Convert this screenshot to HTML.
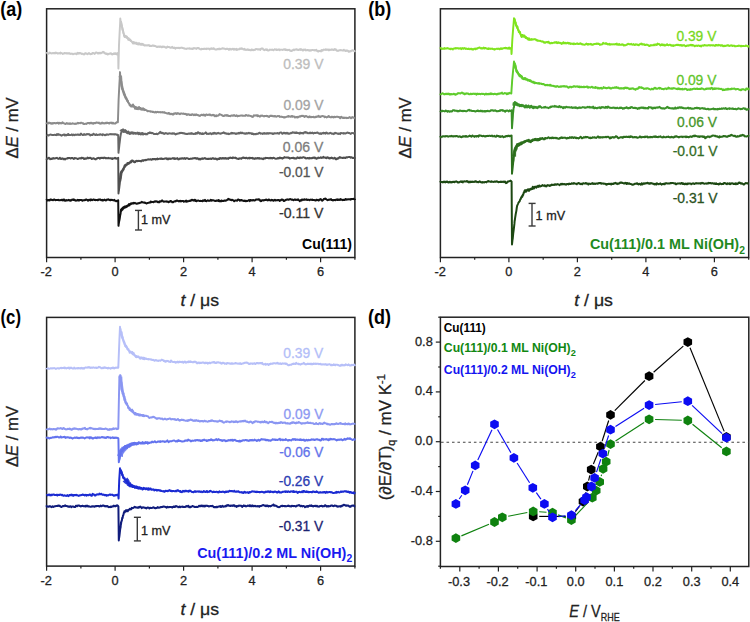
<!DOCTYPE html>
<html><head><meta charset="utf-8"><style>
html,body{margin:0;padding:0;background:#fff;}
svg{display:block;}
text{font-family:"Liberation Sans",sans-serif;}
</style></head><body>
<svg width="750" height="622" viewBox="0 0 750 622">
<rect width="750" height="622" fill="#fff"/>
<text x="0.2" y="15.6" font-size="19.5" fill="#000" font-weight="bold" font-style="normal" text-anchor="start" textLength="22" lengthAdjust="spacingAndGlyphs" >(a)</text>
<rect x="46.6" y="8.8" width="308.29999999999995" height="248.7" fill="none" stroke="#222" stroke-width="1.5"/>
<line x1="46.6" y1="257.5" x2="46.6" y2="262.2" stroke="#222" stroke-width="1.2"/>
<line x1="115.1" y1="257.5" x2="115.1" y2="262.2" stroke="#222" stroke-width="1.2"/>
<line x1="183.6" y1="257.5" x2="183.6" y2="262.2" stroke="#222" stroke-width="1.2"/>
<line x1="252.1" y1="257.5" x2="252.1" y2="262.2" stroke="#222" stroke-width="1.2"/>
<line x1="320.6" y1="257.5" x2="320.6" y2="262.2" stroke="#222" stroke-width="1.2"/>
<line x1="80.9" y1="257.5" x2="80.9" y2="259.8" stroke="#222" stroke-width="1.2"/>
<line x1="149.4" y1="257.5" x2="149.4" y2="259.8" stroke="#222" stroke-width="1.2"/>
<line x1="217.9" y1="257.5" x2="217.9" y2="259.8" stroke="#222" stroke-width="1.2"/>
<line x1="286.4" y1="257.5" x2="286.4" y2="259.8" stroke="#222" stroke-width="1.2"/>
<line x1="354.9" y1="257.5" x2="354.9" y2="259.8" stroke="#222" stroke-width="1.2"/>
<text x="46.3" y="276.4" font-size="12.8" fill="#222" stroke="#222" stroke-width="0.28" font-weight="normal" font-style="normal" text-anchor="middle" >-2</text>
<text x="115.1" y="276.4" font-size="12.8" fill="#222" stroke="#222" stroke-width="0.28" font-weight="normal" font-style="normal" text-anchor="middle" >0</text>
<text x="183.6" y="276.4" font-size="12.8" fill="#222" stroke="#222" stroke-width="0.28" font-weight="normal" font-style="normal" text-anchor="middle" >2</text>
<text x="252.1" y="276.4" font-size="12.8" fill="#222" stroke="#222" stroke-width="0.28" font-weight="normal" font-style="normal" text-anchor="middle" >4</text>
<text x="320.6" y="276.4" font-size="12.8" fill="#222" stroke="#222" stroke-width="0.28" font-weight="normal" font-style="normal" text-anchor="middle" >6</text>
<text x="180.4" y="306.2" font-size="17" fill="#222" stroke="#222" stroke-width="0.28" textLength="38.8" lengthAdjust="spacingAndGlyphs"><tspan font-style="italic">t</tspan> / μs</text>
<text transform="translate(17.6,158.4) rotate(-90)" font-size="17" fill="#222" stroke="#222" stroke-width="0.28" textLength="61" lengthAdjust="spacingAndGlyphs">Δ<tspan font-style="italic">E</tspan> / mV</text>
<polyline fill="none" stroke="#c8c8c8" stroke-width="1.95" stroke-linejoin="round" points="46.6,53.3 46.6,53.1 47.0,52.9 47.4,53.4 47.8,53.6 48.2,53.7 48.6,53.3 49.0,53.4 49.4,52.6 49.8,52.7 50.2,52.9 50.6,53.1 51.0,53.3 51.4,53.4 51.8,53.5 52.2,53.0 52.6,53.1 53.0,53.3 53.4,53.0 53.8,53.3 54.2,53.0 54.6,52.9 55.0,53.4 55.4,52.6 55.8,52.7 56.2,53.0 56.6,52.8 57.0,53.2 57.4,53.5 57.8,53.3 58.2,53.5 58.6,53.2 59.0,53.1 59.4,53.2 59.8,53.1 60.2,53.6 60.6,52.6 61.0,53.0 61.4,53.0 61.8,53.3 62.2,53.4 62.6,53.9 63.0,53.9 63.4,53.5 63.8,53.6 64.2,52.9 64.6,53.0 65.0,53.4 65.4,53.2 65.8,53.1 66.2,53.4 66.6,53.5 67.0,53.1 67.4,53.5 67.8,53.3 68.2,53.6 68.6,53.2 69.0,53.1 69.4,53.4 69.8,53.7 70.2,53.6 70.6,53.9 71.0,53.8 71.4,53.8 71.8,53.6 72.2,53.7 72.6,53.9 73.0,54.3 73.4,53.9 73.8,53.9 74.2,53.7 74.6,53.7 75.0,53.6 75.4,53.7 75.8,53.6 76.2,53.4 76.6,54.2 77.0,53.8 77.4,53.6 77.8,52.8 78.2,53.1 78.6,53.4 79.0,53.7 79.4,53.0 79.8,53.1 80.2,53.0 80.6,53.4 81.0,53.5 81.4,53.9 81.8,53.6 82.2,53.8 82.6,53.9 83.0,53.8 83.4,54.3 83.8,54.4 84.2,54.4 84.6,54.2 85.0,53.3 85.4,53.5 85.8,53.1 86.2,53.8 86.6,53.8 87.0,53.7 87.4,54.2 87.8,53.8 88.2,53.8 88.6,53.4 89.0,53.1 89.4,53.4 89.8,53.6 90.2,54.2 90.6,54.2 91.0,54.0 91.4,53.8 91.8,54.0 92.2,53.2 92.6,52.9 93.0,52.9 93.4,53.2 93.8,53.4 94.2,53.4 94.6,53.9 95.0,53.5 95.4,52.7 95.8,52.6 96.2,52.4 96.6,52.5 97.0,52.6 97.4,53.2 97.8,53.5 98.2,53.1 98.6,53.4 99.0,52.7 99.4,53.3 99.8,53.4 100.2,53.1 100.6,52.8 101.0,53.2 101.4,52.9 101.8,52.7 102.2,52.6 102.6,52.2 103.0,51.9 103.4,52.6 103.8,52.1 104.2,52.5 104.6,53.1 105.0,53.3 105.4,53.7 105.8,53.4 106.2,54.0 106.6,53.6 107.0,53.9 107.4,54.4 107.8,53.8 108.2,54.1 108.6,54.2 109.0,53.7 109.4,53.8 109.8,53.6 110.2,53.3 110.6,53.6 111.0,53.2 111.4,54.2 111.8,53.7 112.2,54.1 112.6,54.4 113.0,54.2 113.4,53.6 113.8,53.4 114.2,54.1 114.6,53.3 115.0,53.5 115.4,53.2 115.8,54.1 116.2,53.3 116.6,54.1 117.0,54.4 117.4,53.9 117.8,53.1 118.2,53.3 118.2,53.1 118.4,68.6 118.6,60.9 119.0,45.1 119.0,44.9 119.4,37.0 119.8,29.2 120.2,22.2 120.3,18.5 120.6,21.6 121.0,21.4 121.4,24.7 121.8,25.1 122.0,27.2 122.2,27.1 122.6,30.2 123.0,30.3 123.4,33.2 123.8,33.8 124.0,35.8 124.2,35.2 124.6,37.0 125.0,35.8 125.4,36.7 125.8,36.1 126.2,37.6 126.6,37.3 126.7,37.9 127.0,36.6 127.4,38.3 127.8,37.9 128.2,39.7 128.6,38.2 129.0,40.0 129.4,39.2 129.8,40.0 130.2,39.6 130.6,40.9 131.0,40.5 131.4,41.2 131.8,41.5 132.2,42.4 132.6,42.1 133.0,43.6 133.3,42.7 133.4,43.4 133.8,41.9 134.2,43.2 134.6,42.7 135.0,43.4 135.4,42.7 135.8,43.5 136.2,42.7 136.6,43.9 137.0,43.1 137.4,44.0 137.8,43.5 138.2,44.6 138.6,43.2 139.0,44.2 139.4,43.4 139.8,44.4 140.0,43.6 140.2,44.6 140.6,43.9 141.0,44.8 141.4,43.8 141.8,44.8 142.2,43.8 142.6,44.6 143.0,44.1 143.4,45.1 143.8,44.6 144.2,45.4 144.6,45.3 145.0,45.6 145.4,45.3 145.8,45.2 146.2,45.4 146.6,45.5 147.0,45.3 147.4,45.4 147.8,45.4 148.2,45.2 148.6,45.1 149.0,45.4 149.4,45.9 149.8,45.4 150.2,46.0 150.6,46.0 151.0,46.1 151.4,46.0 151.8,46.1 152.2,45.4 152.6,45.5 153.0,45.6 153.3,45.5 153.4,45.8 153.8,46.0 154.2,45.7 154.6,45.8 155.0,46.1 155.4,45.9 155.8,46.4 156.2,46.5 156.6,46.9 157.0,46.9 157.4,46.9 157.8,46.6 158.2,46.4 158.6,46.8 159.0,47.0 159.4,46.5 159.8,46.9 160.2,46.4 160.6,46.4 161.0,47.0 161.4,47.3 161.8,46.8 162.2,47.1 162.6,46.6 163.0,46.9 163.4,46.6 163.8,46.7 164.2,46.7 164.6,46.9 165.0,47.2 165.4,47.3 165.8,47.6 166.2,47.8 166.6,47.8 166.7,47.2 167.0,47.1 167.4,46.6 167.8,47.0 168.2,47.1 168.6,46.9 169.0,47.0 169.4,47.1 169.8,47.4 170.2,47.4 170.6,47.8 171.0,47.7 171.4,47.3 171.8,47.5 172.2,46.8 172.6,47.5 173.0,48.0 173.4,47.7 173.8,48.0 174.2,48.1 174.6,47.6 175.0,48.1 175.4,48.7 175.8,48.2 176.2,47.9 176.6,47.9 177.0,47.8 177.4,47.9 177.8,47.9 178.2,48.0 178.6,47.9 179.0,47.7 179.4,48.2 179.8,47.9 180.2,48.0 180.6,47.9 181.0,47.7 181.4,47.6 181.8,47.8 182.2,48.0 182.6,47.7 183.0,48.0 183.4,48.2 183.8,48.4 184.2,48.2 184.6,48.6 185.0,48.7 185.4,48.7 185.8,48.8 186.2,49.0 186.6,48.9 187.0,48.5 187.4,48.5 187.8,48.4 188.2,48.5 188.6,48.4 189.0,48.4 189.4,48.3 189.8,48.7 190.2,48.5 190.6,48.8 191.0,48.7 191.4,48.6 191.8,48.9 192.2,49.1 192.6,48.6 193.0,48.9 193.4,48.2 193.8,48.1 194.2,48.3 194.6,48.4 195.0,48.2 195.4,48.2 195.8,48.5 196.2,49.0 196.6,48.5 197.0,48.2 197.4,47.9 197.8,48.0 198.2,48.4 198.6,48.0 199.0,48.2 199.4,48.8 199.8,48.9 200.0,49.1 200.2,49.2 200.6,49.3 201.0,49.5 201.4,49.2 201.8,48.7 202.2,49.0 202.6,49.0 203.0,49.1 203.4,48.7 203.8,49.0 204.2,48.8 204.6,48.9 205.0,48.7 205.4,49.0 205.8,48.8 206.2,48.6 206.6,49.1 207.0,48.7 207.4,48.8 207.8,48.6 208.2,48.5 208.6,48.7 209.0,48.9 209.4,48.7 209.8,49.4 210.2,49.0 210.6,48.6 211.0,48.4 211.4,48.8 211.8,48.2 212.2,49.0 212.6,48.8 213.0,48.9 213.4,48.2 213.8,48.7 214.2,48.6 214.6,49.0 215.0,49.5 215.4,49.4 215.8,49.4 216.2,49.6 216.6,49.5 217.0,49.4 217.4,49.1 217.8,48.9 218.2,49.2 218.6,48.8 219.0,49.0 219.4,48.6 219.8,49.3 220.2,49.1 220.6,49.1 221.0,48.8 221.4,48.7 221.8,48.6 222.2,48.4 222.6,48.2 223.0,48.7 223.4,48.6 223.8,48.5 224.2,48.7 224.6,48.6 225.0,49.0 225.4,49.2 225.8,49.1 226.2,48.9 226.6,48.7 227.0,48.9 227.4,48.7 227.8,48.9 228.2,49.1 228.6,49.1 229.0,49.9 229.4,48.8 229.8,49.0 230.2,48.8 230.6,49.4 231.0,49.2 231.4,49.4 231.8,49.4 232.2,48.8 232.6,49.0 233.0,48.7 233.4,49.0 233.8,49.6 234.2,48.8 234.6,49.5 235.0,49.6 235.4,49.2 235.8,49.4 236.2,48.8 236.6,49.9 237.0,49.3 237.4,49.3 237.8,49.7 238.2,49.5 238.6,49.2 239.0,49.1 239.4,49.2 239.8,48.4 240.2,48.4 240.6,48.7 241.0,49.0 241.4,48.7 241.8,48.3 242.2,48.8 242.6,48.8 243.0,49.1 243.4,49.4 243.8,49.6 244.2,49.2 244.6,48.9 245.0,49.8 245.4,49.5 245.8,49.9 246.2,49.8 246.6,49.7 247.0,50.0 247.4,49.5 247.8,49.2 248.2,49.7 248.6,50.0 249.0,50.0 249.4,49.7 249.8,50.1 250.2,50.2 250.6,50.1 251.0,50.3 251.4,49.5 251.8,49.5 252.2,49.6 252.6,50.1 253.0,49.7 253.4,50.3 253.8,50.0 254.2,49.8 254.6,49.9 255.0,49.8 255.4,49.7 255.8,49.0 256.2,49.2 256.6,49.0 257.0,49.0 257.4,49.4 257.8,49.4 258.2,49.5 258.6,49.6 259.0,49.1 259.4,49.3 259.8,49.5 260.2,50.0 260.6,49.2 261.0,48.7 261.4,48.7 261.8,48.4 262.2,48.5 262.6,48.4 263.0,49.0 263.4,49.6 263.8,49.6 264.2,50.2 264.6,49.9 265.0,49.8 265.4,49.5 265.8,49.3 266.2,49.9 266.6,49.7 267.0,49.4 267.4,50.3 267.8,50.4 268.2,50.6 268.6,50.4 269.0,50.3 269.4,49.8 269.8,49.6 270.2,49.8 270.6,49.7 271.0,49.8 271.4,49.8 271.8,49.9 272.2,49.6 272.6,49.8 273.0,49.9 273.4,50.3 273.8,49.8 274.2,49.6 274.6,49.3 275.0,49.4 275.4,49.5 275.8,49.8 276.2,49.4 276.6,50.1 277.0,49.6 277.4,49.9 277.8,49.7 278.2,49.8 278.6,49.6 279.0,49.3 279.4,49.9 279.8,50.3 280.2,49.7 280.6,49.6 281.0,49.6 281.4,49.6 281.8,49.7 282.2,49.9 282.6,49.9 283.0,49.8 283.4,49.8 283.8,49.2 284.2,49.2 284.6,49.5 285.0,50.0 285.4,49.3 285.8,49.9 286.2,49.6 286.6,50.1 287.0,50.1 287.4,50.3 287.8,49.7 288.2,50.1 288.6,50.1 289.0,49.8 289.4,49.8 289.8,50.1 290.2,50.9 290.6,50.8 291.0,51.0 291.4,50.6 291.8,50.9 292.2,50.7 292.6,50.4 293.0,50.1 293.4,49.7 293.8,49.5 294.2,50.1 294.6,49.7 295.0,49.8 295.4,49.4 295.8,49.5 296.2,49.2 296.6,49.4 297.0,49.8 297.4,49.6 297.8,49.9 298.2,50.1 298.6,49.8 299.0,49.8 299.4,49.7 299.8,49.4 300.2,49.1 300.6,49.9 301.0,49.7 301.4,49.2 301.8,49.7 302.2,50.2 302.6,50.2 303.0,50.6 303.4,49.9 303.8,49.6 304.2,49.7 304.6,49.6 305.0,49.9 305.4,49.5 305.8,50.4 306.2,50.1 306.6,50.2 307.0,50.3 307.4,50.0 307.8,49.9 308.2,50.2 308.6,50.2 309.0,50.6 309.4,50.2 309.8,50.7 310.2,50.3 310.6,50.2 311.0,50.6 311.4,50.2 311.8,50.0 312.2,50.0 312.6,49.9 313.0,50.0 313.4,50.1 313.8,50.2 314.2,50.0 314.6,50.4 315.0,50.4 315.4,50.4 315.8,50.0 316.2,49.7 316.6,50.2 317.0,50.9 317.4,50.9 317.8,51.4 318.2,50.9 318.6,51.5 319.0,51.0 319.4,51.1 319.8,51.1 320.2,50.7 320.6,50.8 321.0,51.4 321.4,50.4 321.8,50.0 322.2,50.1 322.6,50.7 323.0,50.0 323.4,49.7 323.8,49.5 324.2,49.8 324.6,49.8 325.0,49.8 325.4,49.6 325.8,49.2 326.2,50.0 326.6,49.8 327.0,49.4 327.4,49.7 327.8,49.8 328.2,49.6 328.6,50.3 329.0,49.7 329.4,50.1 329.8,49.6 330.2,49.8 330.6,49.7 331.0,50.0 331.4,49.8 331.8,49.3 332.2,49.8 332.6,49.6 333.0,49.7 333.4,50.0 333.8,50.0 334.2,49.3 334.6,49.1 335.0,49.6 335.4,49.8 335.8,49.3 336.2,50.2 336.6,50.3 337.0,50.7 337.4,50.8 337.8,50.9 338.2,50.5 338.6,50.8 339.0,50.4 339.4,50.3 339.8,50.3 340.2,50.1 340.6,50.3 341.0,50.4 341.4,50.2 341.8,50.3 342.2,50.4 342.6,50.4 343.0,50.5 343.4,50.4 343.8,49.7 344.2,50.5 344.6,50.6 345.0,50.5 345.4,50.9 345.8,51.1 346.2,50.3 346.6,50.8 347.0,50.7 347.4,50.5 347.8,50.6 348.2,51.0 348.6,51.7 349.0,51.9 349.4,51.5 349.8,51.2 350.2,51.0 350.6,51.5 351.0,50.9 351.4,51.0 351.8,50.5 352.2,50.2 352.6,50.6 353.0,50.3 353.4,50.8 353.8,50.7 354.2,50.8 354.6,51.2 354.9,50.8 354.9,50.7"/><polygon fill="#c8c8c8" opacity="0.9" points="119.9,22.8 120.4,25.0 121.1,27.2 121.4,29.2 122.1,31.1 122.6,33.0 123.2,35.1 123.9,35.8 124.5,36.2 124.9,36.7 125.4,37.2 126.0,37.7 126.6,38.1 127.1,38.4 127.7,38.7 128.1,39.2 128.7,39.6 129.2,40.0 129.8,40.3 130.3,40.7 130.8,41.1 131.2,40.5 130.7,40.1 130.2,39.7 129.8,39.2 129.3,38.8 128.9,38.3 128.3,38.0 127.9,37.5 127.4,37.0 127.0,36.6 126.6,36.0 126.1,35.5 125.5,35.1 125.1,34.6 124.8,34.3 124.4,32.5 123.9,30.6 123.6,28.7 122.9,26.8 122.6,24.5 122.1,22.3"/>
<polyline fill="none" stroke="#8c8c8c" stroke-width="1.95" stroke-linejoin="round" points="46.6,123.0 46.6,123.2 47.0,123.1 47.4,122.8 47.8,123.2 48.2,123.3 48.6,123.4 49.0,122.6 49.4,122.8 49.8,122.9 50.2,123.2 50.6,123.5 51.0,123.1 51.4,123.4 51.8,123.7 52.2,123.4 52.6,123.1 53.0,123.6 53.4,123.0 53.8,123.3 54.2,122.9 54.6,123.0 55.0,122.9 55.4,123.3 55.8,123.4 56.2,123.1 56.6,122.9 57.0,123.1 57.4,122.8 57.8,122.6 58.2,122.6 58.6,123.7 59.0,123.4 59.4,122.8 59.8,123.3 60.2,123.1 60.6,123.0 61.0,123.5 61.4,123.1 61.8,123.3 62.2,122.6 62.6,122.3 63.0,122.9 63.4,123.1 63.8,123.2 64.2,123.5 64.6,123.4 65.0,123.8 65.4,124.1 65.8,123.7 66.2,123.7 66.6,123.1 67.0,123.5 67.4,123.3 67.8,123.8 68.2,123.6 68.6,123.7 69.0,123.4 69.4,123.4 69.8,123.9 70.2,123.3 70.6,123.5 71.0,123.9 71.4,123.8 71.8,123.8 72.2,123.4 72.6,123.3 73.0,123.5 73.4,123.5 73.8,123.7 74.2,123.9 74.6,123.7 75.0,123.6 75.4,123.9 75.8,123.8 76.2,123.6 76.6,123.8 77.0,123.4 77.4,123.3 77.8,122.7 78.2,123.0 78.6,123.4 79.0,123.0 79.4,123.1 79.8,123.1 80.2,123.2 80.6,122.9 81.0,122.7 81.4,122.8 81.8,122.9 82.2,123.1 82.6,123.4 83.0,123.3 83.4,123.3 83.8,124.0 84.2,123.9 84.6,123.9 85.0,123.9 85.4,123.8 85.8,123.8 86.2,123.6 86.6,123.9 87.0,123.5 87.4,123.0 87.8,123.1 88.2,123.1 88.6,122.9 89.0,123.1 89.4,123.5 89.8,123.1 90.2,123.3 90.6,122.7 91.0,122.8 91.4,123.3 91.8,122.9 92.2,123.4 92.6,123.2 93.0,123.0 93.4,123.7 93.8,123.0 94.2,123.0 94.6,123.0 95.0,123.3 95.4,123.1 95.8,122.8 96.2,122.7 96.6,122.4 97.0,122.7 97.4,122.7 97.8,122.8 98.2,123.0 98.6,122.9 99.0,122.6 99.4,123.4 99.8,123.4 100.2,123.4 100.6,123.3 101.0,123.7 101.4,123.5 101.8,122.9 102.2,122.6 102.6,123.3 103.0,123.0 103.4,123.4 103.8,123.0 104.2,123.2 104.6,123.5 105.0,123.3 105.4,122.7 105.8,123.3 106.2,123.3 106.6,122.9 107.0,122.5 107.4,123.0 107.8,123.0 108.2,122.9 108.6,123.2 109.0,123.5 109.4,123.5 109.8,122.7 110.2,122.9 110.6,122.7 111.0,122.6 111.4,122.9 111.8,122.8 112.2,123.6 112.6,122.9 113.0,122.7 113.4,123.1 113.8,123.6 114.2,123.6 114.6,123.4 115.0,123.4 115.4,123.5 115.8,122.8 116.2,122.8 116.6,122.6 117.0,121.9 117.4,122.1 117.8,122.0 117.9,122.3 118.2,112.8 118.6,99.6 118.6,99.7 119.0,91.7 119.4,84.1 119.8,77.8 120.0,72.1 120.2,75.0 120.6,76.5 121.0,80.7 121.4,81.8 121.8,86.4 122.1,86.8 122.2,89.0 122.6,88.8 123.0,91.2 123.4,91.6 123.8,94.1 124.2,92.8 124.6,95.5 125.0,95.0 125.3,97.0 125.4,96.3 125.8,98.4 126.2,97.4 126.6,99.7 127.0,99.1 127.4,101.3 127.8,100.5 128.2,102.5 128.6,102.7 129.0,103.7 129.4,103.7 129.6,105.2 129.8,104.4 130.2,105.7 130.6,105.1 131.0,106.6 131.4,105.5 131.8,106.4 132.2,105.5 132.6,106.4 133.0,104.5 133.4,106.5 133.8,105.6 134.2,107.2 134.6,106.6 135.0,108.8 135.4,107.0 135.8,108.7 136.2,107.3 136.6,109.0 137.0,107.5 137.4,109.0 137.8,108.2 138.1,109.2 138.2,107.7 138.6,108.8 139.0,106.9 139.4,108.2 139.8,107.7 140.2,109.3 140.6,107.9 141.0,109.5 141.4,108.6 141.8,109.8 142.2,108.7 142.6,109.7 143.0,108.2 143.4,109.1 143.8,109.2 144.2,110.2 144.6,109.1 145.0,109.9 145.4,109.9 145.8,110.0 146.2,110.1 146.6,110.3 147.0,110.7 147.4,111.3 147.8,111.0 148.2,111.2 148.6,111.0 149.0,111.1 149.4,111.1 149.8,111.3 150.2,111.3 150.6,111.7 150.9,111.6 151.0,111.3 151.4,111.6 151.8,111.7 152.2,111.6 152.6,112.0 153.0,111.7 153.4,111.9 153.8,112.1 154.2,112.3 154.6,112.5 155.0,112.5 155.4,111.9 155.8,112.2 156.2,112.4 156.6,112.4 157.0,112.0 157.4,112.0 157.8,111.8 158.2,112.1 158.6,112.2 159.0,112.2 159.4,112.2 159.8,112.0 160.2,112.0 160.6,112.4 161.0,112.5 161.4,112.3 161.8,112.2 162.2,112.0 162.6,112.4 163.0,112.6 163.4,112.3 163.8,112.5 164.2,112.1 164.6,112.8 165.0,112.6 165.4,112.7 165.8,113.0 166.2,113.1 166.6,113.3 167.0,113.5 167.4,113.4 167.8,113.4 168.0,113.7 168.2,113.0 168.6,113.3 169.0,113.0 169.4,113.7 169.8,113.5 170.2,114.2 170.6,113.9 171.0,113.9 171.4,113.7 171.8,114.0 172.2,114.5 172.6,114.0 173.0,113.8 173.4,114.6 173.8,113.9 174.2,113.3 174.6,113.6 175.0,113.7 175.4,113.5 175.8,113.0 176.2,113.7 176.6,114.0 177.0,113.9 177.4,113.2 177.8,113.1 178.2,113.4 178.6,113.5 179.0,113.7 179.4,114.1 179.8,113.7 180.2,114.1 180.6,113.5 181.0,113.5 181.4,113.6 181.8,113.5 182.2,113.6 182.6,113.8 183.0,113.6 183.4,113.5 183.8,113.6 184.2,113.9 184.6,113.9 185.0,114.0 185.4,113.8 185.8,114.3 186.2,114.0 186.6,114.2 187.0,115.0 187.4,114.8 187.8,114.2 188.2,114.4 188.6,114.2 189.0,114.5 189.4,115.0 189.8,114.5 190.2,114.9 190.6,115.0 191.0,114.9 191.4,114.6 191.8,114.9 192.2,114.2 192.6,114.6 193.0,114.5 193.4,114.6 193.8,115.2 194.2,114.9 194.6,114.5 195.0,114.6 195.4,115.1 195.8,114.5 196.2,114.3 196.6,114.9 197.0,114.8 197.4,114.9 197.8,115.2 198.2,115.4 198.6,115.3 199.0,115.5 199.4,115.8 199.8,116.0 200.0,115.8 200.2,115.7 200.6,115.2 201.0,115.1 201.4,114.8 201.8,114.7 202.2,115.3 202.6,114.9 203.0,114.8 203.4,115.1 203.8,114.5 204.2,114.8 204.6,115.6 205.0,115.0 205.4,115.6 205.8,115.2 206.2,114.5 206.6,114.4 207.0,114.6 207.4,114.6 207.8,115.1 208.2,114.9 208.6,114.7 209.0,114.6 209.4,114.4 209.8,114.5 210.2,115.2 210.6,114.8 211.0,115.0 211.4,115.4 211.8,115.5 212.2,115.1 212.6,115.0 213.0,114.7 213.4,115.1 213.8,115.4 214.2,115.4 214.6,115.2 215.0,116.3 215.4,115.7 215.8,115.7 216.2,116.3 216.6,115.3 217.0,115.9 217.4,115.8 217.8,115.7 218.2,115.4 218.6,115.5 219.0,114.9 219.4,114.3 219.8,114.0 220.2,114.5 220.6,114.6 221.0,114.7 221.4,115.0 221.8,115.0 222.2,115.3 222.6,115.8 223.0,116.0 223.4,115.8 223.8,116.0 224.2,116.0 224.6,115.4 225.0,115.2 225.4,115.4 225.8,115.4 226.2,115.2 226.6,115.1 227.0,115.8 227.4,115.1 227.8,115.1 228.2,115.7 228.6,116.0 229.0,115.9 229.4,116.1 229.8,116.0 230.2,115.9 230.6,116.2 231.0,115.7 231.4,115.4 231.8,115.4 232.2,115.5 232.6,115.8 233.0,115.7 233.4,115.3 233.8,115.4 234.2,115.1 234.6,115.6 235.0,115.7 235.4,116.1 235.8,115.9 236.2,115.5 236.6,115.2 237.0,116.0 237.4,116.4 237.8,116.0 238.2,116.0 238.6,115.8 239.0,116.0 239.4,115.9 239.8,115.8 240.2,115.7 240.6,115.5 241.0,115.5 241.4,115.4 241.8,115.4 242.2,115.7 242.6,115.6 243.0,115.8 243.4,115.7 243.8,115.8 244.2,115.6 244.6,115.6 245.0,115.8 245.4,115.8 245.8,115.0 246.2,115.2 246.6,115.0 247.0,115.5 247.4,115.7 247.8,115.6 248.2,115.8 248.6,115.3 249.0,115.5 249.4,115.6 249.8,115.8 250.2,115.9 250.6,116.0 251.0,115.9 251.4,116.4 251.8,116.4 252.2,116.9 252.6,116.6 253.0,116.7 253.4,115.9 253.8,115.3 254.2,115.8 254.6,115.5 255.0,115.6 255.4,115.5 255.8,115.6 256.2,115.4 256.6,115.2 257.0,115.5 257.4,116.1 257.8,115.2 258.2,115.9 258.6,115.7 259.0,116.0 259.4,116.5 259.8,116.7 260.2,116.3 260.6,115.8 261.0,115.5 261.4,115.8 261.8,115.9 262.2,115.5 262.6,115.9 263.0,116.0 263.4,116.2 263.8,116.1 264.2,116.4 264.6,115.9 265.0,115.9 265.4,116.0 265.8,115.9 266.2,116.0 266.6,115.7 267.0,116.3 267.4,116.0 267.8,116.4 268.2,116.3 268.6,116.8 269.0,117.0 269.4,116.1 269.8,116.1 270.2,115.7 270.6,115.9 271.0,115.9 271.4,115.7 271.8,115.9 272.2,115.7 272.6,116.3 273.0,116.2 273.4,116.3 273.8,116.1 274.2,116.5 274.6,116.0 275.0,116.3 275.4,116.1 275.8,116.3 276.2,116.7 276.6,116.4 277.0,116.4 277.4,116.3 277.8,116.0 278.2,116.0 278.6,116.1 279.0,116.3 279.4,116.1 279.8,116.9 280.2,116.8 280.6,116.8 281.0,116.7 281.4,116.7 281.8,116.6 282.2,117.0 282.6,117.0 283.0,117.0 283.4,117.2 283.8,117.5 284.2,117.1 284.6,117.5 285.0,117.4 285.4,117.1 285.8,117.2 286.2,117.0 286.6,116.8 287.0,116.6 287.4,116.4 287.8,116.3 288.2,116.7 288.6,116.0 289.0,116.1 289.4,116.6 289.8,116.5 290.2,116.7 290.6,116.7 291.0,116.4 291.4,116.1 291.8,116.7 292.2,116.3 292.6,116.0 293.0,116.7 293.4,116.5 293.8,116.6 294.2,116.7 294.6,116.6 295.0,117.5 295.4,117.3 295.8,117.3 296.2,116.9 296.6,117.0 297.0,117.4 297.4,116.9 297.8,117.5 298.2,117.3 298.6,116.7 299.0,116.7 299.4,116.4 299.8,116.3 300.2,116.6 300.6,116.1 301.0,116.2 301.4,116.1 301.8,115.7 302.2,116.0 302.6,115.8 303.0,115.8 303.4,116.2 303.8,116.2 304.2,116.2 304.6,117.0 305.0,116.4 305.4,116.0 305.8,116.3 306.2,116.3 306.6,116.0 307.0,116.5 307.4,117.0 307.8,116.9 308.2,117.2 308.6,117.2 309.0,116.9 309.4,116.4 309.8,116.8 310.2,117.2 310.6,116.9 311.0,116.7 311.4,117.3 311.8,117.0 312.2,117.0 312.6,116.9 313.0,116.9 313.4,116.8 313.8,117.2 314.2,117.1 314.6,117.2 315.0,117.4 315.4,117.2 315.8,116.9 316.2,116.5 316.6,117.0 317.0,116.8 317.4,116.8 317.8,116.2 318.2,116.5 318.6,115.8 319.0,116.8 319.4,116.4 319.8,116.4 320.2,117.1 320.6,116.9 321.0,116.2 321.4,116.4 321.8,116.2 322.2,116.0 322.6,116.0 323.0,116.3 323.4,116.2 323.8,116.4 324.2,116.5 324.6,117.2 325.0,116.6 325.4,116.7 325.8,116.9 326.2,116.9 326.6,117.5 327.0,117.2 327.4,116.8 327.8,116.9 328.2,116.7 328.6,115.9 329.0,116.3 329.4,116.9 329.8,116.9 330.2,117.1 330.6,117.2 331.0,117.4 331.4,116.8 331.8,116.8 332.2,117.0 332.6,116.7 333.0,117.1 333.4,117.4 333.8,117.2 334.2,116.8 334.6,116.8 335.0,117.2 335.4,116.9 335.8,117.0 336.2,116.7 336.6,116.8 337.0,116.7 337.4,116.6 337.8,116.6 338.2,117.0 338.6,117.1 339.0,116.9 339.4,117.5 339.8,117.8 340.2,118.2 340.6,117.2 341.0,116.9 341.4,116.8 341.8,117.4 342.2,117.8 342.6,117.6 343.0,118.0 343.4,117.9 343.8,117.6 344.2,117.9 344.6,117.9 345.0,117.7 345.4,117.7 345.8,117.9 346.2,117.7 346.6,118.1 347.0,117.7 347.4,118.0 347.8,117.9 348.2,118.1 348.6,117.7 349.0,117.6 349.4,117.2 349.8,117.0 350.2,117.5 350.6,118.0 351.0,118.3 351.4,117.9 351.8,117.8 352.2,117.0 352.6,117.4 353.0,117.4 353.4,117.4 353.8,117.7 354.2,117.8 354.6,118.3 354.9,118.3 354.9,118.3"/><polygon fill="#8c8c8c" opacity="0.9" points="118.6,76.1 119.3,79.4 120.1,82.6 120.5,85.9 121.0,88.7 121.7,90.2 122.0,91.7 122.8,93.1 123.1,94.7 123.8,96.1 124.5,97.7 124.9,98.7 125.6,99.5 126.0,100.4 126.5,101.3 127.0,102.1 127.6,102.9 128.3,103.7 128.7,104.6 129.5,105.4 130.0,105.7 130.6,105.8 131.1,106.1 131.6,106.2 132.0,105.4 131.5,105.1 131.0,104.9 130.6,104.5 130.1,104.4 129.9,103.9 129.3,103.1 129.0,102.1 128.6,101.2 128.1,100.3 127.6,99.4 127.0,98.6 126.7,97.7 126.1,96.9 125.8,95.5 125.5,93.9 124.8,92.5 124.6,90.9 123.9,89.4 123.6,87.9 123.1,85.5 122.5,82.3 122.3,78.9 122.0,75.6"/>
<polyline fill="none" stroke="#666666" stroke-width="1.95" stroke-linejoin="round" points="46.6,134.7 46.6,134.7 47.0,134.9 47.4,134.9 47.8,135.0 48.2,135.5 48.6,135.6 49.0,135.2 49.4,135.0 49.8,134.6 50.2,134.6 50.6,134.5 51.0,134.7 51.4,134.8 51.8,134.9 52.2,135.1 52.6,135.0 53.0,134.9 53.4,134.9 53.8,135.0 54.2,134.8 54.6,134.8 55.0,135.0 55.4,135.1 55.8,134.7 56.2,135.1 56.6,134.2 57.0,134.9 57.4,134.4 57.8,134.7 58.2,134.0 58.6,134.8 59.0,134.6 59.4,134.8 59.8,134.5 60.2,135.0 60.6,135.0 61.0,135.1 61.4,135.7 61.8,135.5 62.2,135.0 62.6,135.2 63.0,135.0 63.4,134.5 63.8,134.7 64.2,134.5 64.6,135.4 65.0,134.6 65.4,135.3 65.8,135.4 66.2,135.1 66.6,135.2 67.0,134.9 67.4,134.6 67.8,135.0 68.2,134.0 68.6,135.0 69.0,134.7 69.4,134.8 69.8,135.1 70.2,135.1 70.6,135.1 71.0,134.9 71.4,134.8 71.8,134.4 72.2,134.8 72.6,135.3 73.0,135.1 73.4,134.5 73.8,134.7 74.2,134.7 74.6,135.2 75.0,134.8 75.4,134.5 75.8,134.7 76.2,134.7 76.6,134.8 77.0,135.0 77.4,134.4 77.8,134.4 78.2,134.5 78.6,134.6 79.0,135.0 79.4,134.6 79.8,134.7 80.2,134.9 80.6,134.3 81.0,133.6 81.4,134.3 81.8,134.5 82.2,134.6 82.6,134.9 83.0,134.9 83.4,134.9 83.8,134.2 84.2,134.1 84.6,134.7 85.0,134.7 85.4,134.4 85.8,134.8 86.2,134.4 86.6,134.5 87.0,133.9 87.4,134.1 87.8,134.3 88.2,134.4 88.6,134.3 89.0,134.1 89.4,134.2 89.8,134.8 90.2,135.4 90.6,135.1 91.0,134.7 91.4,135.1 91.8,134.8 92.2,135.1 92.6,134.9 93.0,134.3 93.4,133.7 93.8,133.9 94.2,134.5 94.6,134.4 95.0,134.9 95.4,134.7 95.8,134.9 96.2,134.2 96.6,134.8 97.0,134.8 97.4,135.0 97.8,134.6 98.2,134.6 98.6,134.7 99.0,134.7 99.4,134.5 99.8,134.7 100.2,134.3 100.6,134.3 101.0,134.5 101.4,134.6 101.8,134.7 102.2,135.2 102.6,134.7 103.0,134.2 103.4,134.6 103.8,134.7 104.2,134.9 104.6,134.9 105.0,135.2 105.4,134.8 105.8,135.0 106.2,135.0 106.6,134.4 107.0,134.3 107.4,134.5 107.8,134.6 108.2,134.8 108.6,134.4 109.0,134.4 109.4,134.2 109.8,134.2 110.2,134.1 110.6,134.3 111.0,134.1 111.4,134.3 111.8,134.4 112.2,134.3 112.6,134.4 113.0,134.3 113.4,134.2 113.8,134.4 114.2,134.6 114.6,134.3 115.0,134.0 115.4,134.3 115.8,134.5 116.2,134.7 116.6,134.4 117.0,134.4 117.4,135.0 117.8,134.8 118.2,135.0 118.2,135.3 118.5,152.8 118.6,151.7 119.0,148.5 119.3,145.6 119.4,144.6 119.8,141.6 120.2,138.2 120.5,135.9 120.6,135.5 121.0,133.2 121.4,132.7 121.5,130.3 121.8,131.8 122.2,130.3 122.6,131.6 123.0,129.5 123.0,130.7 123.4,129.6 123.8,132.0 124.2,131.0 124.6,131.8 125.0,130.4 125.0,131.2 125.4,130.2 125.8,132.0 126.2,131.1 126.6,132.7 127.0,132.0 127.0,133.0 127.4,132.3 127.8,133.3 128.2,131.5 128.6,133.2 129.0,132.4 129.4,133.7 129.8,132.4 130.0,134.1 130.2,133.1 130.6,133.6 131.0,132.5 131.4,133.4 131.8,132.2 132.2,133.1 132.6,132.6 133.0,133.8 133.4,132.7 133.8,133.7 134.2,132.8 134.6,133.3 135.0,132.9 135.4,133.8 135.8,133.1 136.2,133.4 136.6,133.3 137.0,133.8 137.4,132.6 137.8,133.3 138.2,133.1 138.6,134.3 139.0,132.8 139.4,133.0 139.8,133.4 140.0,134.0 140.2,133.3 140.6,134.4 141.0,133.7 141.4,134.2 141.8,133.1 142.2,134.2 142.6,133.0 143.0,134.6 143.4,133.6 143.8,133.7 144.2,133.7 144.6,134.1 145.0,133.8 145.4,134.2 145.8,133.8 146.2,134.3 146.6,134.0 147.0,134.4 147.4,133.9 147.8,133.2 148.2,133.1 148.6,133.3 149.0,132.8 149.4,132.8 149.8,132.4 150.2,133.1 150.6,132.7 151.0,132.7 151.4,133.3 151.8,132.8 152.2,133.0 152.6,132.9 153.0,133.3 153.4,133.6 153.8,133.9 154.2,133.9 154.6,134.0 155.0,134.1 155.4,134.0 155.8,134.1 156.2,134.1 156.6,133.6 157.0,133.7 157.4,134.3 157.8,134.0 158.2,133.6 158.6,133.6 159.0,133.2 159.4,132.6 159.8,132.5 160.2,131.9 160.6,132.7 161.0,133.0 161.4,133.1 161.8,132.5 162.2,133.3 162.6,132.9 163.0,132.9 163.4,133.3 163.8,133.7 164.2,133.7 164.6,133.9 165.0,133.4 165.4,133.0 165.8,133.2 166.2,133.3 166.6,133.2 167.0,133.6 167.4,133.8 167.8,133.9 168.2,133.7 168.6,133.6 169.0,133.2 169.4,133.3 169.8,133.5 170.2,133.5 170.6,133.5 171.0,133.6 171.4,133.5 171.8,133.8 172.2,133.7 172.6,133.3 173.0,133.3 173.4,133.5 173.8,133.7 174.2,133.3 174.6,133.5 175.0,134.0 175.4,134.5 175.8,134.0 176.2,134.2 176.6,134.0 177.0,133.6 177.4,133.8 177.8,133.6 178.2,133.4 178.6,133.6 179.0,133.4 179.4,133.0 179.8,133.2 180.2,132.8 180.6,133.1 181.0,133.1 181.4,132.8 181.8,133.0 182.2,132.9 182.6,133.2 183.0,133.2 183.4,133.1 183.8,133.3 184.2,133.6 184.6,133.3 185.0,133.7 185.4,133.8 185.8,134.0 186.2,134.0 186.6,133.8 187.0,134.0 187.4,134.0 187.8,133.9 188.2,133.6 188.6,133.8 189.0,133.5 189.4,133.7 189.8,133.7 190.2,133.3 190.6,133.7 191.0,133.4 191.4,133.8 191.8,133.1 192.2,133.8 192.6,133.8 193.0,133.8 193.4,133.9 193.8,134.1 194.2,133.8 194.6,133.8 195.0,133.6 195.4,133.9 195.8,132.9 196.2,132.9 196.6,133.6 197.0,133.7 197.4,132.8 197.8,132.2 198.2,132.2 198.6,132.5 199.0,133.1 199.4,133.6 199.8,133.3 200.2,133.1 200.6,133.3 201.0,133.8 201.4,133.9 201.8,133.9 202.2,133.2 202.6,133.5 203.0,134.1 203.4,133.9 203.8,133.4 204.2,133.4 204.6,133.5 205.0,133.1 205.4,132.9 205.8,132.4 206.2,132.9 206.6,133.2 207.0,134.0 207.4,133.8 207.8,133.7 208.2,134.0 208.6,133.7 209.0,133.6 209.4,133.4 209.8,133.7 210.2,133.2 210.6,133.3 211.0,133.7 211.4,134.2 211.8,133.7 212.2,133.5 212.6,133.7 213.0,133.1 213.4,133.7 213.8,133.2 214.2,132.8 214.6,133.4 215.0,133.0 215.4,133.1 215.8,133.6 216.2,133.8 216.6,133.7 217.0,133.3 217.4,133.2 217.8,133.1 218.2,132.8 218.6,133.3 219.0,133.4 219.4,133.5 219.8,133.3 220.2,133.6 220.6,133.7 221.0,133.6 221.4,133.3 221.8,133.2 222.2,133.1 222.6,133.0 223.0,132.7 223.4,132.6 223.8,132.3 224.2,133.2 224.6,133.1 225.0,133.0 225.4,133.3 225.8,133.3 226.2,133.7 226.6,133.4 227.0,133.5 227.4,133.9 227.8,133.8 228.2,133.9 228.6,133.6 229.0,134.2 229.4,134.0 229.8,133.8 230.2,133.6 230.6,133.3 231.0,133.4 231.4,133.5 231.8,132.9 232.2,133.4 232.6,133.0 233.0,133.0 233.4,133.3 233.8,133.5 234.2,133.2 234.6,133.2 235.0,133.2 235.4,133.8 235.8,134.0 236.2,133.6 236.6,133.8 237.0,133.3 237.4,133.6 237.8,133.3 238.2,133.1 238.6,133.4 239.0,132.8 239.4,133.4 239.8,133.5 240.2,132.9 240.6,132.5 241.0,133.0 241.4,132.8 241.8,133.2 242.2,132.9 242.6,132.7 243.0,133.1 243.4,133.3 243.8,133.5 244.2,133.5 244.6,133.3 245.0,133.7 245.4,133.5 245.8,133.8 246.2,133.3 246.6,133.1 247.0,133.2 247.4,133.6 247.8,133.3 248.2,133.1 248.6,133.2 249.0,132.8 249.4,133.0 249.8,133.4 250.2,133.3 250.6,133.1 251.0,133.1 251.4,133.6 251.8,133.9 252.2,133.4 252.6,134.0 253.0,133.6 253.4,134.0 253.8,134.5 254.2,134.3 254.6,134.0 255.0,134.0 255.4,134.2 255.8,133.9 256.2,134.2 256.6,133.7 257.0,133.8 257.4,133.7 257.8,133.9 258.2,133.8 258.6,133.2 259.0,133.0 259.4,132.7 259.8,132.7 260.2,133.5 260.6,133.7 261.0,133.5 261.4,133.5 261.8,133.5 262.2,133.5 262.6,133.9 263.0,133.6 263.4,133.2 263.8,133.2 264.2,133.8 264.6,133.0 265.0,133.4 265.4,133.5 265.8,133.7 266.2,133.4 266.6,133.3 267.0,133.6 267.4,133.1 267.8,133.2 268.2,133.7 268.6,133.2 269.0,133.3 269.4,133.4 269.8,133.2 270.2,133.3 270.6,133.1 271.0,133.1 271.4,133.3 271.8,133.5 272.2,133.8 272.6,133.4 273.0,134.1 273.4,133.6 273.8,133.5 274.2,133.1 274.6,133.5 275.0,133.5 275.4,133.4 275.8,133.3 276.2,133.5 276.6,133.3 277.0,133.1 277.4,133.0 277.8,133.4 278.2,133.3 278.6,133.6 279.0,133.7 279.4,133.3 279.8,132.7 280.2,132.6 280.6,132.5 281.0,132.4 281.4,132.6 281.8,133.0 282.2,133.7 282.6,133.8 283.0,133.4 283.4,133.2 283.8,132.7 284.2,132.8 284.6,133.3 285.0,133.1 285.4,133.5 285.8,133.5 286.2,132.9 286.6,133.4 287.0,133.3 287.4,133.4 287.8,132.9 288.2,133.7 288.6,133.7 289.0,133.5 289.4,133.7 289.8,133.4 290.2,133.5 290.6,133.3 291.0,132.7 291.4,133.1 291.8,132.7 292.2,132.7 292.6,132.3 293.0,132.4 293.4,132.7 293.8,132.5 294.2,132.5 294.6,132.9 295.0,132.6 295.4,133.1 295.8,132.9 296.2,132.3 296.6,133.0 297.0,132.6 297.4,132.6 297.8,133.1 298.2,133.0 298.6,133.3 299.0,133.4 299.4,133.3 299.8,133.7 300.2,132.6 300.6,133.0 301.0,133.0 301.4,133.2 301.8,132.9 302.2,133.2 302.6,133.4 303.0,133.3 303.4,133.5 303.8,132.8 304.2,132.2 304.6,132.2 305.0,132.3 305.4,132.6 305.8,132.1 306.2,132.5 306.6,132.5 307.0,132.4 307.4,133.2 307.8,133.0 308.2,133.1 308.6,133.2 309.0,133.3 309.4,133.2 309.8,132.7 310.2,132.5 310.6,133.2 311.0,133.2 311.4,132.9 311.8,133.0 312.2,132.5 312.6,132.8 313.0,133.1 313.4,133.5 313.8,133.1 314.2,133.0 314.6,132.8 315.0,133.1 315.4,133.0 315.8,132.9 316.2,132.8 316.6,132.9 317.0,132.8 317.4,132.4 317.8,132.6 318.2,133.0 318.6,133.1 319.0,133.6 319.4,133.7 319.8,133.7 320.2,133.3 320.6,133.8 321.0,133.2 321.4,134.0 321.8,133.5 322.2,133.1 322.6,133.3 323.0,133.4 323.4,132.7 323.8,133.1 324.2,133.2 324.6,132.9 325.0,133.3 325.4,133.6 325.8,132.7 326.2,132.9 326.6,132.6 327.0,132.8 327.4,133.5 327.8,133.4 328.2,133.6 328.6,133.4 329.0,133.6 329.4,133.4 329.8,133.0 330.2,132.7 330.6,133.0 331.0,133.1 331.4,133.4 331.8,133.7 332.2,133.8 332.6,133.5 333.0,133.8 333.4,133.6 333.8,134.1 334.2,133.7 334.6,133.0 335.0,132.8 335.4,133.2 335.8,133.0 336.2,133.1 336.6,133.3 337.0,133.2 337.4,133.8 337.8,133.7 338.2,133.6 338.6,133.9 339.0,133.4 339.4,133.4 339.8,133.7 340.2,134.1 340.6,133.1 341.0,132.9 341.4,133.1 341.8,133.1 342.2,133.2 342.6,133.3 343.0,133.2 343.4,133.0 343.8,133.6 344.2,133.3 344.6,133.1 345.0,133.1 345.4,133.6 345.8,133.4 346.2,133.2 346.6,133.0 347.0,132.7 347.4,132.5 347.8,132.6 348.2,132.7 348.6,133.1 349.0,133.1 349.4,132.9 349.8,133.3 350.2,133.4 350.6,133.9 351.0,133.7 351.4,133.3 351.8,133.0 352.2,133.1 352.6,133.1 353.0,133.0 353.4,133.4 353.8,133.2 354.2,133.4 354.6,133.3 354.9,133.5 354.9,133.6"/><polygon fill="#666666" opacity="0.9" points="123.7,132.4 123.2,132.9 123.6,132.4 123.4,132.2 123.1,132.4 123.6,132.2 124.2,132.0 124.5,132.4 124.9,132.4 125.5,132.5 126.0,132.7 126.7,132.7 127.3,132.8 127.8,133.0 128.2,131.7 127.7,131.5 127.3,131.3 127.0,130.8 126.5,130.5 126.1,130.1 125.5,129.6 124.8,129.7 124.4,129.3 123.9,128.9 122.6,128.8 121.4,129.2 120.8,129.4 119.3,130.6"/>
<polyline fill="none" stroke="#4f4f4f" stroke-width="1.95" stroke-linejoin="round" points="46.6,158.9 46.6,159.3 47.0,158.6 47.4,158.7 47.8,158.3 48.2,158.4 48.6,157.8 49.0,157.8 49.4,158.1 49.8,158.8 50.2,159.2 50.6,159.1 51.0,158.7 51.4,158.9 51.8,159.0 52.2,158.4 52.6,158.8 53.0,158.7 53.4,158.0 53.8,158.3 54.2,158.4 54.6,158.4 55.0,158.5 55.4,158.2 55.8,158.1 56.2,158.0 56.6,158.1 57.0,157.8 57.4,158.5 57.8,158.5 58.2,158.8 58.6,158.9 59.0,158.8 59.4,158.4 59.8,157.7 60.2,158.1 60.6,158.7 61.0,159.1 61.4,159.0 61.8,158.4 62.2,158.6 62.6,158.5 63.0,158.5 63.4,159.3 63.8,159.0 64.2,158.7 64.6,159.2 65.0,159.5 65.4,159.1 65.8,158.8 66.2,158.7 66.6,158.5 67.0,158.6 67.4,158.0 67.8,158.5 68.2,158.0 68.6,157.9 69.0,158.1 69.4,158.0 69.8,158.0 70.2,158.1 70.6,158.6 71.0,158.4 71.4,158.2 71.8,157.9 72.2,157.9 72.6,158.2 73.0,158.4 73.4,158.7 73.8,159.0 74.2,158.6 74.6,157.9 75.0,158.1 75.4,158.2 75.8,158.3 76.2,158.3 76.6,158.5 77.0,158.5 77.4,159.0 77.8,159.1 78.2,158.9 78.6,158.5 79.0,158.5 79.4,158.2 79.8,158.2 80.2,158.3 80.6,158.5 81.0,158.5 81.4,157.7 81.8,158.2 82.2,158.0 82.6,157.9 83.0,157.8 83.4,158.3 83.8,158.8 84.2,159.1 84.6,158.7 85.0,158.3 85.4,158.4 85.8,158.8 86.2,158.7 86.6,158.5 87.0,158.1 87.4,157.5 87.8,158.3 88.2,158.3 88.6,158.3 89.0,157.8 89.4,158.0 89.8,157.8 90.2,158.1 90.6,157.8 91.0,158.4 91.4,158.4 91.8,159.1 92.2,158.6 92.6,158.5 93.0,158.4 93.4,158.3 93.8,158.4 94.2,158.7 94.6,158.8 95.0,159.1 95.4,159.3 95.8,159.4 96.2,158.8 96.6,158.6 97.0,158.3 97.4,158.5 97.8,158.0 98.2,157.9 98.6,157.9 99.0,157.8 99.4,158.0 99.8,158.6 100.2,158.0 100.6,158.2 101.0,157.7 101.4,157.7 101.8,158.0 102.2,158.0 102.6,157.9 103.0,157.7 103.4,158.3 103.8,157.7 104.2,157.6 104.6,157.9 105.0,158.0 105.4,158.3 105.8,157.7 106.2,158.1 106.6,158.2 107.0,158.1 107.4,158.1 107.8,158.3 108.2,157.8 108.6,158.2 109.0,158.2 109.4,158.3 109.8,158.2 110.2,158.4 110.6,158.2 111.0,158.4 111.4,158.5 111.8,158.3 112.2,159.1 112.6,158.6 113.0,158.3 113.4,158.6 113.8,158.5 114.2,158.4 114.6,158.2 115.0,157.9 115.4,158.5 115.8,158.2 116.2,158.7 116.6,158.6 117.0,158.2 117.4,158.3 117.8,158.3 118.2,157.8 118.2,158.2 118.5,193.5 118.6,192.4 119.0,189.9 119.4,186.7 119.8,183.3 120.2,179.0 120.6,177.4 121.0,172.2 121.0,173.5 121.4,171.2 121.8,171.9 122.2,170.2 122.6,170.9 123.0,169.1 123.4,169.9 123.8,167.5 124.2,167.3 124.6,165.5 125.0,166.4 125.3,164.7 125.4,165.5 125.8,164.8 126.2,165.2 126.6,164.2 127.0,164.4 127.4,163.0 127.8,163.7 128.2,163.1 128.6,163.8 129.0,162.7 129.4,163.2 129.8,162.2 130.2,162.3 130.6,161.3 131.0,162.4 131.4,161.1 131.7,161.5 131.8,160.6 132.2,161.4 132.6,160.5 133.0,161.1 133.4,160.9 133.8,161.9 134.2,161.5 134.6,162.3 135.0,161.5 135.4,162.0 135.8,161.4 136.2,160.8 136.6,160.9 137.0,161.0 137.4,161.2 137.8,161.1 138.0,160.8 138.2,160.9 138.6,160.9 139.0,160.8 139.4,161.1 139.8,160.9 140.2,161.1 140.6,160.9 141.0,161.5 141.4,160.6 141.8,160.6 142.2,160.3 142.6,160.3 143.0,160.9 143.4,160.6 143.8,160.2 144.2,160.0 144.6,160.2 145.0,160.3 145.4,159.9 145.8,160.3 146.2,159.9 146.6,160.0 147.0,159.8 147.4,159.4 147.8,159.4 148.2,159.6 148.6,159.2 149.0,159.6 149.4,159.4 149.8,159.5 150.2,159.1 150.6,159.1 151.0,159.3 151.4,159.7 151.8,159.8 152.2,159.1 152.6,159.0 153.0,159.0 153.4,159.3 153.8,158.9 154.2,158.9 154.6,159.0 155.0,159.4 155.4,159.1 155.8,159.4 156.2,159.0 156.6,159.3 157.0,159.3 157.3,158.8 157.4,158.4 157.8,159.2 158.2,159.1 158.6,158.9 159.0,158.9 159.4,158.8 159.8,158.8 160.2,158.5 160.6,158.6 161.0,159.0 161.4,158.8 161.8,158.4 162.2,159.1 162.6,159.0 163.0,159.0 163.4,159.0 163.8,158.8 164.2,158.8 164.6,158.6 165.0,158.4 165.4,158.6 165.8,158.6 166.2,158.2 166.6,158.7 167.0,159.3 167.4,158.8 167.8,158.6 168.2,159.3 168.6,158.8 169.0,158.5 169.4,158.5 169.8,158.9 170.2,158.9 170.6,158.6 171.0,158.5 171.4,158.7 171.8,158.6 172.2,158.5 172.6,158.4 173.0,158.1 173.4,158.4 173.8,158.8 174.2,158.4 174.6,159.0 175.0,158.4 175.4,158.9 175.8,158.8 176.2,158.7 176.6,158.4 177.0,158.5 177.4,158.1 177.8,158.8 178.2,159.3 178.6,159.5 179.0,159.3 179.4,158.9 179.8,158.7 180.2,158.4 180.6,158.7 181.0,158.6 181.4,158.8 181.8,158.2 182.2,158.3 182.6,158.3 183.0,158.6 183.4,158.7 183.8,158.4 184.2,158.4 184.6,158.1 185.0,158.6 185.4,158.9 185.8,158.7 186.2,158.2 186.6,158.3 187.0,158.1 187.4,158.3 187.8,158.5 188.2,158.6 188.6,158.9 189.0,158.9 189.4,158.9 189.8,159.0 190.2,158.7 190.6,158.6 191.0,158.8 191.4,158.7 191.8,158.6 192.2,158.8 192.6,158.2 193.0,158.5 193.4,158.2 193.8,158.2 194.2,158.2 194.6,158.1 195.0,157.9 195.4,158.2 195.8,158.6 196.2,158.3 196.6,158.7 197.0,158.1 197.4,158.1 197.8,158.2 198.2,158.8 198.6,159.3 199.0,159.4 199.4,158.8 199.8,159.1 200.0,158.9 200.2,159.5 200.6,159.4 201.0,158.9 201.4,158.5 201.8,158.8 202.2,159.0 202.6,158.4 203.0,158.7 203.4,158.8 203.8,158.6 204.2,158.1 204.6,158.1 205.0,157.9 205.4,158.6 205.8,158.7 206.2,159.0 206.6,158.8 207.0,158.6 207.4,159.0 207.8,159.0 208.2,158.9 208.6,158.9 209.0,158.6 209.4,158.8 209.8,159.0 210.2,158.6 210.6,158.5 211.0,158.9 211.4,159.0 211.8,158.6 212.2,158.4 212.6,158.3 213.0,158.1 213.4,158.7 213.8,158.6 214.2,158.7 214.6,158.6 215.0,159.0 215.4,158.4 215.8,158.6 216.2,158.7 216.6,159.1 217.0,159.5 217.4,159.5 217.8,159.2 218.2,158.6 218.6,159.0 219.0,158.8 219.4,159.0 219.8,158.1 220.2,157.9 220.6,158.4 221.0,158.2 221.4,158.4 221.8,158.7 222.2,158.1 222.6,158.0 223.0,158.5 223.4,158.3 223.8,158.1 224.2,158.7 224.6,158.5 225.0,158.0 225.4,158.4 225.8,158.1 226.2,158.8 226.6,158.5 227.0,158.2 227.4,158.4 227.8,158.7 228.2,158.9 228.6,158.4 229.0,157.9 229.4,157.7 229.8,158.1 230.2,157.8 230.6,157.6 231.0,157.9 231.4,158.0 231.8,158.0 232.2,158.2 232.6,157.9 233.0,157.3 233.4,157.8 233.8,158.0 234.2,158.0 234.6,157.8 235.0,157.7 235.4,157.6 235.8,158.2 236.2,158.0 236.6,158.6 237.0,158.6 237.4,158.7 237.8,158.8 238.2,159.0 238.6,158.6 239.0,158.9 239.4,158.5 239.8,158.2 240.2,158.4 240.6,158.4 241.0,158.6 241.4,158.7 241.8,158.3 242.2,157.8 242.6,157.8 243.0,157.6 243.4,157.4 243.8,158.0 244.2,158.1 244.6,158.1 245.0,157.7 245.4,158.1 245.8,158.3 246.2,157.7 246.6,157.9 247.0,158.2 247.4,158.4 247.8,158.1 248.2,158.1 248.6,158.2 249.0,157.8 249.4,158.4 249.8,157.7 250.2,158.3 250.6,157.9 251.0,158.0 251.4,158.0 251.8,158.2 252.2,157.9 252.6,158.6 253.0,158.2 253.4,158.2 253.8,158.8 254.2,158.4 254.6,158.9 255.0,158.8 255.4,158.5 255.8,158.0 256.2,158.5 256.6,158.4 257.0,158.6 257.4,157.9 257.8,157.9 258.2,158.2 258.6,158.6 259.0,158.4 259.4,158.1 259.8,158.7 260.2,158.4 260.6,158.6 261.0,158.4 261.4,158.4 261.8,158.7 262.2,158.5 262.6,159.0 263.0,159.2 263.4,159.1 263.8,158.3 264.2,158.3 264.6,158.4 265.0,158.6 265.4,158.0 265.8,157.7 266.2,158.1 266.6,158.1 267.0,157.9 267.4,158.0 267.8,158.0 268.2,157.9 268.6,158.3 269.0,158.1 269.4,158.1 269.8,158.2 270.2,157.7 270.6,158.1 271.0,158.3 271.4,158.0 271.8,158.0 272.2,158.5 272.6,157.9 273.0,158.0 273.4,157.9 273.8,157.7 274.2,158.0 274.6,158.4 275.0,158.5 275.4,158.6 275.8,158.7 276.2,158.7 276.6,158.6 277.0,158.5 277.4,158.6 277.8,158.0 278.2,158.4 278.6,158.1 279.0,158.3 279.4,158.2 279.8,157.4 280.2,157.9 280.6,158.0 281.0,158.3 281.4,157.9 281.8,158.2 282.2,158.1 282.6,158.6 283.0,157.9 283.4,157.9 283.8,157.9 284.2,157.2 284.6,157.1 285.0,157.5 285.4,157.5 285.8,157.6 286.2,157.6 286.6,157.5 287.0,157.7 287.4,157.4 287.8,157.5 288.2,157.4 288.6,158.0 289.0,157.7 289.4,158.2 289.8,158.6 290.2,158.2 290.6,158.1 291.0,158.2 291.4,158.0 291.8,157.9 292.2,158.0 292.6,157.9 293.0,157.8 293.4,158.2 293.8,157.8 294.2,158.1 294.6,158.4 295.0,158.4 295.4,158.4 295.8,158.3 296.2,158.6 296.6,158.4 297.0,158.0 297.4,157.3 297.8,157.8 298.2,157.9 298.6,157.9 299.0,157.6 299.4,157.6 299.8,158.2 300.2,157.4 300.6,157.5 301.0,157.5 301.4,157.7 301.8,157.9 302.2,157.6 302.6,157.5 303.0,157.4 303.4,157.2 303.8,157.2 304.2,157.5 304.6,157.8 305.0,157.5 305.4,158.2 305.8,158.4 306.2,158.3 306.6,158.4 307.0,158.4 307.4,158.2 307.8,157.9 308.2,157.9 308.6,158.4 309.0,158.6 309.4,158.5 309.8,157.9 310.2,158.3 310.6,158.2 311.0,158.2 311.4,158.3 311.8,158.1 312.2,158.2 312.6,157.7 313.0,157.9 313.4,157.6 313.8,157.8 314.2,157.5 314.6,157.5 315.0,158.2 315.4,157.8 315.8,158.2 316.2,158.7 316.6,158.7 317.0,158.4 317.4,158.0 317.8,158.3 318.2,157.5 318.6,157.8 319.0,157.9 319.4,158.0 319.8,157.8 320.2,157.8 320.6,157.3 321.0,157.8 321.4,157.6 321.8,157.9 322.2,157.6 322.6,157.5 323.0,157.4 323.4,156.8 323.8,157.7 324.2,157.4 324.6,157.5 325.0,157.7 325.4,157.6 325.8,157.9 326.2,157.5 326.6,158.1 327.0,157.8 327.4,157.3 327.8,157.4 328.2,157.7 328.6,158.3 329.0,157.8 329.4,158.5 329.8,158.5 330.2,158.0 330.6,158.1 331.0,158.2 331.4,157.6 331.8,157.8 332.2,157.9 332.6,158.1 333.0,158.4 333.4,158.4 333.8,158.4 334.2,158.2 334.6,157.8 335.0,157.9 335.4,158.9 335.8,159.3 336.2,158.8 336.6,159.2 337.0,158.5 337.4,158.7 337.8,158.3 338.2,158.4 338.6,158.4 339.0,157.9 339.4,157.2 339.8,157.1 340.2,157.4 340.6,157.7 341.0,157.8 341.4,157.7 341.8,157.8 342.2,158.0 342.6,157.8 343.0,158.1 343.4,158.1 343.8,157.4 344.2,157.8 344.6,157.7 345.0,158.0 345.4,158.0 345.8,157.6 346.2,157.3 346.6,157.2 347.0,157.6 347.4,157.3 347.8,157.1 348.2,157.1 348.6,157.1 349.0,156.9 349.4,157.0 349.8,156.9 350.2,157.1 350.6,157.7 351.0,157.6 351.4,157.2 351.8,157.4 352.2,157.7 352.6,158.0 353.0,157.8 353.4,157.9 353.8,158.1 354.2,157.6 354.6,157.6 354.9,157.9 354.9,157.8"/><polygon fill="#4f4f4f" opacity="0.9" points="121.2,181.6 121.9,177.5 122.5,173.6 122.7,173.1 123.0,172.2 123.4,171.2 123.8,170.3 124.5,169.6 124.8,168.6 125.5,167.8 125.9,166.9 126.1,166.5 126.6,166.3 127.0,165.9 127.5,165.5 127.9,165.0 128.4,164.7 128.9,164.3 129.3,163.9 129.9,163.7 130.3,163.3 130.8,162.8 131.2,162.4 131.7,162.1 132.1,162.0 131.9,161.1 131.3,161.4 130.8,161.7 130.2,162.0 129.7,162.2 129.1,162.5 128.7,162.9 128.1,163.2 127.6,163.5 127.1,163.9 126.5,164.1 126.0,164.3 125.4,164.6 124.9,165.1 124.1,165.9 123.5,166.7 123.2,167.7 122.5,168.4 122.2,169.4 121.6,170.2 121.0,171.0 120.3,171.8 119.5,173.0 119.1,177.2 118.8,181.3"/>
<polyline fill="none" stroke="#111111" stroke-width="2.0" stroke-linejoin="round" points="46.6,200.0 46.6,199.9 47.0,199.8 47.4,200.4 47.8,200.4 48.2,200.5 48.6,199.9 49.0,200.0 49.4,200.4 49.8,200.4 50.2,199.6 50.6,199.6 51.0,199.5 51.4,199.6 51.8,199.9 52.2,199.9 52.6,200.1 53.0,200.2 53.4,199.8 53.8,199.6 54.2,199.4 54.6,199.6 55.0,199.8 55.4,200.2 55.8,199.9 56.2,200.1 56.6,200.1 57.0,199.9 57.4,199.9 57.8,200.1 58.2,199.7 58.6,200.3 59.0,200.2 59.4,200.2 59.8,200.1 60.2,200.2 60.6,200.1 61.0,200.0 61.4,199.7 61.8,200.1 62.2,200.3 62.6,200.4 63.0,199.7 63.4,199.5 63.8,200.1 64.2,199.6 64.6,200.6 65.0,200.7 65.4,200.7 65.8,200.4 66.2,200.1 66.6,200.4 67.0,200.5 67.4,200.2 67.8,200.3 68.2,200.3 68.6,199.9 69.0,200.3 69.4,200.2 69.8,200.6 70.2,200.0 70.6,200.6 71.0,200.4 71.4,200.5 71.8,199.9 72.2,199.5 72.6,199.8 73.0,199.9 73.4,199.9 73.8,199.4 74.2,199.9 74.6,199.9 75.0,200.5 75.4,200.2 75.8,200.7 76.2,200.4 76.6,200.5 77.0,200.6 77.4,200.0 77.8,199.8 78.2,200.0 78.6,200.3 79.0,200.6 79.4,200.1 79.8,199.9 80.2,200.0 80.6,200.1 81.0,199.9 81.4,200.3 81.8,200.0 82.2,200.3 82.6,200.8 83.0,200.2 83.4,200.3 83.8,200.2 84.2,200.2 84.6,200.3 85.0,199.8 85.4,200.0 85.8,199.6 86.2,199.4 86.6,199.6 87.0,199.8 87.4,200.0 87.8,200.6 88.2,200.7 88.6,200.1 89.0,199.8 89.4,199.8 89.8,199.9 90.2,200.4 90.6,199.7 91.0,199.4 91.4,199.8 91.8,200.1 92.2,200.2 92.6,200.0 93.0,199.5 93.4,199.5 93.8,199.5 94.2,200.0 94.6,199.8 95.0,199.8 95.4,199.9 95.8,200.2 96.2,200.0 96.6,199.9 97.0,200.1 97.4,200.2 97.8,199.8 98.2,200.1 98.6,199.6 99.0,199.6 99.4,199.4 99.8,199.7 100.2,199.4 100.6,199.7 101.0,200.3 101.4,200.2 101.8,200.1 102.2,199.8 102.6,200.5 103.0,200.1 103.4,200.4 103.8,200.3 104.2,199.7 104.6,199.6 105.0,200.1 105.4,200.2 105.8,200.5 106.2,200.4 106.6,199.8 107.0,200.0 107.4,199.4 107.8,199.5 108.2,199.6 108.6,199.3 109.0,199.9 109.4,199.9 109.8,200.0 110.2,200.4 110.6,199.7 111.0,200.1 111.4,200.1 111.8,199.8 112.2,199.9 112.6,200.1 113.0,200.2 113.4,200.4 113.8,200.3 114.2,199.8 114.6,200.5 115.0,200.7 115.4,200.8 115.8,200.8 116.2,201.3 116.6,201.1 117.0,200.7 117.4,200.8 117.8,200.8 118.2,200.7 118.2,200.2 118.5,225.8 118.6,224.8 119.0,222.0 119.4,220.3 119.8,218.0 120.2,215.2 120.6,213.5 121.0,209.5 121.0,211.6 121.4,209.5 121.8,210.4 122.2,208.2 122.6,209.5 123.0,207.5 123.4,208.5 123.8,206.9 124.2,207.9 124.6,206.5 125.0,207.3 125.3,206.6 125.4,207.5 125.8,206.2 126.2,207.1 126.6,206.0 127.0,206.7 127.4,205.5 127.8,206.0 128.2,205.1 128.6,205.1 129.0,204.1 129.4,205.4 129.8,204.1 130.2,204.0 130.6,204.3 131.0,203.4 131.4,203.9 131.8,203.8 132.2,203.1 132.6,203.5 133.0,203.5 133.4,203.5 133.8,202.8 133.8,203.3 134.2,203.2 134.6,203.3 135.0,202.9 135.4,203.3 135.8,203.4 136.2,203.6 136.6,203.8 137.0,203.4 137.4,203.4 137.8,203.6 138.2,203.1 138.6,203.3 139.0,203.2 139.4,203.1 139.8,202.8 140.2,202.8 140.6,202.6 141.0,202.6 141.4,202.4 141.8,201.9 142.2,202.3 142.6,202.2 143.0,202.5 143.4,202.5 143.8,202.4 144.2,202.7 144.6,202.4 145.0,202.4 145.4,203.1 145.8,203.0 146.2,203.3 146.6,203.5 147.0,203.1 147.4,203.0 147.8,203.0 148.2,202.9 148.6,202.7 149.0,202.6 149.4,202.5 149.8,202.7 150.2,202.4 150.6,201.6 151.0,201.6 151.4,202.1 151.8,201.9 152.2,202.0 152.6,202.0 153.0,201.9 153.4,202.2 153.8,201.8 154.2,201.8 154.6,201.7 155.0,201.2 155.4,201.6 155.8,201.2 156.2,201.3 156.6,201.4 157.0,201.4 157.3,201.9 157.4,201.6 157.8,202.1 158.2,201.8 158.6,202.1 159.0,201.8 159.4,202.2 159.8,201.2 160.2,201.7 160.6,201.5 161.0,201.6 161.4,200.9 161.8,200.6 162.2,200.4 162.6,200.7 163.0,201.3 163.4,201.5 163.8,201.8 164.2,201.6 164.6,201.5 165.0,201.6 165.4,201.5 165.8,201.6 166.2,201.5 166.6,201.3 167.0,201.8 167.4,201.5 167.8,201.8 168.2,201.8 168.6,202.2 169.0,201.9 169.4,201.5 169.8,201.7 170.2,201.1 170.6,200.9 171.0,201.0 171.4,201.6 171.8,201.6 172.2,202.3 172.6,202.2 173.0,202.3 173.4,201.8 173.8,201.7 174.2,201.6 174.6,201.2 175.0,201.2 175.4,201.1 175.8,201.4 176.2,200.9 176.6,200.5 177.0,200.6 177.4,200.6 177.8,200.8 178.2,201.1 178.6,201.2 179.0,201.5 179.4,201.0 179.8,201.2 180.2,200.8 180.6,201.4 181.0,201.5 181.4,201.0 181.8,201.2 182.2,201.0 182.6,201.0 183.0,201.1 183.4,201.0 183.8,201.7 184.2,201.5 184.6,201.2 185.0,201.5 185.4,201.5 185.8,200.9 186.2,200.6 186.6,201.7 187.0,201.5 187.4,201.2 187.8,201.4 188.2,201.3 188.6,200.9 189.0,200.9 189.4,200.7 189.8,201.0 190.2,200.8 190.6,200.4 191.0,200.6 191.4,199.8 191.8,200.2 192.2,200.3 192.6,199.8 193.0,200.1 193.4,200.4 193.8,200.3 194.2,200.6 194.6,199.8 195.0,199.8 195.4,200.1 195.8,201.0 196.2,200.5 196.6,201.1 197.0,200.8 197.4,200.8 197.8,200.5 198.2,200.5 198.6,200.7 199.0,200.7 199.4,201.0 199.8,201.0 200.0,200.7 200.2,200.9 200.6,201.0 201.0,200.9 201.4,201.1 201.8,201.1 202.2,200.9 202.6,201.3 203.0,200.4 203.4,200.8 203.8,200.5 204.2,200.8 204.6,200.3 205.0,199.9 205.4,200.5 205.8,201.1 206.2,201.1 206.6,201.3 207.0,200.7 207.4,200.6 207.8,200.3 208.2,200.6 208.6,200.8 209.0,200.9 209.4,200.7 209.8,200.8 210.2,200.6 210.6,199.9 211.0,200.2 211.4,200.7 211.8,200.1 212.2,200.4 212.6,200.4 213.0,200.3 213.4,200.2 213.8,200.5 214.2,200.6 214.6,200.7 215.0,201.0 215.4,201.0 215.8,200.9 216.2,200.5 216.6,200.9 217.0,200.5 217.4,200.5 217.8,200.8 218.2,200.9 218.6,200.0 219.0,200.8 219.4,201.3 219.8,200.8 220.2,201.2 220.6,201.2 221.0,201.4 221.4,200.5 221.8,200.7 222.2,200.8 222.6,201.0 223.0,201.1 223.4,201.0 223.8,200.9 224.2,200.4 224.6,200.4 225.0,200.7 225.4,200.5 225.8,200.7 226.2,200.5 226.6,200.5 227.0,200.0 227.4,199.6 227.8,199.7 228.2,198.9 228.6,199.2 229.0,199.3 229.4,199.2 229.8,199.7 230.2,199.9 230.6,199.8 231.0,199.8 231.4,200.2 231.8,199.9 232.2,199.8 232.6,200.1 233.0,200.1 233.4,200.5 233.8,200.9 234.2,201.3 234.6,200.8 235.0,200.5 235.4,200.6 235.8,200.4 236.2,200.4 236.6,200.5 237.0,200.8 237.4,200.0 237.8,199.5 238.2,199.5 238.6,199.7 239.0,199.9 239.4,200.3 239.8,200.6 240.2,200.1 240.6,200.4 241.0,200.6 241.4,200.2 241.8,200.0 242.2,200.5 242.6,200.4 243.0,200.7 243.4,200.7 243.8,201.1 244.2,201.1 244.6,200.5 245.0,201.0 245.4,200.7 245.8,201.3 246.2,200.8 246.6,201.1 247.0,201.1 247.4,201.0 247.8,200.7 248.2,200.6 248.6,200.4 249.0,200.0 249.4,200.4 249.8,201.1 250.2,200.1 250.6,200.1 251.0,200.0 251.4,200.4 251.8,200.5 252.2,200.5 252.6,200.1 253.0,200.3 253.4,200.0 253.8,200.4 254.2,200.2 254.6,200.5 255.0,200.3 255.4,200.1 255.8,199.6 256.2,199.7 256.6,199.5 257.0,199.4 257.4,199.4 257.8,199.4 258.2,199.7 258.6,199.3 259.0,199.3 259.4,199.5 259.8,199.8 260.2,200.8 260.6,200.8 261.0,201.2 261.4,201.0 261.8,200.2 262.2,200.2 262.6,200.3 263.0,200.1 263.4,200.5 263.8,200.2 264.2,200.3 264.6,200.1 265.0,200.1 265.4,200.0 265.8,199.6 266.2,199.8 266.6,199.6 267.0,200.2 267.4,200.4 267.8,200.2 268.2,200.2 268.6,199.5 269.0,199.5 269.4,199.9 269.8,200.3 270.2,200.2 270.6,200.5 271.0,200.3 271.4,199.8 271.8,200.1 272.2,200.3 272.6,200.1 273.0,200.1 273.4,200.8 273.8,200.4 274.2,200.4 274.6,200.2 275.0,199.7 275.4,200.3 275.8,200.5 276.2,200.2 276.6,200.2 277.0,200.3 277.4,200.0 277.8,200.3 278.2,200.2 278.6,199.9 279.0,200.1 279.4,200.3 279.8,200.9 280.2,200.5 280.6,200.4 281.0,200.1 281.4,199.6 281.8,199.7 282.2,199.5 282.6,199.9 283.0,199.8 283.4,200.6 283.8,201.0 284.2,201.0 284.6,200.9 285.0,200.4 285.4,200.0 285.8,199.8 286.2,199.9 286.6,199.8 287.0,199.5 287.4,199.6 287.8,199.4 288.2,199.8 288.6,199.7 289.0,199.5 289.4,199.3 289.8,199.4 290.2,199.3 290.6,199.1 291.0,199.4 291.4,199.6 291.8,199.8 292.2,199.5 292.6,199.8 293.0,199.9 293.4,200.3 293.8,199.8 294.2,199.8 294.6,199.7 295.0,199.4 295.4,199.9 295.8,200.0 296.2,199.9 296.6,199.7 297.0,199.9 297.4,199.6 297.8,199.8 298.2,199.4 298.6,200.2 299.0,200.4 299.4,200.5 299.8,201.1 300.2,200.7 300.6,200.3 301.0,200.2 301.4,199.8 301.8,200.5 302.2,199.5 302.6,199.8 303.0,199.8 303.4,199.9 303.8,199.5 304.2,199.9 304.6,199.3 305.0,199.6 305.4,199.6 305.8,199.7 306.2,199.7 306.6,199.4 307.0,200.0 307.4,200.0 307.8,199.7 308.2,199.7 308.6,199.8 309.0,199.9 309.4,200.3 309.8,200.0 310.2,199.6 310.6,199.8 311.0,199.7 311.4,199.7 311.8,199.9 312.2,199.5 312.6,200.0 313.0,199.9 313.4,200.1 313.8,200.1 314.2,200.0 314.6,200.3 315.0,200.4 315.4,200.5 315.8,200.5 316.2,199.7 316.6,200.0 317.0,199.7 317.4,200.0 317.8,199.9 318.2,200.3 318.6,200.5 319.0,200.3 319.4,199.5 319.8,199.7 320.2,199.6 320.6,199.1 321.0,199.4 321.4,199.8 321.8,200.3 322.2,200.7 322.6,200.4 323.0,200.0 323.4,199.9 323.8,199.0 324.2,198.9 324.6,198.8 325.0,198.9 325.4,198.6 325.8,198.9 326.2,199.2 326.6,199.6 327.0,199.7 327.4,200.2 327.8,199.9 328.2,200.0 328.6,199.9 329.0,199.5 329.4,199.8 329.8,199.4 330.2,199.6 330.6,199.3 331.0,199.1 331.4,200.0 331.8,200.0 332.2,199.9 332.6,200.1 333.0,200.5 333.4,200.0 333.8,200.0 334.2,200.0 334.6,200.0 335.0,200.2 335.4,200.2 335.8,199.9 336.2,199.6 336.6,199.4 337.0,199.8 337.4,200.0 337.8,199.4 338.2,199.9 338.6,199.9 339.0,199.8 339.4,199.6 339.8,199.9 340.2,199.6 340.6,199.0 341.0,199.7 341.4,199.7 341.8,199.6 342.2,199.7 342.6,200.2 343.0,200.0 343.4,199.8 343.8,199.8 344.2,200.0 344.6,200.1 345.0,199.9 345.4,199.0 345.8,199.1 346.2,199.6 346.6,199.3 347.0,199.6 347.4,199.6 347.8,199.2 348.2,199.2 348.6,199.4 349.0,199.5 349.4,199.4 349.8,199.2 350.2,199.1 350.6,199.6 351.0,199.4 351.4,199.1 351.8,199.1 352.2,199.0 352.6,199.0 353.0,198.9 353.4,198.8 353.8,199.1 354.2,199.2 354.6,199.5 354.9,199.7 354.9,200.1"/>
<line x1="138.4" y1="210.4" x2="138.4" y2="230.0" stroke="#3a3a3a" stroke-width="1.4"/>
<line x1="135.0" y1="210.4" x2="142.0" y2="210.4" stroke="#3a3a3a" stroke-width="1.4"/>
<line x1="135.0" y1="230.0" x2="142.0" y2="230.0" stroke="#3a3a3a" stroke-width="1.4"/>
<text x="141.0" y="223.6" font-size="12.2" fill="#222" stroke="#222" stroke-width="0.28" font-weight="normal" font-style="normal" text-anchor="start" textLength="29.5" lengthAdjust="spacingAndGlyphs" >1 mV</text>
<text x="283.2" y="68.9" font-size="14.0" fill="#bdbdbd" stroke="#bdbdbd" stroke-width="0.28" font-weight="normal" font-style="normal" text-anchor="start" textLength="40.3" lengthAdjust="spacingAndGlyphs" >0.39 V</text>
<text x="283.4" y="110.1" font-size="14.0" fill="#a3a3a3" stroke="#a3a3a3" stroke-width="0.28" font-weight="normal" font-style="normal" text-anchor="start" textLength="40.1" lengthAdjust="spacingAndGlyphs" >0.09 V</text>
<text x="282.8" y="151.8" font-size="14.0" fill="#7d7d7d" stroke="#7d7d7d" stroke-width="0.28" font-weight="normal" font-style="normal" text-anchor="start" textLength="40.6" lengthAdjust="spacingAndGlyphs" >0.06 V</text>
<text x="278.9" y="177.4" font-size="14.0" fill="#555555" stroke="#555555" stroke-width="0.28" font-weight="normal" font-style="normal" text-anchor="start" textLength="44.6" lengthAdjust="spacingAndGlyphs" >-0.01 V</text>
<text x="279.0" y="217.9" font-size="14.0" fill="#333333" stroke="#333333" stroke-width="0.28" font-weight="normal" font-style="normal" text-anchor="start" textLength="44.4" lengthAdjust="spacingAndGlyphs" >-0.11 V</text>
<text x="302.0" y="249.4" font-size="14.0" fill="#000" font-weight="bold" font-style="normal" text-anchor="start" textLength="50" lengthAdjust="spacingAndGlyphs" >Cu(111)</text>
<text x="368.2" y="15.8" font-size="19.5" fill="#000" font-weight="bold" font-style="normal" text-anchor="start" textLength="23" lengthAdjust="spacingAndGlyphs" >(b)</text>
<rect x="440.40000000000003" y="8.8" width="308.3" height="248.7" fill="none" stroke="#222" stroke-width="1.5"/>
<line x1="440.4" y1="257.5" x2="440.4" y2="262.2" stroke="#222" stroke-width="1.2"/>
<line x1="508.9" y1="257.5" x2="508.9" y2="262.2" stroke="#222" stroke-width="1.2"/>
<line x1="577.4" y1="257.5" x2="577.4" y2="262.2" stroke="#222" stroke-width="1.2"/>
<line x1="645.9" y1="257.5" x2="645.9" y2="262.2" stroke="#222" stroke-width="1.2"/>
<line x1="714.4" y1="257.5" x2="714.4" y2="262.2" stroke="#222" stroke-width="1.2"/>
<line x1="474.7" y1="257.5" x2="474.7" y2="259.8" stroke="#222" stroke-width="1.2"/>
<line x1="543.2" y1="257.5" x2="543.2" y2="259.8" stroke="#222" stroke-width="1.2"/>
<line x1="611.7" y1="257.5" x2="611.7" y2="259.8" stroke="#222" stroke-width="1.2"/>
<line x1="680.2" y1="257.5" x2="680.2" y2="259.8" stroke="#222" stroke-width="1.2"/>
<line x1="748.7" y1="257.5" x2="748.7" y2="259.8" stroke="#222" stroke-width="1.2"/>
<text x="440.1" y="276.4" font-size="12.8" fill="#222" stroke="#222" stroke-width="0.28" font-weight="normal" font-style="normal" text-anchor="middle" >-2</text>
<text x="508.9" y="276.4" font-size="12.8" fill="#222" stroke="#222" stroke-width="0.28" font-weight="normal" font-style="normal" text-anchor="middle" >0</text>
<text x="577.4" y="276.4" font-size="12.8" fill="#222" stroke="#222" stroke-width="0.28" font-weight="normal" font-style="normal" text-anchor="middle" >2</text>
<text x="645.9" y="276.4" font-size="12.8" fill="#222" stroke="#222" stroke-width="0.28" font-weight="normal" font-style="normal" text-anchor="middle" >4</text>
<text x="714.4" y="276.4" font-size="12.8" fill="#222" stroke="#222" stroke-width="0.28" font-weight="normal" font-style="normal" text-anchor="middle" >6</text>
<text x="574.2" y="306.2" font-size="17" fill="#222" stroke="#222" stroke-width="0.28" textLength="38.8" lengthAdjust="spacingAndGlyphs"><tspan font-style="italic">t</tspan> / μs</text>
<text transform="translate(411.40000000000003,158.4) rotate(-90)" font-size="17" fill="#222" stroke="#222" stroke-width="0.28" textLength="61" lengthAdjust="spacingAndGlyphs">Δ<tspan font-style="italic">E</tspan> / mV</text>
<polyline fill="none" stroke="#80e41e" stroke-width="1.95" stroke-linejoin="round" points="440.4,48.4 440.4,48.1 440.8,48.0 441.2,48.4 441.6,49.1 442.0,48.9 442.4,48.5 442.8,48.7 443.2,48.7 443.6,48.7 444.0,48.3 444.4,48.1 444.8,48.8 445.2,48.5 445.6,48.6 446.0,48.3 446.4,48.6 446.8,48.4 447.2,48.3 447.6,48.0 448.0,48.5 448.4,48.6 448.8,48.5 449.2,48.8 449.6,49.0 450.0,48.7 450.4,49.2 450.8,48.7 451.2,48.8 451.6,48.7 452.0,48.9 452.4,49.3 452.8,49.4 453.2,48.7 453.6,48.6 454.0,48.5 454.4,48.5 454.8,48.2 455.2,48.4 455.6,48.4 456.0,48.1 456.4,48.4 456.8,48.3 457.2,48.3 457.6,48.3 458.0,48.1 458.4,48.5 458.8,48.7 459.2,48.4 459.6,48.5 460.0,48.3 460.4,48.2 460.8,48.3 461.2,49.2 461.6,48.5 462.0,48.6 462.4,48.1 462.8,48.2 463.2,48.7 463.6,48.8 464.0,48.4 464.4,48.0 464.8,48.2 465.2,48.4 465.6,48.9 466.0,48.7 466.4,48.6 466.8,48.5 467.2,49.0 467.6,49.1 468.0,48.9 468.4,48.9 468.8,48.6 469.2,48.9 469.6,48.9 470.0,49.3 470.4,49.0 470.8,48.8 471.2,48.7 471.6,48.7 472.0,49.4 472.4,49.6 472.8,49.0 473.2,49.4 473.6,49.5 474.0,48.9 474.4,48.7 474.8,48.8 475.2,48.5 475.6,49.3 476.0,48.9 476.4,48.6 476.8,48.4 477.2,48.7 477.6,48.5 478.0,47.9 478.4,47.9 478.8,47.8 479.2,47.6 479.6,47.4 480.0,47.8 480.4,47.9 480.8,48.4 481.2,48.4 481.6,48.1 482.0,48.6 482.4,48.4 482.8,48.4 483.2,47.7 483.6,47.9 484.0,47.8 484.4,48.6 484.8,48.2 485.2,47.9 485.6,48.2 486.0,48.3 486.4,48.4 486.8,48.6 487.2,48.8 487.6,49.0 488.0,48.6 488.4,48.3 488.8,49.0 489.2,48.5 489.6,48.8 490.0,48.5 490.4,48.9 490.8,48.7 491.2,48.8 491.6,48.7 492.0,48.5 492.4,48.9 492.8,48.8 493.2,49.1 493.6,49.2 494.0,49.2 494.4,49.6 494.8,49.0 495.2,49.1 495.6,49.2 496.0,49.0 496.4,48.8 496.8,48.8 497.2,48.9 497.6,48.6 498.0,48.6 498.4,48.7 498.8,48.6 499.2,49.2 499.6,49.2 500.0,49.2 500.4,48.5 500.8,48.7 501.2,48.2 501.6,48.9 502.0,48.9 502.4,48.5 502.8,48.7 503.2,48.2 503.6,48.2 504.0,48.0 504.4,48.1 504.8,48.2 505.2,47.9 505.6,47.8 506.0,48.2 506.4,47.9 506.8,48.1 507.2,48.5 507.6,48.2 508.0,48.7 508.4,48.3 508.8,47.7 509.2,47.5 509.6,48.8 510.0,48.0 510.4,48.3 510.8,47.9 511.2,48.0 511.3,47.7 511.5,54.0 511.6,53.1 512.0,45.8 512.3,40.0 512.4,38.5 512.8,33.4 513.2,28.0 513.6,23.7 514.0,18.6 514.0,18.1 514.4,20.6 514.8,19.3 515.2,22.2 515.6,22.2 516.0,25.3 516.4,25.1 516.8,27.1 516.8,25.7 517.2,28.1 517.6,27.0 518.0,29.8 518.4,29.7 518.8,32.0 519.2,31.4 519.6,32.7 520.0,31.8 520.4,34.0 520.8,34.4 521.0,35.8 521.2,34.7 521.6,37.0 522.0,35.0 522.4,36.0 522.8,35.1 523.2,36.7 523.6,35.5 524.0,35.9 524.4,35.5 524.8,36.9 525.2,36.4 525.6,37.9 526.0,37.0 526.4,38.3 526.8,38.0 527.2,38.6 527.6,37.9 528.0,39.4 528.4,39.3 528.8,39.8 529.2,38.5 529.6,38.9 529.6,38.8 530.0,39.9 530.4,39.6 530.8,39.8 531.2,39.8 531.6,39.0 532.0,39.7 532.4,39.3 532.8,39.5 533.2,39.5 533.6,39.4 534.0,39.2 534.4,39.1 534.8,39.2 535.2,39.4 535.6,39.6 536.0,39.5 536.4,40.2 536.8,40.1 537.2,40.6 537.6,40.3 538.0,40.4 538.4,40.8 538.8,40.8 539.2,41.0 539.6,40.8 540.0,40.8 540.4,40.9 540.8,41.2 541.2,41.4 541.6,41.6 542.0,41.4 542.4,41.6 542.8,41.3 543.2,41.8 543.6,42.4 544.0,42.0 544.4,42.7 544.8,42.7 545.2,42.8 545.6,42.1 546.0,42.1 546.4,42.3 546.7,42.2 546.8,42.0 547.2,41.9 547.6,42.1 548.0,42.6 548.4,41.7 548.8,42.0 549.2,42.8 549.6,43.2 550.0,43.2 550.4,43.4 550.8,43.0 551.2,43.1 551.6,42.8 552.0,43.2 552.4,43.1 552.8,43.0 553.2,42.7 553.6,42.7 554.0,42.5 554.4,42.3 554.8,42.7 555.2,42.6 555.6,42.2 556.0,42.6 556.4,42.1 556.8,42.2 557.2,43.2 557.6,42.8 558.0,42.7 558.4,42.4 558.8,43.0 559.2,42.7 559.6,42.7 560.0,42.8 560.4,43.3 560.8,43.0 561.2,43.1 561.6,43.9 562.0,43.7 562.4,43.4 562.8,42.9 563.2,42.4 563.6,42.3 564.0,43.4 564.4,43.3 564.8,42.9 565.2,43.2 565.6,42.9 566.0,43.5 566.4,43.0 566.8,43.2 567.2,43.0 567.6,42.8 568.0,43.1 568.0,42.7 568.4,43.0 568.8,42.9 569.2,43.7 569.6,43.0 570.0,43.2 570.4,43.2 570.8,44.0 571.2,43.5 571.6,43.8 572.0,43.8 572.4,43.9 572.8,43.9 573.2,43.5 573.6,43.5 574.0,44.2 574.4,43.6 574.8,43.8 575.2,43.9 575.6,43.9 576.0,43.9 576.4,43.8 576.8,43.7 577.2,43.4 577.6,43.9 578.0,44.0 578.4,44.1 578.8,43.7 579.2,43.7 579.6,43.9 580.0,43.7 580.4,43.2 580.8,43.6 581.2,43.9 581.6,44.2 582.0,44.0 582.4,44.5 582.8,44.2 583.2,44.5 583.6,44.5 584.0,44.7 584.4,44.7 584.8,44.6 585.2,44.5 585.6,44.1 586.0,44.3 586.4,43.6 586.8,43.8 587.2,44.0 587.6,44.0 588.0,44.7 588.4,44.0 588.8,44.0 589.2,44.2 589.6,44.2 590.0,44.0 590.4,44.3 590.8,43.9 591.2,44.6 591.6,44.3 592.0,44.7 592.4,44.5 592.8,44.7 593.2,44.6 593.6,44.4 594.0,43.9 594.4,44.0 594.8,44.0 595.2,43.9 595.6,43.9 596.0,43.8 596.4,43.6 596.8,44.0 597.2,43.7 597.6,43.5 598.0,43.9 598.4,43.9 598.8,43.7 599.2,44.1 599.6,44.2 600.0,44.4 600.0,44.9 600.4,44.4 600.8,44.5 601.2,44.5 601.6,44.5 602.0,44.3 602.4,44.2 602.8,43.5 603.2,42.8 603.6,43.5 604.0,43.6 604.4,43.5 604.8,43.6 605.2,43.7 605.6,43.8 606.0,43.1 606.4,43.7 606.8,44.0 607.2,43.7 607.6,44.1 608.0,44.5 608.4,44.1 608.8,44.3 609.2,44.2 609.6,43.9 610.0,44.8 610.4,44.5 610.8,44.4 611.2,44.2 611.6,44.4 612.0,44.5 612.4,44.4 612.8,44.3 613.2,44.3 613.6,44.3 614.0,44.5 614.4,44.4 614.8,44.2 615.2,44.1 615.6,44.3 616.0,44.4 616.4,44.1 616.8,43.6 617.2,44.6 617.6,44.3 618.0,44.7 618.4,44.7 618.8,44.4 619.2,44.0 619.6,44.7 620.0,44.6 620.4,44.6 620.8,44.7 621.2,44.7 621.6,44.7 622.0,44.3 622.4,44.3 622.8,44.8 623.2,44.6 623.6,45.1 624.0,45.6 624.4,45.2 624.8,45.1 625.2,45.2 625.6,45.2 626.0,45.1 626.4,44.8 626.8,44.5 627.2,44.4 627.6,44.4 628.0,43.7 628.4,44.1 628.8,44.1 629.2,44.1 629.6,44.3 630.0,44.4 630.4,44.2 630.8,44.2 631.2,43.9 631.6,44.4 632.0,44.4 632.4,44.6 632.8,44.7 633.2,44.7 633.6,44.1 634.0,44.5 634.4,44.9 634.8,44.7 635.2,45.0 635.6,44.4 636.0,44.2 636.4,44.6 636.8,44.4 637.2,44.8 637.6,44.6 638.0,45.0 638.4,44.9 638.8,45.3 639.2,44.7 639.6,44.3 640.0,44.3 640.4,44.1 640.8,43.9 641.2,43.6 641.6,44.3 642.0,43.8 642.4,44.6 642.8,44.5 643.2,44.6 643.6,44.5 644.0,44.1 644.4,44.7 644.8,45.1 645.2,44.9 645.6,45.1 646.0,44.6 646.4,44.7 646.8,44.5 647.2,44.7 647.6,45.0 648.0,45.2 648.4,45.4 648.8,45.2 649.2,46.0 649.6,46.0 650.0,45.6 650.4,45.6 650.8,45.1 651.2,45.5 651.6,45.3 652.0,45.2 652.4,45.3 652.8,45.3 653.2,45.3 653.6,45.1 654.0,44.6 654.4,45.1 654.8,45.2 655.2,44.4 655.6,44.4 656.0,44.5 656.4,44.6 656.8,45.0 657.2,44.3 657.6,43.6 658.0,44.1 658.4,44.0 658.8,44.3 659.2,44.1 659.6,44.6 660.0,45.0 660.4,45.5 660.8,44.8 661.2,44.5 661.6,45.0 662.0,44.3 662.4,44.7 662.8,45.2 663.2,44.8 663.6,44.9 664.0,44.6 664.4,45.6 664.8,45.1 665.2,45.5 665.6,45.4 666.0,45.2 666.4,44.4 666.8,44.7 667.2,44.3 667.6,45.0 668.0,44.9 668.4,45.3 668.8,45.1 669.2,44.9 669.6,44.8 670.0,44.8 670.4,44.8 670.8,45.4 671.2,45.2 671.6,45.3 672.0,45.7 672.4,45.8 672.8,45.4 673.2,45.9 673.6,45.2 674.0,45.4 674.4,45.4 674.8,45.5 675.2,45.4 675.6,45.2 676.0,45.0 676.4,44.9 676.8,44.8 677.2,45.1 677.6,44.7 678.0,45.3 678.4,44.7 678.8,45.1 679.2,45.0 679.6,45.4 680.0,45.3 680.4,45.0 680.8,45.0 681.2,45.6 681.6,45.2 682.0,45.1 682.4,45.7 682.8,45.4 683.2,45.5 683.6,45.4 684.0,45.1 684.4,45.4 684.8,45.6 685.2,46.0 685.6,46.3 686.0,46.0 686.4,46.1 686.8,45.5 687.2,45.8 687.6,45.5 688.0,45.2 688.4,45.7 688.8,45.6 689.2,45.5 689.6,45.4 690.0,45.1 690.4,44.8 690.8,45.3 691.2,45.3 691.6,44.9 692.0,45.6 692.4,45.1 692.8,44.9 693.2,45.5 693.6,45.3 694.0,45.5 694.4,45.8 694.8,46.3 695.2,46.0 695.6,45.7 696.0,45.6 696.4,45.7 696.8,45.5 697.2,45.7 697.6,46.0 698.0,45.5 698.4,45.5 698.8,45.5 699.2,45.6 699.6,46.0 700.0,46.1 700.4,45.7 700.8,45.7 701.2,46.4 701.6,45.9 702.0,45.5 702.4,45.6 702.8,45.5 703.2,45.7 703.6,45.4 704.0,45.4 704.4,45.1 704.8,44.9 705.2,45.3 705.6,45.5 706.0,45.5 706.4,45.6 706.8,45.4 707.2,45.4 707.6,45.6 708.0,45.2 708.4,45.3 708.8,45.1 709.2,45.2 709.6,45.4 710.0,45.1 710.4,45.6 710.8,45.4 711.2,45.3 711.6,45.2 712.0,45.3 712.4,45.5 712.8,45.1 713.2,45.1 713.6,45.2 714.0,45.6 714.4,45.7 714.8,45.6 715.2,45.8 715.6,44.9 716.0,45.4 716.4,44.9 716.8,44.9 717.2,45.4 717.6,45.4 718.0,45.3 718.4,45.5 718.8,44.9 719.2,45.3 719.6,45.3 720.0,45.2 720.4,45.4 720.8,45.8 721.2,45.1 721.6,45.1 722.0,45.4 722.4,45.3 722.8,45.9 723.2,46.2 723.6,46.1 724.0,45.7 724.4,46.1 724.8,45.7 725.2,45.9 725.6,46.0 726.0,45.8 726.4,45.7 726.8,45.4 727.2,45.6 727.6,45.2 728.0,45.1 728.4,45.7 728.8,45.6 729.2,45.6 729.6,46.0 730.0,45.8 730.4,45.5 730.8,45.6 731.2,45.5 731.6,45.3 732.0,45.6 732.4,46.0 732.8,45.7 733.2,45.8 733.6,45.7 734.0,45.6 734.4,45.8 734.8,46.2 735.2,46.1 735.6,46.2 736.0,46.2 736.4,46.1 736.8,46.1 737.2,46.0 737.6,45.9 738.0,46.1 738.4,45.6 738.8,45.8 739.2,45.7 739.6,45.8 740.0,45.7 740.4,46.3 740.8,46.2 741.2,45.8 741.6,46.1 742.0,46.2 742.4,46.0 742.8,46.0 743.2,46.1 743.6,46.0 744.0,46.1 744.4,46.1 744.8,46.1 745.2,46.1 745.6,45.7 746.0,45.4 746.4,45.8 746.8,45.9 747.2,45.9 747.6,46.4 748.0,46.4 748.4,46.1 748.7,46.6 748.7,46.5"/><polygon fill="#80e41e" opacity="0.9" points="513.5,20.3 514.1,21.8 514.5,23.4 515.1,24.9 515.7,26.4 516.2,27.8 516.8,28.8 517.4,29.8 517.8,30.8 518.3,31.9 518.8,32.9 519.5,33.8 519.9,34.9 520.5,36.0 521.3,36.3 521.8,36.5 522.3,36.7 522.8,36.8 523.3,36.9 523.9,37.1 524.4,37.3 524.9,37.4 525.4,37.6 525.9,37.7 526.1,37.2 525.6,36.9 525.1,36.8 524.6,36.5 524.1,36.4 523.7,36.1 523.2,35.9 522.7,35.6 522.2,35.5 521.7,35.3 521.5,35.2 521.1,34.3 520.5,33.3 520.2,32.2 519.7,31.1 519.2,30.1 518.6,29.1 518.2,28.1 517.8,27.1 517.3,25.8 516.9,24.3 516.5,22.7 515.9,21.2 515.5,19.7"/>
<polyline fill="none" stroke="#5fcc2c" stroke-width="1.95" stroke-linejoin="round" points="440.4,93.8 440.4,94.3 440.8,94.3 441.2,94.1 441.6,93.8 442.0,93.6 442.4,93.3 442.8,93.3 443.2,93.6 443.6,93.8 444.0,94.2 444.4,94.2 444.8,94.4 445.2,93.8 445.6,94.1 446.0,93.9 446.4,93.7 446.8,94.2 447.2,93.7 447.6,93.7 448.0,94.2 448.4,93.7 448.8,93.6 449.2,93.8 449.6,94.6 450.0,93.9 450.4,94.4 450.8,94.6 451.2,94.1 451.6,94.0 452.0,94.2 452.4,94.3 452.8,94.3 453.2,94.1 453.6,93.8 454.0,93.8 454.4,94.1 454.8,94.4 455.2,94.1 455.6,94.8 456.0,94.5 456.4,94.4 456.8,94.1 457.2,93.9 457.6,93.2 458.0,93.3 458.4,93.3 458.8,93.4 459.2,93.2 459.6,93.3 460.0,93.5 460.4,93.2 460.8,93.4 461.2,93.0 461.6,92.6 462.0,92.5 462.4,92.8 462.8,93.0 463.2,93.6 463.6,93.3 464.0,93.4 464.4,94.0 464.8,94.4 465.2,93.5 465.6,93.7 466.0,93.8 466.4,93.6 466.8,93.2 467.2,93.5 467.6,93.5 468.0,93.4 468.4,94.1 468.8,93.8 469.2,94.3 469.6,94.2 470.0,94.1 470.4,94.0 470.8,93.5 471.2,94.2 471.6,93.9 472.0,94.0 472.4,93.7 472.8,94.0 473.2,93.7 473.6,93.6 474.0,93.7 474.4,94.0 474.8,93.7 475.2,93.6 475.6,94.0 476.0,94.3 476.4,94.6 476.8,93.9 477.2,93.6 477.6,93.7 478.0,94.3 478.4,93.8 478.8,94.0 479.2,94.1 479.6,93.8 480.0,94.1 480.4,94.2 480.8,93.9 481.2,93.9 481.6,93.8 482.0,93.9 482.4,94.1 482.8,93.7 483.2,93.9 483.6,94.0 484.0,94.0 484.4,94.3 484.8,94.6 485.2,94.0 485.6,93.8 486.0,93.6 486.4,94.2 486.8,94.4 487.2,94.0 487.6,93.9 488.0,94.3 488.4,94.0 488.8,93.8 489.2,94.2 489.6,93.8 490.0,93.8 490.4,94.0 490.8,93.4 491.2,94.2 491.6,93.7 492.0,93.7 492.4,93.9 492.8,93.9 493.2,94.2 493.6,94.3 494.0,93.9 494.4,93.8 494.8,94.1 495.2,93.8 495.6,94.0 496.0,94.3 496.4,94.1 496.8,94.5 497.2,94.3 497.6,93.8 498.0,94.1 498.4,93.5 498.8,93.8 499.2,93.9 499.6,93.5 500.0,93.2 500.4,93.6 500.8,93.5 501.2,93.2 501.6,92.8 502.0,92.6 502.4,93.6 502.8,93.7 503.2,93.8 503.6,93.8 504.0,93.4 504.4,93.3 504.8,93.0 505.2,93.2 505.6,93.1 506.0,93.1 506.4,93.8 506.8,94.2 507.2,93.8 507.6,93.3 508.0,93.9 508.4,93.8 508.8,93.3 509.2,92.8 509.6,93.3 510.0,93.1 510.4,93.1 510.8,93.3 511.2,93.2 511.3,93.6 511.6,88.9 512.0,83.1 512.2,79.7 512.4,78.1 512.8,73.8 513.2,69.5 513.6,65.9 514.0,61.5 514.0,62.6 514.4,62.6 514.8,65.1 515.2,65.3 515.6,68.5 516.0,68.1 516.4,71.3 516.8,70.6 516.8,72.0 517.2,71.1 517.6,73.0 518.0,72.3 518.4,74.6 518.8,74.0 519.2,75.9 519.6,75.0 520.0,76.4 520.4,75.2 520.8,76.6 521.2,75.8 521.6,77.8 522.0,76.5 522.4,78.8 522.8,78.0 523.2,79.0 523.2,78.1 523.6,79.2 524.0,78.3 524.4,79.0 524.8,77.9 525.2,79.5 525.6,78.2 526.0,79.5 526.4,79.0 526.8,79.7 527.2,79.2 527.6,80.5 528.0,79.6 528.4,80.3 528.8,80.1 529.2,80.9 529.6,80.1 530.0,81.0 530.4,80.4 530.8,81.4 531.2,80.9 531.6,81.8 532.0,81.5 532.4,82.2 532.8,81.9 533.2,82.6 533.6,81.7 534.0,83.0 534.4,82.3 534.8,83.3 535.2,82.6 535.6,83.1 536.0,83.1 536.0,82.9 536.4,83.1 536.8,82.9 537.2,83.5 537.6,83.2 538.0,83.2 538.4,83.0 538.8,83.6 539.2,83.1 539.6,83.3 540.0,83.7 540.4,83.6 540.8,83.6 541.2,83.4 541.6,84.1 542.0,84.0 542.4,84.2 542.8,83.9 543.2,83.9 543.6,83.9 544.0,84.5 544.4,84.8 544.8,84.8 545.2,85.2 545.6,84.9 546.0,85.3 546.4,84.9 546.8,84.9 547.2,84.8 547.6,85.3 548.0,85.0 548.4,85.2 548.8,85.1 549.2,85.4 549.6,85.5 550.0,84.8 550.4,84.7 550.8,85.3 551.2,85.8 551.6,85.5 552.0,85.7 552.4,85.8 552.8,86.0 553.2,86.0 553.6,85.8 554.0,86.2 554.4,86.5 554.8,86.3 555.2,86.2 555.6,86.7 556.0,86.9 556.4,86.3 556.8,86.2 557.2,86.1 557.3,86.2 557.6,86.3 558.0,86.4 558.4,86.8 558.8,87.0 559.2,86.7 559.6,86.6 560.0,86.8 560.4,86.7 560.8,86.3 561.2,86.8 561.6,86.3 562.0,86.6 562.4,86.2 562.8,86.2 563.2,86.1 563.6,86.4 564.0,86.2 564.4,86.2 564.8,86.0 565.2,86.7 565.6,86.5 566.0,86.5 566.4,86.3 566.8,86.7 567.2,86.9 567.6,86.8 568.0,87.4 568.4,87.7 568.8,87.4 569.2,87.4 569.6,86.8 570.0,86.8 570.4,86.8 570.8,86.8 571.2,87.4 571.6,87.0 572.0,86.7 572.4,86.9 572.8,86.7 573.2,86.7 573.6,86.7 574.0,86.0 574.4,86.3 574.8,86.6 575.2,86.6 575.6,86.8 576.0,86.3 576.4,86.6 576.8,86.4 577.2,86.5 577.6,86.3 578.0,86.9 578.4,86.9 578.8,86.5 579.2,86.6 579.6,87.3 580.0,86.6 580.4,87.0 580.8,87.2 581.2,86.7 581.6,86.8 582.0,87.2 582.4,87.1 582.8,87.0 583.2,87.2 583.6,86.9 584.0,86.6 584.4,86.8 584.8,87.2 585.2,87.0 585.6,87.0 586.0,86.8 586.4,86.6 586.8,86.8 587.2,87.1 587.6,86.6 588.0,87.7 588.4,87.6 588.8,87.2 589.2,87.3 589.6,87.1 590.0,87.1 590.4,87.5 590.8,87.5 591.2,87.0 591.6,86.8 592.0,86.8 592.4,87.2 592.8,87.7 593.2,87.5 593.6,87.5 594.0,87.8 594.4,87.6 594.8,87.4 595.2,88.0 595.6,86.9 596.0,87.5 596.4,87.8 596.8,87.7 597.2,87.6 597.6,87.7 598.0,88.4 598.4,87.8 598.8,88.3 599.2,88.5 599.6,88.1 600.0,88.0 600.0,88.0 600.4,88.3 600.8,87.9 601.2,87.8 601.6,88.6 602.0,88.6 602.4,88.5 602.8,88.1 603.2,88.0 603.6,87.1 604.0,87.3 604.4,87.8 604.8,87.9 605.2,87.9 605.6,87.7 606.0,88.2 606.4,88.0 606.8,88.3 607.2,88.0 607.6,88.1 608.0,87.9 608.4,87.4 608.8,87.4 609.2,87.6 609.6,88.0 610.0,87.8 610.4,88.5 610.8,88.4 611.2,88.4 611.6,88.4 612.0,87.9 612.4,87.8 612.8,87.7 613.2,87.8 613.6,88.0 614.0,87.8 614.4,87.8 614.8,87.3 615.2,87.7 615.6,87.8 616.0,87.8 616.4,87.0 616.8,87.8 617.2,87.8 617.6,87.9 618.0,87.5 618.4,87.6 618.8,88.4 619.2,88.5 619.6,88.3 620.0,88.4 620.4,88.6 620.8,88.1 621.2,88.5 621.6,88.1 622.0,88.1 622.4,88.5 622.8,88.3 623.2,88.2 623.6,88.0 624.0,88.7 624.4,87.9 624.8,87.7 625.2,87.9 625.6,87.9 626.0,87.6 626.4,87.9 626.8,88.3 627.2,87.8 627.6,87.9 628.0,88.2 628.4,88.4 628.8,88.8 629.2,88.6 629.6,89.1 630.0,88.7 630.4,88.6 630.8,88.9 631.2,88.5 631.6,88.4 632.0,88.7 632.4,88.2 632.8,88.5 633.2,88.4 633.6,88.5 634.0,89.1 634.4,89.3 634.8,89.3 635.2,89.3 635.6,89.7 636.0,89.2 636.4,88.7 636.8,88.8 637.2,88.8 637.6,88.9 638.0,88.6 638.4,88.1 638.8,87.3 639.2,87.0 639.6,87.8 640.0,87.2 640.4,87.5 640.8,87.6 641.2,87.7 641.6,87.3 642.0,88.1 642.4,88.0 642.8,88.0 643.2,88.1 643.6,88.6 644.0,88.9 644.4,88.7 644.8,88.6 645.2,88.7 645.6,88.4 646.0,88.5 646.4,88.7 646.8,88.3 647.2,88.2 647.6,88.2 648.0,88.5 648.4,88.4 648.8,88.9 649.2,88.9 649.6,89.1 650.0,89.1 650.4,89.5 650.8,89.5 651.2,89.1 651.6,88.8 652.0,88.7 652.4,89.3 652.8,89.3 653.2,89.3 653.6,88.5 654.0,88.7 654.4,88.1 654.8,87.7 655.2,87.7 655.6,88.6 656.0,88.3 656.4,88.8 656.8,88.4 657.2,88.6 657.6,88.7 658.0,88.5 658.4,88.3 658.8,88.2 659.2,87.7 659.6,88.7 660.0,88.1 660.4,88.0 660.8,88.4 661.2,88.4 661.6,88.9 662.0,88.8 662.4,89.1 662.8,88.9 663.2,89.1 663.6,89.3 664.0,89.2 664.4,88.7 664.8,88.6 665.2,88.6 665.6,88.4 666.0,88.6 666.4,89.1 666.8,88.6 667.2,88.8 667.6,88.6 668.0,88.3 668.4,87.6 668.8,88.5 669.2,88.1 669.6,88.4 670.0,88.4 670.4,88.5 670.8,88.6 671.2,88.8 671.6,88.3 672.0,88.7 672.4,88.8 672.8,88.7 673.2,88.0 673.6,88.2 674.0,88.3 674.4,88.3 674.8,88.4 675.2,88.5 675.6,88.6 676.0,88.7 676.4,88.9 676.8,89.1 677.2,88.7 677.6,89.2 678.0,88.4 678.4,88.6 678.8,88.5 679.2,89.1 679.6,88.5 680.0,89.1 680.4,89.2 680.8,89.2 681.2,88.9 681.6,89.2 682.0,89.0 682.4,88.7 682.8,89.4 683.2,89.3 683.6,89.3 684.0,89.5 684.4,89.0 684.8,88.8 685.2,88.7 685.6,88.9 686.0,89.0 686.4,89.0 686.8,89.3 687.2,90.1 687.6,89.6 688.0,89.6 688.4,89.4 688.8,89.7 689.2,89.4 689.6,89.7 690.0,89.9 690.4,89.1 690.8,89.4 691.2,89.6 691.6,89.3 692.0,89.4 692.4,89.1 692.8,89.0 693.2,88.7 693.6,88.7 694.0,88.9 694.4,88.7 694.8,88.5 695.2,89.0 695.6,89.1 696.0,88.8 696.4,88.8 696.8,88.6 697.2,88.9 697.6,88.6 698.0,89.1 698.4,88.9 698.8,89.1 699.2,89.0 699.6,88.8 700.0,89.1 700.4,89.1 700.8,88.9 701.2,88.3 701.6,88.8 702.0,88.5 702.4,88.5 702.8,88.8 703.2,88.8 703.6,89.3 704.0,89.3 704.4,89.5 704.8,89.4 705.2,89.3 705.6,88.8 706.0,89.0 706.4,88.5 706.8,89.0 707.2,88.8 707.6,88.5 708.0,88.7 708.4,88.4 708.8,88.7 709.2,88.6 709.6,88.8 710.0,88.3 710.4,88.9 710.8,88.4 711.2,88.1 711.6,87.8 712.0,88.0 712.4,88.4 712.8,89.3 713.2,88.5 713.6,88.4 714.0,88.9 714.4,88.5 714.8,88.2 715.2,88.9 715.6,88.6 716.0,88.5 716.4,88.4 716.8,88.7 717.2,88.6 717.6,88.6 718.0,88.4 718.4,88.5 718.8,89.0 719.2,88.9 719.6,88.7 720.0,88.9 720.4,88.9 720.8,89.1 721.2,88.7 721.6,89.1 722.0,89.3 722.4,89.5 722.8,90.1 723.2,89.3 723.6,90.0 724.0,90.0 724.4,89.7 724.8,89.9 725.2,89.7 725.6,89.3 726.0,89.7 726.4,89.3 726.8,89.1 727.2,89.6 727.6,88.9 728.0,88.7 728.4,89.4 728.8,88.8 729.2,89.0 729.6,89.2 730.0,89.2 730.4,89.0 730.8,89.2 731.2,88.9 731.6,88.6 732.0,89.1 732.4,88.6 732.8,88.6 733.2,88.8 733.6,88.8 734.0,88.5 734.4,88.5 734.8,88.9 735.2,89.1 735.6,89.4 736.0,89.0 736.4,89.1 736.8,89.2 737.2,89.0 737.6,88.9 738.0,89.0 738.4,89.2 738.8,89.4 739.2,89.8 739.6,89.7 740.0,90.0 740.4,89.8 740.8,90.2 741.2,89.6 741.6,89.9 742.0,89.2 742.4,89.3 742.8,89.3 743.2,89.3 743.6,89.2 744.0,89.6 744.4,89.6 744.8,89.8 745.2,89.6 745.6,90.2 746.0,89.0 746.4,88.4 746.8,88.4 747.2,88.9 747.6,88.9 748.0,89.2 748.4,88.5 748.7,89.4 748.7,88.8"/><polygon fill="#5fcc2c" opacity="0.9" points="513.4,63.4 513.7,65.4 514.2,67.3 515.0,69.1 515.5,71.0 516.2,72.6 516.8,73.3 517.3,73.8 517.8,74.3 518.4,74.7 518.8,75.3 519.4,75.7 519.9,76.2 520.4,76.7 521.0,77.1 521.5,77.6 522.0,78.1 522.6,78.5 523.2,79.1 523.8,79.1 524.3,79.4 524.7,79.7 525.3,79.8 525.8,79.9 526.3,80.1 526.8,80.3 527.4,80.4 527.9,80.6 528.1,80.0 527.6,79.7 527.2,79.5 526.7,79.2 526.2,79.0 525.7,78.7 525.3,78.4 524.7,78.3 524.2,78.1 523.8,77.8 523.4,77.7 523.0,77.1 522.5,76.6 522.0,76.1 521.6,75.5 521.1,75.0 520.6,74.5 520.2,73.9 519.6,73.5 519.2,72.9 518.7,72.4 518.2,71.9 517.8,71.6 517.5,70.5 517.0,68.6 516.8,66.6 516.3,64.7 515.6,62.8"/>
<polyline fill="none" stroke="#3a9228" stroke-width="1.95" stroke-linejoin="round" points="440.4,110.9 440.4,111.1 440.8,111.3 441.2,111.4 441.6,110.8 442.0,110.7 442.4,110.8 442.8,111.2 443.2,111.0 443.6,111.1 444.0,111.1 444.4,111.2 444.8,111.4 445.2,111.2 445.6,110.5 446.0,110.5 446.4,111.0 446.8,111.2 447.2,111.3 447.6,111.8 448.0,110.9 448.4,111.1 448.8,111.2 449.2,111.4 449.6,111.8 450.0,111.5 450.4,111.2 450.8,111.4 451.2,111.6 451.6,111.5 452.0,111.5 452.4,110.8 452.8,110.2 453.2,110.4 453.6,110.2 454.0,110.3 454.4,110.3 454.8,110.8 455.2,110.5 455.6,110.7 456.0,110.6 456.4,110.6 456.8,110.9 457.2,111.3 457.6,110.9 458.0,111.4 458.4,110.9 458.8,111.0 459.2,111.2 459.6,110.7 460.0,110.4 460.4,110.7 460.8,110.7 461.2,111.1 461.6,111.1 462.0,110.8 462.4,110.9 462.8,111.2 463.2,111.3 463.6,110.7 464.0,111.0 464.4,111.0 464.8,110.8 465.2,111.0 465.6,111.1 466.0,111.3 466.4,111.3 466.8,111.1 467.2,110.9 467.6,110.6 468.0,110.2 468.4,110.3 468.8,109.9 469.2,109.8 469.6,110.0 470.0,110.7 470.4,110.6 470.8,110.5 471.2,110.4 471.6,110.9 472.0,110.9 472.4,110.9 472.8,111.0 473.2,111.0 473.6,110.9 474.0,111.0 474.4,111.0 474.8,111.2 475.2,111.6 475.6,111.6 476.0,111.1 476.4,111.0 476.8,111.0 477.2,110.6 477.6,110.9 478.0,110.5 478.4,110.9 478.8,111.2 479.2,111.3 479.6,111.0 480.0,110.9 480.4,111.2 480.8,110.5 481.2,110.8 481.6,111.2 482.0,111.3 482.4,111.4 482.8,110.9 483.2,111.4 483.6,111.2 484.0,111.1 484.4,111.4 484.8,111.1 485.2,111.4 485.6,111.4 486.0,111.1 486.4,110.9 486.8,111.2 487.2,111.2 487.6,110.7 488.0,110.9 488.4,111.1 488.8,111.2 489.2,111.2 489.6,111.1 490.0,111.2 490.4,111.0 490.8,110.2 491.2,110.3 491.6,110.2 492.0,110.3 492.4,110.6 492.8,110.3 493.2,110.4 493.6,110.6 494.0,110.9 494.4,110.7 494.8,110.4 495.2,110.3 495.6,110.6 496.0,110.9 496.4,111.2 496.8,111.1 497.2,111.2 497.6,111.1 498.0,111.3 498.4,110.9 498.8,111.1 499.2,111.0 499.6,110.6 500.0,110.3 500.4,110.7 500.8,110.1 501.2,110.0 501.6,110.2 502.0,110.3 502.4,110.0 502.8,110.8 503.2,110.6 503.6,110.5 504.0,110.6 504.4,111.3 504.8,111.3 505.2,111.7 505.6,110.8 506.0,110.9 506.4,110.9 506.8,110.5 507.2,110.4 507.6,110.6 508.0,111.0 508.4,111.2 508.8,111.5 509.2,110.8 509.6,110.3 510.0,110.7 510.4,111.0 510.8,110.7 511.2,110.9 511.6,110.9 511.6,110.3 512.0,128.2 512.0,128.0 512.4,122.4 512.8,117.5 513.2,110.3 513.2,112.4 513.6,108.0 514.0,107.1 514.4,102.9 514.6,103.8 514.8,102.1 515.2,104.1 515.6,102.7 516.0,104.1 516.4,103.7 516.8,105.1 517.0,103.4 517.2,105.2 517.6,104.1 518.0,105.6 518.4,104.4 518.8,105.6 519.2,104.6 519.6,106.2 520.0,105.0 520.4,106.0 520.8,105.0 521.2,106.3 521.6,105.1 522.0,105.8 522.0,104.8 522.4,105.5 522.8,105.4 523.2,106.2 523.6,105.3 524.0,106.7 524.4,106.1 524.8,107.6 525.2,106.0 525.6,107.2 526.0,105.3 526.4,107.3 526.8,106.3 527.2,107.4 527.6,105.9 528.0,107.0 528.4,105.4 528.8,106.6 529.2,106.2 529.6,107.7 530.0,106.3 530.0,107.6 530.4,106.5 530.8,107.1 531.2,105.7 531.6,107.1 532.0,106.5 532.4,107.8 532.8,106.6 533.2,108.3 533.6,106.7 534.0,107.2 534.4,106.8 534.8,107.8 535.2,107.0 535.6,107.5 536.0,106.9 536.4,107.8 536.8,107.6 537.2,108.2 537.6,107.2 538.0,107.5 538.4,106.5 538.8,107.5 539.2,106.5 539.6,106.8 540.0,106.0 540.4,106.7 540.8,106.9 541.2,107.4 541.6,107.7 542.0,107.6 542.4,107.6 542.8,107.6 543.2,107.6 543.6,107.5 544.0,107.0 544.4,107.6 544.8,107.5 545.2,106.9 545.6,107.2 546.0,107.5 546.4,107.4 546.8,107.4 547.2,107.5 547.6,107.7 548.0,107.7 548.4,108.1 548.8,107.7 549.2,107.7 549.6,107.2 550.0,107.6 550.4,107.2 550.8,106.6 551.2,107.0 551.6,106.6 552.0,106.5 552.4,106.5 552.8,106.3 553.2,106.4 553.6,106.6 554.0,106.4 554.4,106.4 554.8,105.9 555.2,106.7 555.6,106.3 556.0,106.2 556.4,106.8 556.8,106.5 557.2,106.9 557.6,106.8 558.0,107.0 558.4,107.2 558.8,107.0 559.2,106.0 559.6,106.5 560.0,106.4 560.4,107.3 560.8,106.7 561.2,106.8 561.6,106.9 562.0,107.3 562.4,107.3 562.8,107.8 563.2,108.3 563.6,107.1 564.0,107.0 564.4,107.4 564.8,107.7 565.2,107.8 565.6,107.4 566.0,106.8 566.4,106.8 566.8,107.1 567.2,107.3 567.6,107.3 568.0,107.4 568.4,107.2 568.8,107.1 569.2,107.1 569.6,107.3 570.0,107.6 570.4,107.6 570.8,107.6 571.2,107.2 571.6,107.1 572.0,107.8 572.4,107.6 572.8,107.9 573.2,107.8 573.6,107.5 574.0,107.8 574.4,107.6 574.8,107.4 575.2,107.3 575.6,107.9 576.0,107.3 576.4,107.6 576.8,107.6 577.2,108.3 577.6,108.2 578.0,107.8 578.4,107.8 578.8,107.9 579.2,107.3 579.6,107.8 580.0,108.0 580.4,107.9 580.8,107.5 581.2,107.8 581.6,107.6 582.0,107.5 582.4,107.3 582.8,107.1 583.2,107.2 583.6,107.2 584.0,107.5 584.4,107.7 584.8,107.3 585.2,107.8 585.6,107.8 586.0,107.5 586.4,107.6 586.8,107.3 587.2,107.2 587.6,106.9 588.0,106.8 588.4,107.3 588.8,107.2 589.2,107.4 589.6,106.8 590.0,107.6 590.4,107.5 590.8,107.2 591.2,107.3 591.6,107.6 592.0,107.3 592.4,107.3 592.8,107.7 593.2,106.6 593.6,107.4 594.0,108.2 594.4,108.3 594.8,107.8 595.2,107.5 595.6,107.8 596.0,108.1 596.4,108.2 596.8,107.9 597.2,108.2 597.6,107.8 598.0,107.8 598.4,107.6 598.8,107.7 599.2,107.7 599.6,107.3 600.0,107.8 600.4,108.2 600.8,107.8 601.2,107.2 601.6,107.7 602.0,107.0 602.4,107.1 602.8,107.2 603.2,107.1 603.6,107.5 604.0,107.5 604.4,107.7 604.8,107.8 605.2,107.4 605.6,106.9 606.0,107.8 606.4,106.9 606.8,107.6 607.2,107.0 607.6,107.7 608.0,106.5 608.4,107.1 608.8,107.2 609.2,107.4 609.6,107.7 610.0,107.9 610.4,107.6 610.8,107.6 611.2,107.8 611.6,108.0 612.0,108.0 612.4,107.8 612.8,107.9 613.2,107.8 613.6,107.5 614.0,107.6 614.4,107.7 614.8,108.1 615.2,107.7 615.6,108.1 616.0,108.3 616.4,108.1 616.8,107.8 617.2,107.6 617.6,108.1 618.0,108.1 618.4,108.2 618.8,108.3 619.2,108.1 619.6,107.9 620.0,107.5 620.4,108.1 620.8,108.0 621.2,107.5 621.6,108.0 622.0,107.9 622.4,108.1 622.8,108.8 623.2,108.5 623.6,108.1 624.0,108.6 624.4,108.4 624.8,107.9 625.2,107.8 625.6,108.0 626.0,107.8 626.4,107.3 626.8,107.2 627.2,108.0 627.6,107.9 628.0,108.4 628.4,108.1 628.8,107.9 629.2,108.2 629.6,107.7 630.0,107.6 630.4,108.0 630.8,107.4 631.2,107.1 631.6,107.3 632.0,107.1 632.4,107.7 632.8,107.7 633.2,107.9 633.6,107.9 634.0,108.0 634.4,107.9 634.8,107.7 635.2,108.0 635.6,107.8 636.0,108.2 636.4,108.2 636.8,108.1 637.2,108.3 637.6,108.9 638.0,108.5 638.4,108.5 638.8,108.2 639.2,107.7 639.6,108.4 640.0,108.1 640.4,107.9 640.8,107.6 641.2,107.5 641.6,107.9 642.0,107.4 642.4,107.4 642.8,108.0 643.2,108.1 643.6,107.4 644.0,108.3 644.4,108.2 644.8,108.2 645.2,107.7 645.6,108.2 646.0,108.4 646.4,108.3 646.8,108.2 647.2,108.0 647.6,107.9 648.0,108.6 648.4,108.3 648.8,107.1 649.2,107.5 649.6,107.3 650.0,107.3 650.4,107.5 650.8,107.3 651.2,107.7 651.6,108.1 652.0,107.6 652.4,108.7 652.8,108.3 653.2,108.3 653.6,108.3 654.0,107.5 654.4,107.6 654.8,108.0 655.2,107.8 655.6,108.1 656.0,107.4 656.4,107.4 656.8,107.5 657.2,107.7 657.6,107.4 658.0,107.3 658.4,107.6 658.8,107.3 659.2,107.0 659.6,106.8 660.0,107.4 660.4,107.7 660.8,108.0 661.2,108.5 661.6,108.3 662.0,108.4 662.4,108.2 662.8,108.5 663.2,108.2 663.6,108.3 664.0,108.6 664.4,108.4 664.8,108.7 665.2,108.2 665.6,108.0 666.0,108.0 666.4,107.7 666.8,107.3 667.2,106.8 667.6,107.1 668.0,107.2 668.4,107.9 668.8,107.9 669.2,107.8 669.6,108.1 670.0,108.2 670.4,108.2 670.8,108.3 671.2,108.2 671.6,108.4 672.0,108.4 672.4,108.6 672.8,108.1 673.2,108.2 673.6,108.8 674.0,108.6 674.4,108.4 674.8,108.4 675.2,107.5 675.6,108.4 676.0,108.2 676.4,108.4 676.8,108.2 677.2,108.1 677.6,107.6 678.0,108.1 678.4,107.8 678.8,107.6 679.2,107.7 679.6,107.2 680.0,107.3 680.4,107.8 680.8,107.4 681.2,107.7 681.6,107.3 682.0,107.7 682.4,108.0 682.8,107.7 683.2,107.9 683.6,108.3 684.0,108.2 684.4,108.1 684.8,108.1 685.2,108.2 685.6,108.2 686.0,108.5 686.4,108.2 686.8,108.2 687.2,108.1 687.6,108.0 688.0,107.6 688.4,107.9 688.8,108.6 689.2,108.2 689.6,108.4 690.0,108.0 690.4,108.0 690.8,108.3 691.2,108.7 691.6,108.7 692.0,108.4 692.4,108.7 692.8,108.6 693.2,108.6 693.6,108.6 694.0,108.8 694.4,108.2 694.8,108.0 695.2,107.9 695.6,108.1 696.0,108.3 696.4,107.8 696.8,107.7 697.2,107.8 697.6,108.2 698.0,107.9 698.4,107.9 698.8,108.2 699.2,108.0 699.6,108.7 700.0,108.9 700.4,108.7 700.8,108.4 701.2,108.2 701.6,108.3 702.0,108.2 702.4,108.0 702.8,108.5 703.2,108.2 703.6,108.6 704.0,108.8 704.4,108.6 704.8,108.2 705.2,108.9 705.6,109.1 706.0,109.1 706.4,109.2 706.8,109.0 707.2,109.0 707.6,108.7 708.0,109.3 708.4,108.9 708.8,109.4 709.2,109.4 709.6,109.2 710.0,109.3 710.4,109.3 710.8,109.2 711.2,109.1 711.6,109.1 712.0,108.9 712.4,108.9 712.8,108.8 713.2,108.6 713.6,108.4 714.0,109.2 714.4,108.9 714.8,109.2 715.2,108.9 715.6,109.3 716.0,109.0 716.4,109.3 716.8,109.2 717.2,109.0 717.6,109.5 718.0,108.9 718.4,109.2 718.8,109.0 719.2,109.0 719.6,108.6 720.0,109.0 720.4,109.0 720.8,108.8 721.2,108.8 721.6,108.4 722.0,109.0 722.4,108.8 722.8,108.6 723.2,108.3 723.6,108.4 724.0,108.5 724.4,108.4 724.8,108.7 725.2,108.4 725.6,108.1 726.0,108.4 726.4,108.9 726.8,108.7 727.2,109.1 727.6,108.7 728.0,108.6 728.4,108.6 728.8,108.4 729.2,108.9 729.6,108.2 730.0,108.5 730.4,108.6 730.8,108.7 731.2,108.6 731.6,108.8 732.0,108.8 732.4,108.9 732.8,108.4 733.2,108.7 733.6,109.1 734.0,108.9 734.4,109.0 734.8,109.1 735.2,109.1 735.6,108.7 736.0,109.3 736.4,109.4 736.8,109.2 737.2,109.1 737.6,108.7 738.0,108.6 738.4,108.2 738.8,108.7 739.2,108.7 739.6,108.8 740.0,108.8 740.4,108.9 740.8,109.2 741.2,109.1 741.6,109.0 742.0,108.8 742.4,109.0 742.8,108.5 743.2,108.3 743.6,108.2 744.0,108.2 744.4,108.6 744.8,108.9 745.2,109.1 745.6,108.6 746.0,109.3 746.4,109.7 746.8,109.8 747.2,109.8 747.6,109.2 748.0,109.1 748.4,109.2 748.7,109.1 748.7,109.4"/><polygon fill="#3a9228" opacity="0.9" points="515.7,106.1 516.3,103.7 514.1,104.3 514.7,104.6 515.3,104.6 515.9,104.8 516.4,105.2 517.0,105.5 517.6,105.4 518.0,105.8 518.6,105.8 519.1,106.0 519.6,106.1 520.1,106.4 520.6,106.6 521.1,106.8 521.8,106.8 522.4,106.8 522.9,107.0 523.4,107.0 523.9,107.1 524.4,107.0 524.9,106.9 525.4,107.0 525.9,107.0 526.1,106.0 525.6,105.9 525.1,105.8 524.6,105.6 524.1,105.4 523.6,105.4 523.1,105.2 522.6,105.3 522.2,105.2 521.9,104.8 521.4,104.6 520.9,104.4 520.4,104.3 519.9,104.0 519.4,103.8 519.0,103.4 518.4,103.4 518.0,102.9 517.6,102.8 517.1,102.6 516.7,102.3 516.3,101.7 515.9,101.3 512.7,102.6 512.3,105.4"/>
<polyline fill="none" stroke="#2b6e1c" stroke-width="1.95" stroke-linejoin="round" points="440.4,136.0 440.4,136.2 440.8,137.3 441.2,136.9 441.6,136.9 442.0,136.8 442.4,136.3 442.8,136.4 443.2,136.4 443.6,136.3 444.0,136.1 444.4,136.1 444.8,136.6 445.2,136.5 445.6,136.1 446.0,136.3 446.4,136.2 446.8,136.0 447.2,136.1 447.6,136.2 448.0,136.8 448.4,136.4 448.8,136.4 449.2,136.2 449.6,136.3 450.0,136.3 450.4,136.4 450.8,136.3 451.2,135.8 451.6,136.2 452.0,135.9 452.4,136.3 452.8,136.3 453.2,136.6 453.6,136.3 454.0,136.0 454.4,136.3 454.8,136.2 455.2,136.4 455.6,136.3 456.0,136.2 456.4,135.9 456.8,136.0 457.2,136.1 457.6,136.4 458.0,136.4 458.4,136.7 458.8,136.7 459.2,136.5 459.6,136.2 460.0,136.7 460.4,136.6 460.8,137.0 461.2,137.1 461.6,137.2 462.0,136.8 462.4,136.3 462.8,136.7 463.2,136.4 463.6,136.3 464.0,136.2 464.4,136.6 464.8,136.3 465.2,136.4 465.6,136.0 466.0,136.8 466.4,136.1 466.8,136.5 467.2,136.5 467.6,136.7 468.0,136.6 468.4,136.4 468.8,136.2 469.2,136.1 469.6,135.6 470.0,136.1 470.4,135.9 470.8,136.1 471.2,136.6 471.6,136.7 472.0,136.2 472.4,135.4 472.8,135.8 473.2,136.0 473.6,136.1 474.0,136.5 474.4,136.9 474.8,136.4 475.2,136.0 475.6,136.2 476.0,136.1 476.4,136.6 476.8,136.0 477.2,136.1 477.6,136.0 478.0,136.0 478.4,136.6 478.8,135.6 479.2,135.3 479.6,135.8 480.0,135.4 480.4,135.5 480.8,135.7 481.2,135.9 481.6,135.7 482.0,136.1 482.4,136.2 482.8,136.1 483.2,136.0 483.6,135.8 484.0,136.2 484.4,136.4 484.8,136.2 485.2,136.1 485.6,136.4 486.0,136.4 486.4,135.9 486.8,136.1 487.2,135.8 487.6,136.1 488.0,135.9 488.4,136.0 488.8,135.9 489.2,135.7 489.6,135.6 490.0,135.6 490.4,136.0 490.8,136.0 491.2,135.9 491.6,135.7 492.0,135.5 492.4,136.3 492.8,136.1 493.2,136.1 493.6,136.3 494.0,136.0 494.4,135.8 494.8,136.4 495.2,136.4 495.6,136.6 496.0,136.8 496.4,136.5 496.8,135.5 497.2,135.9 497.6,135.9 498.0,135.9 498.4,136.2 498.8,136.1 499.2,136.6 499.6,136.3 500.0,136.7 500.4,137.0 500.8,136.4 501.2,136.8 501.6,136.5 502.0,136.3 502.4,136.1 502.8,136.6 503.2,136.8 503.6,137.3 504.0,136.8 504.4,136.8 504.8,136.6 505.2,136.8 505.6,136.3 506.0,136.0 506.4,135.9 506.8,136.2 507.2,135.9 507.6,136.2 508.0,135.8 508.4,135.7 508.8,135.9 509.2,135.8 509.6,136.3 510.0,136.2 510.4,135.7 510.8,135.8 511.2,136.1 511.6,135.5 511.6,135.5 512.0,173.7 512.0,173.7 512.4,170.2 512.8,166.4 513.2,162.4 513.6,160.4 514.0,154.9 514.4,153.7 514.6,150.6 514.8,151.0 515.2,148.3 515.6,149.6 516.0,146.8 516.4,147.0 516.8,145.3 517.2,145.9 517.2,144.3 517.6,145.6 518.0,144.3 518.4,145.9 518.8,143.8 519.2,145.4 519.6,143.9 520.0,144.5 520.4,143.6 520.8,144.6 521.2,142.8 521.6,144.0 522.0,142.6 522.4,143.5 522.8,142.4 523.2,142.7 523.6,141.7 524.0,142.7 524.4,141.4 524.8,142.1 524.9,141.4 525.2,142.0 525.6,141.1 526.0,141.3 526.4,140.5 526.8,140.9 527.2,140.2 527.6,140.9 528.0,140.2 528.4,141.5 528.8,139.7 529.2,141.5 529.6,141.0 530.0,142.0 530.4,140.6 530.8,142.2 531.2,140.5 531.6,141.2 532.0,139.9 532.4,141.1 532.8,139.5 533.2,140.4 533.6,139.7 534.0,139.9 534.4,139.1 534.8,140.3 535.2,138.9 535.6,139.8 536.0,138.8 536.4,140.2 536.8,139.3 537.2,140.2 537.6,139.0 538.0,140.6 538.4,138.9 538.8,140.1 539.2,138.9 539.6,140.0 540.0,138.3 540.4,139.3 540.8,138.6 541.2,139.0 541.6,138.2 542.0,138.3 542.4,138.1 542.8,138.5 542.9,138.3 543.2,139.3 543.6,138.8 544.0,139.2 544.4,138.5 544.8,139.2 545.2,138.0 545.6,137.9 546.0,138.4 546.4,138.3 546.8,138.2 547.2,138.2 547.6,137.8 548.0,137.5 548.4,137.3 548.8,137.4 549.2,138.0 549.6,138.3 550.0,138.2 550.4,138.1 550.8,137.8 551.2,138.0 551.6,138.3 552.0,137.5 552.4,138.0 552.8,137.6 553.2,138.0 553.6,137.8 554.0,138.2 554.4,138.0 554.8,137.8 555.2,137.8 555.6,137.9 556.0,138.3 556.4,137.9 556.8,138.3 557.2,138.1 557.6,138.6 558.0,138.5 558.4,138.7 558.8,138.8 559.2,138.7 559.6,138.0 560.0,138.1 560.4,138.2 560.8,137.9 561.2,137.3 561.6,137.6 562.0,137.9 562.4,137.6 562.8,138.0 563.2,137.7 563.6,137.6 564.0,137.6 564.4,137.7 564.8,137.6 565.2,137.7 565.6,137.8 566.0,138.1 566.4,138.5 566.8,138.6 567.2,138.1 567.6,137.8 568.0,138.0 568.4,138.0 568.8,138.2 569.2,137.8 569.6,137.3 570.0,137.2 570.4,137.5 570.8,137.6 571.2,138.0 571.6,137.8 572.0,137.0 572.4,137.4 572.8,137.7 573.2,137.9 573.6,137.9 574.0,137.6 574.4,137.2 574.8,137.5 575.2,137.6 575.6,137.9 576.0,137.5 576.4,138.2 576.8,137.9 577.2,138.0 577.6,137.9 578.0,138.1 578.4,138.4 578.8,138.1 579.2,138.1 579.6,137.5 580.0,137.3 580.4,136.8 580.8,136.8 581.2,137.4 581.6,138.0 582.0,138.4 582.4,138.0 582.8,137.7 583.2,137.7 583.6,137.3 584.0,137.0 584.4,137.6 584.8,137.4 585.2,137.4 585.6,136.8 586.0,137.0 586.4,137.4 586.8,137.0 587.2,136.9 587.6,137.1 588.0,137.2 588.4,137.7 588.8,137.7 589.2,137.7 589.6,138.0 590.0,137.5 590.4,138.2 590.8,137.8 591.2,138.0 591.6,137.9 592.0,137.9 592.4,137.2 592.8,137.4 593.2,137.4 593.6,137.6 594.0,137.3 594.4,137.3 594.8,137.3 595.2,137.7 595.6,137.7 596.0,137.7 596.4,137.9 596.8,137.5 597.2,137.0 597.6,136.7 598.0,136.4 598.4,136.7 598.8,137.4 599.2,137.2 599.6,137.1 600.0,137.4 600.0,137.7 600.4,137.3 600.8,137.3 601.2,137.2 601.6,137.2 602.0,137.6 602.4,137.3 602.8,137.4 603.2,137.2 603.6,137.1 604.0,137.3 604.4,137.1 604.8,137.1 605.2,137.0 605.6,137.2 606.0,136.8 606.4,137.3 606.8,137.1 607.2,137.0 607.6,136.7 608.0,136.8 608.4,136.8 608.8,137.3 609.2,137.6 609.6,137.7 610.0,138.4 610.4,138.1 610.8,137.3 611.2,138.0 611.6,137.6 612.0,137.2 612.4,137.1 612.8,137.0 613.2,137.2 613.6,137.6 614.0,137.2 614.4,137.5 614.8,137.5 615.2,136.8 615.6,136.5 616.0,136.1 616.4,136.7 616.8,136.7 617.2,136.8 617.6,137.7 618.0,138.0 618.4,138.3 618.8,137.9 619.2,137.7 619.6,137.8 620.0,137.4 620.4,137.3 620.8,137.1 621.2,137.1 621.6,137.2 622.0,137.0 622.4,137.8 622.8,137.3 623.2,137.4 623.6,136.7 624.0,136.8 624.4,137.0 624.8,136.8 625.2,136.8 625.6,137.1 626.0,136.9 626.4,136.7 626.8,136.6 627.2,137.0 627.6,137.0 628.0,137.1 628.4,136.6 628.8,136.7 629.2,137.2 629.6,137.2 630.0,136.7 630.4,136.2 630.8,136.9 631.2,136.4 631.6,136.8 632.0,136.9 632.4,136.8 632.8,137.4 633.2,137.4 633.6,137.2 634.0,137.2 634.4,137.1 634.8,136.9 635.2,137.3 635.6,137.1 636.0,137.0 636.4,137.1 636.8,137.4 637.2,137.8 637.6,137.7 638.0,137.6 638.4,137.4 638.8,137.4 639.2,137.3 639.6,137.0 640.0,136.4 640.4,137.1 640.8,137.1 641.2,137.5 641.6,137.0 642.0,136.8 642.4,137.0 642.8,137.2 643.2,137.1 643.6,136.9 644.0,137.0 644.4,136.8 644.8,137.2 645.2,136.6 645.6,137.0 646.0,136.7 646.4,136.8 646.8,136.6 647.2,137.0 647.6,136.6 648.0,137.5 648.4,137.3 648.8,137.2 649.2,137.3 649.6,137.3 650.0,136.8 650.4,136.9 650.8,137.3 651.2,137.0 651.6,137.0 652.0,137.3 652.4,137.3 652.8,137.0 653.2,136.6 653.6,136.8 654.0,137.0 654.4,136.5 654.8,136.9 655.2,136.3 655.6,136.6 656.0,137.1 656.4,136.6 656.8,136.8 657.2,137.1 657.6,137.0 658.0,137.3 658.4,137.0 658.8,136.6 659.2,136.8 659.6,136.7 660.0,136.8 660.4,136.3 660.8,136.7 661.2,137.0 661.6,137.3 662.0,137.2 662.4,137.2 662.8,137.5 663.2,137.1 663.6,136.6 664.0,137.1 664.4,137.0 664.8,137.2 665.2,137.2 665.6,137.3 666.0,137.2 666.4,137.1 666.8,136.8 667.2,137.0 667.6,136.8 668.0,136.9 668.4,136.5 668.8,137.0 669.2,136.9 669.6,137.3 670.0,137.4 670.4,137.1 670.8,137.2 671.2,137.2 671.6,136.8 672.0,136.9 672.4,137.1 672.8,137.2 673.2,137.6 673.6,137.6 674.0,137.2 674.4,136.6 674.8,136.9 675.2,136.5 675.6,136.7 676.0,136.3 676.4,136.2 676.8,136.4 677.2,136.8 677.6,136.8 678.0,136.9 678.4,137.2 678.8,137.4 679.2,137.3 679.6,136.9 680.0,136.8 680.4,136.7 680.8,136.8 681.2,136.7 681.6,136.5 682.0,137.0 682.4,136.7 682.8,137.2 683.2,136.7 683.6,136.6 684.0,136.6 684.4,136.6 684.8,136.8 685.2,136.5 685.6,136.8 686.0,137.2 686.4,136.6 686.8,137.0 687.2,136.7 687.6,136.9 688.0,137.1 688.4,137.0 688.8,137.4 689.2,136.9 689.6,136.9 690.0,136.5 690.4,136.6 690.8,136.4 691.2,137.0 691.6,136.7 692.0,136.7 692.4,136.3 692.8,136.4 693.2,136.1 693.6,135.7 694.0,135.8 694.4,135.5 694.8,136.3 695.2,136.0 695.6,135.6 696.0,136.0 696.4,136.1 696.8,136.1 697.2,136.4 697.6,136.5 698.0,136.8 698.4,136.6 698.8,136.3 699.2,136.2 699.6,136.9 700.0,136.7 700.4,136.6 700.8,136.2 701.2,136.4 701.6,136.5 702.0,136.4 702.4,136.3 702.8,136.9 703.2,136.9 703.6,136.9 704.0,136.4 704.4,137.0 704.8,137.4 705.2,138.3 705.6,137.7 706.0,137.1 706.4,137.6 706.8,137.2 707.2,136.8 707.6,136.5 708.0,136.6 708.4,136.4 708.8,136.9 709.2,136.8 709.6,137.1 710.0,136.5 710.4,136.8 710.8,136.6 711.2,136.3 711.6,136.3 712.0,135.9 712.4,135.6 712.8,135.8 713.2,135.5 713.6,135.6 714.0,135.6 714.4,135.6 714.8,135.8 715.2,136.2 715.6,135.8 716.0,136.1 716.4,136.3 716.8,136.4 717.2,136.7 717.6,136.4 718.0,137.1 718.4,137.1 718.8,137.1 719.2,137.5 719.6,136.3 720.0,136.4 720.4,137.0 720.8,136.6 721.2,136.6 721.6,136.8 722.0,137.0 722.4,136.5 722.8,136.3 723.2,136.4 723.6,136.2 724.0,135.9 724.4,136.1 724.8,136.3 725.2,136.2 725.6,136.1 726.0,136.6 726.4,136.8 726.8,136.6 727.2,136.7 727.6,136.8 728.0,136.1 728.4,135.9 728.8,135.9 729.2,135.7 729.6,135.9 730.0,135.9 730.4,135.7 730.8,135.0 731.2,134.7 731.6,135.3 732.0,135.1 732.4,135.3 732.8,135.6 733.2,135.7 733.6,136.0 734.0,136.2 734.4,135.9 734.8,135.7 735.2,135.9 735.6,136.4 736.0,136.7 736.4,136.8 736.8,136.5 737.2,136.7 737.6,136.1 738.0,136.3 738.4,136.5 738.8,136.2 739.2,136.2 739.6,136.2 740.0,135.5 740.4,135.9 740.8,135.4 741.2,135.7 741.6,135.6 742.0,135.4 742.4,134.8 742.8,135.2 743.2,135.1 743.6,135.3 744.0,135.7 744.4,135.6 744.8,136.4 745.2,136.3 745.6,136.4 746.0,136.5 746.4,136.5 746.8,136.5 747.2,136.1 747.6,136.0 748.0,136.0 748.4,135.6 748.7,135.8 748.7,135.6"/><polygon fill="#2b6e1c" opacity="0.9" points="516.1,156.7 516.1,152.5 516.6,151.1 517.2,149.9 517.7,148.7 517.9,147.3 518.3,146.1 518.2,146.4 518.6,145.8 519.2,145.9 519.5,145.2 520.2,145.3 520.7,145.0 521.1,144.6 521.7,144.4 522.1,144.1 522.6,143.8 523.0,143.3 523.4,143.0 523.9,142.7 524.4,142.5 525.0,142.4 525.3,142.2 525.7,142.2 526.1,141.9 526.6,141.8 527.1,141.8 527.6,141.7 528.1,141.6 528.6,141.2 529.1,141.3 529.6,141.1 530.1,141.1 529.9,139.8 529.4,140.0 528.9,139.9 528.4,140.1 527.9,139.9 527.4,140.0 526.9,140.0 526.4,140.2 525.9,140.2 525.3,140.0 524.7,140.2 524.0,140.4 523.6,140.8 523.1,141.0 522.6,141.3 522.0,141.4 521.4,141.5 520.9,141.6 520.3,141.8 519.9,142.2 519.3,142.2 518.8,142.4 518.5,143.0 517.8,142.9 517.4,143.4 516.8,143.3 515.7,144.9 515.1,146.1 514.3,147.3 513.8,148.5 513.4,149.7 512.9,152.0 511.9,156.2"/>
<polyline fill="none" stroke="#1c4812" stroke-width="2.0" stroke-linejoin="round" points="440.4,182.3 440.4,181.8 440.8,182.0 441.2,182.1 441.6,182.0 442.0,182.0 442.4,181.9 442.8,182.4 443.2,181.8 443.6,181.9 444.0,181.8 444.4,182.0 444.8,181.6 445.2,182.4 445.6,181.8 446.0,182.1 446.4,182.1 446.8,181.5 447.2,181.4 447.6,181.8 448.0,182.0 448.4,182.6 448.8,182.5 449.2,182.4 449.6,181.7 450.0,181.8 450.4,182.4 450.8,182.3 451.2,182.0 451.6,182.4 452.0,182.4 452.4,181.9 452.8,182.1 453.2,182.1 453.6,181.7 454.0,181.8 454.4,182.1 454.8,181.8 455.2,181.8 455.6,181.7 456.0,181.4 456.4,181.6 456.8,181.5 457.2,182.0 457.6,182.4 458.0,182.1 458.4,182.6 458.8,182.5 459.2,182.4 459.6,182.0 460.0,181.7 460.4,181.8 460.8,181.4 461.2,181.9 461.6,181.9 462.0,181.4 462.4,182.0 462.8,182.5 463.2,181.5 463.6,181.5 464.0,181.5 464.4,181.3 464.8,181.4 465.2,181.4 465.6,181.5 466.0,181.5 466.4,181.1 466.8,181.3 467.2,181.0 467.6,181.8 468.0,181.6 468.4,182.2 468.8,182.4 469.2,181.6 469.6,182.2 470.0,182.1 470.4,182.2 470.8,181.6 471.2,182.0 471.6,181.8 472.0,181.8 472.4,181.6 472.8,182.0 473.2,182.0 473.6,181.7 474.0,181.8 474.4,181.5 474.8,182.0 475.2,181.4 475.6,181.2 476.0,181.2 476.4,181.5 476.8,181.8 477.2,182.2 477.6,182.0 478.0,182.0 478.4,182.3 478.8,181.7 479.2,181.8 479.6,181.3 480.0,181.5 480.4,182.0 480.8,182.2 481.2,182.3 481.6,182.2 482.0,182.6 482.4,182.1 482.8,182.4 483.2,182.4 483.6,182.2 484.0,182.4 484.4,182.5 484.8,182.0 485.2,182.1 485.6,182.1 486.0,182.0 486.4,182.4 486.8,181.8 487.2,181.6 487.6,181.3 488.0,181.4 488.4,181.0 488.8,181.5 489.2,181.4 489.6,181.5 490.0,181.5 490.4,181.8 490.8,181.9 491.2,181.6 491.6,181.3 492.0,181.8 492.4,181.7 492.8,181.8 493.2,181.9 493.6,181.9 494.0,181.8 494.4,181.7 494.8,181.5 495.2,181.7 495.6,181.8 496.0,181.5 496.4,181.4 496.8,181.3 497.2,181.8 497.6,181.6 498.0,181.8 498.4,182.2 498.8,182.1 499.2,182.0 499.6,182.0 500.0,181.7 500.4,181.9 500.8,181.9 501.2,181.6 501.6,182.1 502.0,182.0 502.4,181.8 502.8,181.7 503.2,181.8 503.6,181.6 504.0,182.2 504.4,182.1 504.8,181.5 505.2,181.7 505.6,182.3 506.0,183.2 506.4,183.0 506.8,182.8 507.2,182.5 507.6,181.6 508.0,181.4 508.4,181.6 508.8,181.4 509.2,181.2 509.6,181.1 510.0,181.0 510.4,180.6 510.8,181.0 511.2,181.2 511.6,181.6 511.6,182.1 512.0,244.3 512.0,244.4 512.4,240.6 512.8,238.0 513.2,233.6 513.6,230.7 514.0,227.4 514.4,223.9 514.6,221.4 514.8,220.3 515.2,217.4 515.6,214.8 516.0,212.6 516.4,210.6 516.8,207.5 517.2,205.4 517.2,205.4 517.6,204.7 518.0,203.8 518.4,202.8 518.8,202.2 519.2,201.8 519.6,201.4 520.0,200.0 520.4,199.0 520.8,199.1 521.2,197.2 521.6,197.4 522.0,196.1 522.4,196.6 522.8,194.8 523.2,194.9 523.6,192.9 524.0,192.7 524.4,190.9 524.8,191.9 524.9,190.3 525.2,191.6 525.6,190.3 526.0,191.8 526.4,190.2 526.8,190.7 527.2,189.9 527.6,190.1 528.0,189.4 528.4,190.6 528.8,189.4 529.2,190.7 529.6,189.3 530.0,189.7 530.4,188.9 530.8,189.2 531.2,188.8 531.6,189.2 532.0,188.3 532.4,189.0 532.8,186.8 533.2,188.2 533.6,187.2 534.0,188.5 534.4,187.0 534.8,187.4 535.2,186.6 535.6,187.2 536.0,187.0 536.4,187.7 536.8,186.6 537.2,186.7 537.6,186.0 537.7,186.4 538.0,185.9 538.4,186.9 538.8,185.8 539.2,186.1 539.6,185.6 540.0,186.5 540.4,186.3 540.8,186.2 541.2,186.1 541.6,185.9 542.0,185.6 542.4,185.0 542.8,185.5 543.2,185.6 543.6,185.8 544.0,185.4 544.4,185.3 544.8,185.6 545.2,186.3 545.6,186.1 546.0,185.6 546.4,186.4 546.8,185.8 547.2,185.5 547.6,185.1 548.0,185.3 548.4,185.5 548.8,185.2 549.2,185.4 549.6,186.0 550.0,186.0 550.4,185.4 550.8,185.2 551.2,185.3 551.6,184.6 552.0,184.7 552.4,185.0 552.8,184.7 553.2,184.7 553.6,184.9 554.0,185.1 554.4,184.7 554.8,184.4 555.2,184.7 555.6,184.3 556.0,184.5 556.4,184.7 556.8,184.6 557.2,184.1 557.6,184.3 558.0,184.2 558.4,184.5 558.8,184.5 559.2,184.8 559.6,185.1 560.0,184.6 560.4,184.5 560.8,183.9 561.2,183.8 561.6,184.4 562.0,184.4 562.4,183.8 562.8,184.2 563.2,184.2 563.6,184.1 564.0,184.2 564.4,184.0 564.8,184.4 565.2,184.5 565.6,184.2 566.0,184.7 566.4,184.3 566.8,184.2 567.2,184.0 567.6,184.0 568.0,184.2 568.4,184.4 568.6,184.3 568.8,183.9 569.2,183.6 569.6,183.7 570.0,184.1 570.4,184.1 570.8,183.9 571.2,183.8 571.6,183.2 572.0,183.8 572.4,183.6 572.8,183.5 573.2,183.3 573.6,183.6 574.0,183.1 574.4,183.5 574.8,183.6 575.2,183.6 575.6,183.7 576.0,183.8 576.4,183.7 576.8,184.3 577.2,183.7 577.6,183.5 578.0,183.3 578.4,183.2 578.8,183.0 579.2,183.3 579.6,183.7 580.0,183.6 580.4,184.0 580.8,184.2 581.2,183.8 581.6,183.8 582.0,183.8 582.4,184.2 582.8,183.6 583.2,183.2 583.6,183.3 584.0,183.4 584.4,183.5 584.8,183.5 585.2,183.6 585.6,183.0 586.0,183.2 586.4,183.3 586.8,183.7 587.2,183.7 587.6,183.6 588.0,183.6 588.4,184.5 588.8,184.1 589.2,183.6 589.6,183.7 590.0,183.9 590.4,184.0 590.8,183.8 591.2,183.8 591.6,183.6 592.0,183.3 592.4,183.1 592.8,183.2 593.2,184.0 593.6,183.9 594.0,183.7 594.4,183.5 594.8,183.8 595.2,184.0 595.6,183.9 596.0,183.4 596.4,183.5 596.8,183.4 597.2,183.4 597.6,183.8 598.0,183.3 598.4,183.4 598.8,183.1 599.2,183.2 599.6,182.9 600.0,182.9 600.4,183.0 600.8,183.4 601.2,183.7 601.6,183.3 602.0,183.4 602.4,183.5 602.8,183.6 603.2,183.6 603.6,183.7 604.0,183.5 604.4,183.8 604.8,183.8 605.2,183.7 605.6,184.1 606.0,184.4 606.4,184.0 606.8,184.6 607.2,184.1 607.6,183.9 608.0,184.1 608.4,183.8 608.8,183.9 609.2,184.0 609.6,183.7 610.0,183.9 610.4,183.7 610.8,184.1 611.2,184.5 611.6,183.9 612.0,183.6 612.4,183.8 612.8,184.0 613.2,184.1 613.6,183.7 614.0,183.2 614.4,183.5 614.8,183.3 615.2,182.8 615.6,183.1 616.0,183.0 616.4,183.6 616.8,183.7 617.2,184.1 617.6,183.7 618.0,183.5 618.4,183.4 618.8,183.7 619.2,183.4 619.6,183.0 620.0,182.7 620.4,182.5 620.8,182.9 621.2,182.6 621.6,182.7 622.0,182.5 622.4,183.0 622.8,183.1 623.2,183.0 623.6,183.5 624.0,183.5 624.4,183.5 624.8,183.1 625.2,182.7 625.6,183.2 626.0,183.0 626.4,184.0 626.8,183.2 627.2,183.0 627.6,183.8 628.0,183.3 628.4,183.8 628.8,183.7 629.2,183.4 629.6,183.7 630.0,183.9 630.4,183.9 630.8,184.1 631.2,184.0 631.6,184.5 632.0,184.6 632.4,184.7 632.8,184.7 633.2,184.2 633.6,184.6 634.0,184.2 634.4,184.3 634.8,183.7 635.2,183.6 635.6,183.7 636.0,183.7 636.4,183.8 636.8,183.3 637.2,183.2 637.6,183.5 638.0,184.2 638.4,184.4 638.8,184.1 639.2,184.2 639.6,183.7 640.0,184.0 640.4,184.3 640.8,184.6 641.2,184.3 641.6,183.3 642.0,183.7 642.4,184.4 642.8,183.7 643.2,183.9 643.6,183.4 644.0,183.7 644.4,183.7 644.8,183.3 645.2,183.6 645.6,183.6 646.0,183.1 646.4,183.3 646.8,183.3 647.2,182.7 647.6,183.3 648.0,183.2 648.4,183.1 648.8,183.6 649.2,183.2 649.6,183.4 650.0,183.8 650.4,183.4 650.8,183.1 651.2,183.3 651.6,183.4 652.0,183.2 652.4,183.6 652.8,183.7 653.2,183.7 653.6,183.8 654.0,184.2 654.4,184.5 654.8,183.9 655.2,183.8 655.6,184.2 656.0,184.5 656.4,184.6 656.8,183.3 657.2,183.5 657.6,183.8 658.0,183.9 658.4,183.9 658.8,184.3 659.2,183.9 659.6,183.8 660.0,183.8 660.4,183.4 660.8,184.1 661.2,184.0 661.6,184.6 662.0,184.4 662.4,184.2 662.8,184.0 663.2,184.1 663.6,183.8 664.0,184.2 664.4,183.8 664.8,184.2 665.2,183.5 665.6,183.3 666.0,183.1 666.4,183.2 666.8,183.3 667.2,183.5 667.6,183.4 668.0,183.6 668.4,183.5 668.8,183.4 669.2,183.5 669.6,183.2 670.0,183.5 670.4,182.9 670.8,182.9 671.2,183.3 671.6,183.0 672.0,182.9 672.4,183.0 672.8,183.0 673.2,183.2 673.6,183.2 674.0,183.2 674.4,183.5 674.8,183.4 675.2,183.3 675.6,184.1 676.0,183.7 676.4,184.1 676.8,183.8 677.2,183.7 677.6,183.4 678.0,183.4 678.4,183.6 678.8,183.5 679.2,183.3 679.6,183.6 680.0,183.5 680.4,183.8 680.8,183.6 681.2,183.0 681.6,183.1 682.0,183.1 682.4,183.9 682.8,184.0 683.2,183.4 683.6,183.8 684.0,184.1 684.4,184.2 684.8,183.7 685.2,184.1 685.6,183.6 686.0,183.7 686.4,184.2 686.8,183.8 687.2,184.2 687.6,183.5 688.0,183.7 688.4,183.5 688.8,183.7 689.2,183.6 689.6,183.6 690.0,183.4 690.4,183.6 690.8,183.7 691.2,184.3 691.6,183.7 692.0,183.8 692.4,183.6 692.8,183.4 693.2,183.3 693.6,183.5 694.0,183.8 694.4,184.0 694.8,183.7 695.2,183.6 695.6,183.3 696.0,183.2 696.4,183.1 696.8,183.5 697.2,183.5 697.6,183.4 698.0,183.2 698.4,183.4 698.8,183.4 699.2,183.5 699.6,183.2 700.0,183.2 700.4,183.3 700.8,183.8 701.2,183.0 701.6,183.0 702.0,182.8 702.4,183.1 702.8,183.3 703.2,183.1 703.6,183.6 704.0,183.6 704.4,183.7 704.8,183.6 705.2,183.6 705.6,183.4 706.0,183.6 706.4,183.7 706.8,183.5 707.2,183.3 707.6,183.2 708.0,183.6 708.4,183.2 708.8,182.9 709.2,183.2 709.6,182.9 710.0,182.9 710.4,183.2 710.8,183.0 711.2,183.4 711.6,183.5 712.0,183.4 712.4,183.2 712.8,183.1 713.2,183.5 713.6,183.5 714.0,183.9 714.4,183.5 714.8,183.2 715.2,183.9 715.6,184.1 716.0,184.1 716.4,183.4 716.8,184.1 717.2,184.0 717.6,184.0 718.0,183.9 718.4,184.4 718.8,183.8 719.2,184.2 719.6,183.8 720.0,183.3 720.4,183.7 720.8,183.8 721.2,184.0 721.6,184.2 722.0,184.1 722.4,183.8 722.8,184.0 723.2,184.1 723.6,183.4 724.0,183.0 724.4,183.2 724.8,183.1 725.2,183.4 725.6,183.2 726.0,183.5 726.4,184.0 726.8,184.2 727.2,183.8 727.6,183.2 728.0,183.6 728.4,183.7 728.8,183.8 729.2,183.9 729.6,183.2 730.0,184.2 730.4,184.1 730.8,183.8 731.2,183.5 731.6,183.3 732.0,183.3 732.4,183.3 732.8,183.6 733.2,183.6 733.6,184.0 734.0,183.7 734.4,183.9 734.8,183.9 735.2,183.7 735.6,183.4 736.0,184.3 736.4,183.5 736.8,183.7 737.2,183.9 737.6,184.0 738.0,183.6 738.4,183.0 738.8,182.6 739.2,182.9 739.6,182.5 740.0,182.9 740.4,183.2 740.8,183.3 741.2,183.8 741.6,183.4 742.0,183.3 742.4,183.6 742.8,183.8 743.2,184.1 743.6,184.6 744.0,184.5 744.4,184.1 744.8,183.8 745.2,183.3 745.6,183.1 746.0,183.1 746.4,183.3 746.8,183.3 747.2,183.4 747.6,183.2 748.0,183.6 748.4,183.6 748.7,183.6 748.7,183.6"/>
<line x1="532.0" y1="203.4" x2="532.0" y2="226.0" stroke="#3a3a3a" stroke-width="1.4"/>
<line x1="528.6" y1="203.4" x2="535.6" y2="203.4" stroke="#3a3a3a" stroke-width="1.4"/>
<line x1="528.6" y1="226.0" x2="535.6" y2="226.0" stroke="#3a3a3a" stroke-width="1.4"/>
<text x="535.6" y="220.0" font-size="12.2" fill="#222" stroke="#222" stroke-width="0.28" font-weight="normal" font-style="normal" text-anchor="start" textLength="29.5" lengthAdjust="spacingAndGlyphs" >1 mV</text>
<text x="676.4" y="41.4" font-size="14.0" fill="#78d81c" stroke="#78d81c" stroke-width="0.28" font-weight="normal" font-style="normal" text-anchor="start" textLength="40.0" lengthAdjust="spacingAndGlyphs" >0.39 V</text>
<text x="676.4" y="84.9" font-size="14.0" fill="#62c52a" stroke="#62c52a" stroke-width="0.28" font-weight="normal" font-style="normal" text-anchor="start" textLength="40.0" lengthAdjust="spacingAndGlyphs" >0.09 V</text>
<text x="677.0" y="127.2" font-size="14.0" fill="#47962a" stroke="#47962a" stroke-width="0.28" font-weight="normal" font-style="normal" text-anchor="start" textLength="40.0" lengthAdjust="spacingAndGlyphs" >0.06 V</text>
<text x="672.7" y="155.8" font-size="14.0" fill="#346c26" stroke="#346c26" stroke-width="0.28" font-weight="normal" font-style="normal" text-anchor="start" textLength="44.9" lengthAdjust="spacingAndGlyphs" >-0.01 V</text>
<text x="672.7" y="202.7" font-size="14.0" fill="#2a521e" stroke="#2a521e" stroke-width="0.28" font-weight="normal" font-style="normal" text-anchor="start" textLength="44.9" lengthAdjust="spacingAndGlyphs" >-0.31 V</text>
<text x="589.9" y="249.1" font-size="15" font-weight="bold" fill="#1f8a1f" textLength="155" lengthAdjust="spacingAndGlyphs">Cu(111)/0.1 ML Ni(OH)<tspan dy="4.4" font-size="10.8">2</tspan></text>
<text x="0.5" y="323.9" font-size="19.5" fill="#000" font-weight="bold" font-style="normal" text-anchor="start" textLength="20.5" lengthAdjust="spacingAndGlyphs" >(c)</text>
<rect x="46.6" y="317.40000000000003" width="308.29999999999995" height="248.7" fill="none" stroke="#222" stroke-width="1.5"/>
<line x1="46.6" y1="566.1" x2="46.6" y2="570.8000000000001" stroke="#222" stroke-width="1.2"/>
<line x1="115.1" y1="566.1" x2="115.1" y2="570.8000000000001" stroke="#222" stroke-width="1.2"/>
<line x1="183.6" y1="566.1" x2="183.6" y2="570.8000000000001" stroke="#222" stroke-width="1.2"/>
<line x1="252.1" y1="566.1" x2="252.1" y2="570.8000000000001" stroke="#222" stroke-width="1.2"/>
<line x1="320.6" y1="566.1" x2="320.6" y2="570.8000000000001" stroke="#222" stroke-width="1.2"/>
<line x1="80.9" y1="566.1" x2="80.9" y2="568.4" stroke="#222" stroke-width="1.2"/>
<line x1="149.4" y1="566.1" x2="149.4" y2="568.4" stroke="#222" stroke-width="1.2"/>
<line x1="217.9" y1="566.1" x2="217.9" y2="568.4" stroke="#222" stroke-width="1.2"/>
<line x1="286.4" y1="566.1" x2="286.4" y2="568.4" stroke="#222" stroke-width="1.2"/>
<line x1="354.9" y1="566.1" x2="354.9" y2="568.4" stroke="#222" stroke-width="1.2"/>
<text x="46.3" y="585.0" font-size="12.8" fill="#222" stroke="#222" stroke-width="0.28" font-weight="normal" font-style="normal" text-anchor="middle" >-2</text>
<text x="115.1" y="585.0" font-size="12.8" fill="#222" stroke="#222" stroke-width="0.28" font-weight="normal" font-style="normal" text-anchor="middle" >0</text>
<text x="183.6" y="585.0" font-size="12.8" fill="#222" stroke="#222" stroke-width="0.28" font-weight="normal" font-style="normal" text-anchor="middle" >2</text>
<text x="252.1" y="585.0" font-size="12.8" fill="#222" stroke="#222" stroke-width="0.28" font-weight="normal" font-style="normal" text-anchor="middle" >4</text>
<text x="320.6" y="585.0" font-size="12.8" fill="#222" stroke="#222" stroke-width="0.28" font-weight="normal" font-style="normal" text-anchor="middle" >6</text>
<text x="180.4" y="614.8" font-size="17" fill="#222" stroke="#222" stroke-width="0.28" textLength="38.8" lengthAdjust="spacingAndGlyphs"><tspan font-style="italic">t</tspan> / μs</text>
<text transform="translate(17.6,467.0) rotate(-90)" font-size="17" fill="#222" stroke="#222" stroke-width="0.28" textLength="61" lengthAdjust="spacingAndGlyphs">Δ<tspan font-style="italic">E</tspan> / mV</text>
<polyline fill="none" stroke="#b6bff8" stroke-width="1.95" stroke-linejoin="round" points="46.6,368.0 46.6,368.1 47.0,368.5 47.4,368.4 47.8,368.5 48.2,368.3 48.6,368.7 49.0,368.8 49.4,368.8 49.8,368.7 50.2,368.5 50.6,368.4 51.0,368.1 51.4,368.1 51.8,368.5 52.2,368.5 52.6,368.2 53.0,368.1 53.4,368.2 53.8,368.2 54.2,368.0 54.6,368.2 55.0,368.2 55.4,368.5 55.8,369.0 56.2,368.8 56.6,368.5 57.0,368.4 57.4,368.3 57.8,368.3 58.2,368.2 58.6,368.6 59.0,368.3 59.4,368.4 59.8,368.5 60.2,368.0 60.6,368.1 61.0,367.8 61.4,367.8 61.8,368.3 62.2,367.9 62.6,368.0 63.0,368.1 63.4,367.9 63.8,367.8 64.2,367.5 64.6,368.2 65.0,367.6 65.4,368.1 65.8,368.1 66.2,368.4 66.6,368.1 67.0,368.2 67.4,368.0 67.8,367.8 68.2,368.0 68.6,367.6 69.0,367.5 69.4,368.7 69.8,368.4 70.2,367.9 70.6,367.9 71.0,367.6 71.4,367.7 71.8,368.2 72.2,368.4 72.6,368.5 73.0,368.5 73.4,368.4 73.8,368.5 74.2,367.6 74.6,368.3 75.0,368.2 75.4,368.6 75.8,368.5 76.2,368.3 76.6,368.3 77.0,368.2 77.4,368.1 77.8,368.4 78.2,367.9 78.6,368.0 79.0,368.5 79.4,368.3 79.8,368.2 80.2,368.0 80.6,368.6 81.0,368.5 81.4,367.8 81.8,368.2 82.2,368.1 82.6,368.3 83.0,368.6 83.4,368.1 83.8,368.4 84.2,368.6 84.6,368.0 85.0,367.6 85.4,367.5 85.8,367.5 86.2,367.5 86.6,367.6 87.0,367.7 87.4,367.6 87.8,367.2 88.2,367.4 88.6,367.6 89.0,367.0 89.4,367.2 89.8,367.8 90.2,367.9 90.6,367.6 91.0,367.4 91.4,367.7 91.8,367.7 92.2,367.7 92.6,367.7 93.0,367.4 93.4,367.6 93.8,367.5 94.2,367.7 94.6,367.8 95.0,367.8 95.4,367.6 95.8,367.8 96.2,368.0 96.6,367.6 97.0,367.9 97.4,367.6 97.8,367.6 98.2,367.6 98.6,367.1 99.0,366.8 99.4,367.3 99.8,367.1 100.2,367.1 100.6,367.6 101.0,367.8 101.4,368.2 101.8,368.3 102.2,368.2 102.6,368.1 103.0,367.6 103.4,367.7 103.8,368.1 104.2,367.3 104.6,367.8 105.0,367.5 105.4,367.4 105.8,367.9 106.2,367.7 106.6,368.0 107.0,368.0 107.4,368.1 107.8,368.4 108.2,367.7 108.6,368.2 109.0,367.9 109.4,368.1 109.8,368.1 110.2,368.5 110.6,368.7 111.0,368.0 111.4,367.9 111.8,368.1 112.2,367.7 112.6,368.1 113.0,367.6 113.4,368.0 113.8,367.7 114.2,368.4 114.6,368.2 115.0,368.1 115.4,367.7 115.8,367.6 116.2,367.7 116.6,367.7 117.0,367.7 117.4,367.3 117.8,367.4 118.2,367.7 118.3,367.6 118.6,360.3 119.0,349.9 119.4,340.0 119.4,339.8 119.8,331.1 120.0,326.8 120.2,329.2 120.6,329.1 121.0,332.3 121.4,332.3 121.8,335.9 122.1,336.2 122.2,337.2 122.6,337.2 123.0,339.8 123.4,339.9 123.8,342.3 124.2,341.7 124.6,344.3 125.0,344.0 125.3,346.1 125.4,344.9 125.8,346.8 126.2,345.7 126.6,347.0 127.0,347.2 127.4,349.2 127.8,348.6 128.2,350.0 128.6,349.4 129.0,350.9 129.4,351.1 129.6,352.7 129.8,351.7 130.2,352.6 130.6,351.5 131.0,352.7 131.4,352.0 131.8,353.1 132.2,352.0 132.6,354.3 133.0,352.8 133.4,354.3 133.8,353.2 134.2,355.2 134.6,354.7 135.0,356.0 135.4,355.6 135.8,356.9 136.2,355.9 136.6,357.3 137.0,356.7 137.4,357.0 137.8,356.4 138.2,357.1 138.6,356.5 139.0,357.5 139.4,357.2 139.8,358.5 140.2,358.0 140.3,358.7 140.6,357.5 141.0,358.4 141.4,357.5 141.8,358.2 142.2,357.8 142.6,358.8 143.0,357.7 143.4,359.1 143.8,357.8 144.2,359.2 144.6,357.9 145.0,358.3 145.4,358.5 145.8,359.0 146.2,358.6 146.6,358.9 147.0,358.9 147.4,359.1 147.8,359.2 148.2,359.0 148.6,359.4 149.0,359.1 149.4,359.2 149.8,359.3 150.2,359.4 150.6,359.4 151.0,359.3 151.4,359.7 151.8,359.7 152.2,360.0 152.6,359.9 153.0,359.7 153.4,360.2 153.8,360.1 154.2,360.3 154.6,360.7 155.0,360.3 155.4,360.4 155.8,360.0 156.2,360.1 156.6,360.1 157.0,360.7 157.3,360.8 157.4,360.7 157.8,360.7 158.2,360.9 158.6,360.6 159.0,360.4 159.4,360.4 159.8,360.6 160.2,360.7 160.6,360.8 161.0,360.2 161.4,360.0 161.8,359.6 162.2,360.0 162.6,360.0 163.0,360.4 163.4,360.2 163.8,361.1 164.2,361.1 164.6,360.8 165.0,361.6 165.4,361.8 165.8,361.1 166.2,361.5 166.6,361.0 167.0,360.7 167.4,361.0 167.8,360.9 168.2,361.0 168.6,361.6 169.0,361.6 169.4,361.8 169.8,361.9 170.2,361.2 170.6,361.9 171.0,360.5 171.4,361.4 171.8,361.2 172.2,361.7 172.6,361.7 173.0,362.1 173.4,362.0 173.8,362.1 174.2,361.8 174.6,361.9 175.0,362.2 175.4,362.7 175.8,362.1 176.2,362.5 176.6,362.1 177.0,361.9 177.4,362.2 177.8,361.6 178.2,362.3 178.6,362.5 179.0,362.2 179.4,361.8 179.8,361.6 180.2,361.8 180.6,362.1 181.0,361.9 181.4,361.9 181.8,362.2 182.2,361.7 182.6,361.9 183.0,362.6 183.4,362.7 183.8,362.4 184.2,361.7 184.6,361.6 185.0,361.5 185.4,362.2 185.8,362.7 186.2,362.2 186.6,362.5 187.0,362.0 187.4,362.2 187.8,361.7 188.2,361.8 188.6,362.1 189.0,361.3 189.4,361.8 189.8,362.1 190.2,361.9 190.6,361.4 191.0,362.1 191.4,361.8 191.8,362.0 192.2,362.1 192.6,362.3 193.0,362.0 193.4,361.8 193.8,362.3 194.2,361.7 194.6,361.9 195.0,361.8 195.4,361.7 195.8,361.7 196.2,362.5 196.6,362.4 197.0,363.2 197.4,362.8 197.8,363.2 198.2,362.9 198.6,362.5 199.0,362.5 199.4,362.9 199.8,363.2 200.0,362.9 200.2,362.5 200.6,363.1 201.0,363.1 201.4,362.8 201.8,362.6 202.2,362.5 202.6,362.4 203.0,362.7 203.4,362.6 203.8,362.5 204.2,362.9 204.6,363.2 205.0,362.9 205.4,363.2 205.8,362.6 206.2,363.0 206.6,362.9 207.0,362.8 207.4,362.7 207.8,363.7 208.2,362.9 208.6,363.1 209.0,362.8 209.4,362.6 209.8,363.1 210.2,363.3 210.6,362.8 211.0,362.8 211.4,362.6 211.8,362.5 212.2,362.4 212.6,362.5 213.0,362.0 213.4,362.3 213.8,362.0 214.2,362.7 214.6,362.0 215.0,362.5 215.4,363.0 215.8,363.1 216.2,363.1 216.6,362.7 217.0,362.2 217.4,362.5 217.8,362.2 218.2,362.4 218.6,362.6 219.0,362.5 219.4,362.6 219.8,362.8 220.2,362.6 220.6,363.3 221.0,363.3 221.4,363.6 221.8,363.1 222.2,363.4 222.6,362.7 223.0,362.8 223.4,363.0 223.8,362.8 224.2,363.0 224.6,363.7 225.0,363.4 225.4,363.6 225.8,363.4 226.2,363.9 226.6,363.3 227.0,363.1 227.4,362.9 227.8,363.5 228.2,363.2 228.6,363.3 229.0,363.2 229.4,363.5 229.8,363.7 230.2,363.4 230.6,363.8 231.0,363.7 231.4,363.3 231.8,363.7 232.2,363.3 232.6,363.7 233.0,363.7 233.4,363.7 233.8,363.5 234.2,363.6 234.6,363.4 235.0,363.6 235.4,362.9 235.8,363.2 236.2,363.2 236.6,363.4 237.0,363.4 237.4,363.5 237.8,363.6 238.2,363.8 238.6,363.4 239.0,363.4 239.4,363.5 239.8,363.9 240.2,363.2 240.6,363.7 241.0,364.0 241.4,364.1 241.8,363.8 242.2,363.4 242.6,363.4 243.0,363.6 243.4,363.2 243.8,363.2 244.2,362.9 244.6,363.0 245.0,362.5 245.4,362.7 245.8,362.8 246.2,362.4 246.6,362.6 247.0,362.7 247.4,362.7 247.8,362.9 248.2,363.5 248.6,363.7 249.0,364.1 249.4,364.1 249.8,363.9 250.2,363.4 250.6,363.8 251.0,363.6 251.4,363.4 251.8,363.4 252.2,363.5 252.6,363.9 253.0,363.6 253.4,363.7 253.8,363.5 254.2,363.1 254.6,363.5 255.0,363.9 255.4,364.1 255.8,363.7 256.2,363.5 256.6,362.9 257.0,363.0 257.4,363.3 257.8,363.0 258.2,363.3 258.6,363.5 259.0,363.1 259.4,363.3 259.8,363.1 260.2,362.9 260.6,363.2 261.0,363.1 261.4,363.4 261.8,363.1 262.2,362.8 262.6,363.9 263.0,363.9 263.4,364.4 263.8,364.5 264.2,364.3 264.6,364.3 265.0,364.2 265.4,363.7 265.8,364.8 266.2,364.5 266.6,364.4 267.0,364.1 267.4,364.0 267.8,364.4 268.2,364.6 268.6,365.0 269.0,364.1 269.4,364.0 269.8,364.3 270.2,364.1 270.6,363.6 271.0,363.9 271.4,363.7 271.8,363.8 272.2,363.5 272.6,363.8 273.0,363.8 273.4,363.1 273.8,363.1 274.2,363.2 274.6,363.2 275.0,363.3 275.4,363.5 275.8,363.6 276.2,363.5 276.6,363.3 277.0,362.8 277.4,362.8 277.8,363.5 278.2,363.8 278.6,363.2 279.0,363.5 279.4,363.5 279.8,363.9 280.2,363.5 280.6,363.3 281.0,363.9 281.4,363.7 281.8,363.9 282.2,363.7 282.6,363.4 283.0,363.3 283.4,363.5 283.8,363.7 284.2,363.6 284.6,363.5 285.0,363.3 285.4,363.9 285.8,363.6 286.2,363.5 286.6,363.7 287.0,364.2 287.4,364.8 287.8,364.7 288.2,365.2 288.6,365.3 289.0,365.2 289.4,365.0 289.8,364.9 290.2,364.6 290.6,364.6 291.0,364.6 291.4,364.7 291.8,364.4 292.2,364.0 292.6,364.1 293.0,363.9 293.4,363.6 293.8,363.9 294.2,363.9 294.6,363.8 295.0,363.9 295.4,364.1 295.8,363.5 296.2,362.9 296.6,363.6 297.0,363.6 297.4,363.8 297.8,363.7 298.2,363.6 298.6,364.2 299.0,363.9 299.4,364.2 299.8,364.3 300.2,364.2 300.6,364.6 301.0,364.2 301.4,364.0 301.8,363.9 302.2,363.7 302.6,363.8 303.0,363.7 303.4,363.5 303.8,362.9 304.2,363.4 304.6,363.6 305.0,364.2 305.4,364.2 305.8,364.4 306.2,364.1 306.6,364.2 307.0,364.0 307.4,364.1 307.8,363.6 308.2,363.8 308.6,364.1 309.0,363.7 309.4,363.7 309.8,364.0 310.2,364.0 310.6,364.2 311.0,363.5 311.4,363.9 311.8,364.3 312.2,364.1 312.6,364.2 313.0,363.8 313.4,363.5 313.8,363.9 314.2,363.9 314.6,363.7 315.0,363.8 315.4,363.9 315.8,363.6 316.2,364.0 316.6,363.7 317.0,363.7 317.4,363.7 317.8,363.7 318.2,363.8 318.6,363.9 319.0,364.2 319.4,364.0 319.8,364.1 320.2,364.2 320.6,363.8 321.0,364.2 321.4,364.6 321.8,364.5 322.2,364.4 322.6,364.4 323.0,364.2 323.4,364.4 323.8,364.5 324.2,364.3 324.6,364.4 325.0,364.6 325.4,364.6 325.8,364.0 326.2,364.5 326.6,364.6 327.0,365.0 327.4,364.4 327.8,364.5 328.2,364.4 328.6,364.6 329.0,364.2 329.4,364.2 329.8,364.3 330.2,364.6 330.6,364.8 331.0,365.3 331.4,364.7 331.8,364.8 332.2,365.3 332.6,365.0 333.0,365.0 333.4,364.7 333.8,364.4 334.2,365.1 334.6,364.7 335.0,364.6 335.4,365.3 335.8,365.0 336.2,364.6 336.6,364.6 337.0,364.6 337.4,364.6 337.8,365.0 338.2,365.3 338.6,365.1 339.0,365.5 339.4,365.7 339.8,365.8 340.2,365.3 340.6,365.3 341.0,365.6 341.4,364.8 341.8,364.9 342.2,365.2 342.6,364.8 343.0,365.4 343.4,365.3 343.8,365.4 344.2,365.4 344.6,365.0 345.0,365.2 345.4,365.1 345.8,364.3 346.2,364.8 346.6,364.8 347.0,365.0 347.4,365.2 347.8,364.9 348.2,364.9 348.6,364.4 349.0,365.0 349.4,365.4 349.8,365.3 350.2,365.6 350.6,365.6 351.0,365.3 351.4,365.2 351.8,364.8 352.2,365.2 352.6,365.0 353.0,364.8 353.4,365.1 353.8,364.9 354.2,364.5 354.6,365.3 354.9,365.2 354.9,364.7"/><polygon fill="#b6bff8" opacity="0.9" points="119.7,331.8 120.3,334.3 120.7,336.9 121.3,338.6 122.1,339.8 122.6,341.2 123.0,342.5 123.5,343.8 124.2,345.1 124.6,346.4 125.2,347.2 125.8,347.8 126.4,348.5 127.0,349.2 127.6,349.9 128.0,350.7 128.5,351.4 129.2,352.1 129.8,352.6 130.3,352.9 130.8,353.1 131.2,352.4 130.7,352.1 130.2,351.9 129.8,351.6 129.5,350.8 129.0,350.0 128.4,349.3 128.0,348.5 127.6,347.7 127.2,346.9 126.8,346.1 126.4,345.4 125.8,344.5 125.5,343.1 125.0,341.8 124.4,340.5 123.9,339.1 123.7,337.7 123.3,336.3 122.7,333.8 122.3,331.2"/>
<polyline fill="none" stroke="#8a96f2" stroke-width="1.95" stroke-linejoin="round" points="46.6,428.9 46.6,429.2 47.0,429.1 47.4,429.0 47.8,429.1 48.2,429.0 48.6,429.4 49.0,429.0 49.4,428.8 49.8,428.5 50.2,429.0 50.6,429.4 51.0,429.2 51.4,429.1 51.8,429.0 52.2,429.3 52.6,429.4 53.0,429.4 53.4,429.2 53.8,428.9 54.2,429.0 54.6,429.3 55.0,429.3 55.4,429.1 55.8,429.7 56.2,429.7 56.6,429.5 57.0,428.5 57.4,428.2 57.8,428.4 58.2,428.6 58.6,428.5 59.0,428.6 59.4,428.5 59.8,428.6 60.2,428.3 60.6,428.1 61.0,428.3 61.4,428.3 61.8,428.8 62.2,428.6 62.6,429.0 63.0,428.6 63.4,428.0 63.8,428.1 64.2,428.3 64.6,428.8 65.0,429.1 65.4,429.2 65.8,429.2 66.2,429.5 66.6,429.3 67.0,429.3 67.4,428.8 67.8,429.1 68.2,428.9 68.6,429.1 69.0,428.6 69.4,428.5 69.8,429.1 70.2,428.8 70.6,429.1 71.0,429.4 71.4,429.7 71.8,429.8 72.2,429.5 72.6,428.7 73.0,429.1 73.4,428.8 73.8,428.7 74.2,428.3 74.6,428.8 75.0,429.0 75.4,428.5 75.8,428.5 76.2,428.8 76.6,428.7 77.0,429.1 77.4,428.9 77.8,429.3 78.2,429.2 78.6,429.5 79.0,428.9 79.4,429.0 79.8,429.3 80.2,429.4 80.6,429.1 81.0,429.0 81.4,429.5 81.8,429.4 82.2,428.6 82.6,428.9 83.0,428.4 83.4,428.6 83.8,428.6 84.2,428.0 84.6,428.2 85.0,427.9 85.4,428.9 85.8,428.7 86.2,429.0 86.6,428.9 87.0,429.4 87.4,429.1 87.8,428.8 88.2,428.7 88.6,428.6 89.0,428.6 89.4,427.9 89.8,428.1 90.2,427.7 90.6,428.5 91.0,428.2 91.4,428.1 91.8,428.4 92.2,428.6 92.6,428.6 93.0,428.5 93.4,429.1 93.8,429.0 94.2,428.7 94.6,429.1 95.0,429.2 95.4,428.8 95.8,429.0 96.2,429.0 96.6,429.0 97.0,428.8 97.4,429.0 97.8,429.0 98.2,429.1 98.6,428.5 99.0,428.7 99.4,428.4 99.8,428.9 100.2,428.9 100.6,428.3 101.0,428.5 101.4,429.0 101.8,428.5 102.2,429.1 102.6,429.0 103.0,429.1 103.4,429.0 103.8,429.0 104.2,429.1 104.6,428.9 105.0,428.9 105.4,428.4 105.8,428.6 106.2,428.8 106.6,428.9 107.0,429.2 107.4,429.3 107.8,429.7 108.2,429.6 108.6,429.5 109.0,430.0 109.4,429.7 109.8,428.9 110.2,429.3 110.6,429.5 111.0,429.2 111.4,429.5 111.8,429.5 112.2,428.8 112.6,429.2 113.0,428.5 113.4,428.3 113.8,429.1 114.2,428.8 114.6,428.7 115.0,428.5 115.4,428.4 115.8,428.5 116.2,428.9 116.6,428.6 117.0,429.2 117.4,429.0 117.8,429.0 118.2,428.6 118.3,428.3 118.6,413.9 119.0,394.7 119.4,376.2 119.4,376.6 119.8,376.9 120.2,375.1 120.4,377.1 120.6,375.4 121.0,381.4 121.4,382.6 121.8,389.1 122.1,389.3 122.2,391.3 122.6,390.9 123.0,394.0 123.4,393.7 123.8,396.7 124.2,396.4 124.6,400.2 125.0,399.8 125.3,402.3 125.4,401.5 125.8,403.4 126.2,402.6 126.6,404.5 127.0,403.3 127.4,405.4 127.8,405.7 128.2,408.1 128.6,407.2 129.0,408.6 129.4,408.5 129.6,409.9 129.8,408.2 130.2,409.6 130.6,409.8 131.0,410.8 131.4,410.1 131.8,411.5 132.2,409.6 132.6,412.1 133.0,411.0 133.4,412.9 133.8,412.3 134.2,413.6 134.6,412.8 135.0,414.6 135.4,412.9 135.8,414.3 136.0,413.4 136.2,414.7 136.6,413.7 137.0,414.7 137.4,414.0 137.8,414.7 138.2,414.1 138.6,415.2 139.0,414.4 139.4,415.6 139.8,414.4 140.2,415.0 140.6,414.7 141.0,415.6 141.4,415.0 141.8,414.9 142.2,415.1 142.6,415.9 143.0,414.9 143.4,416.0 143.8,415.4 144.2,416.2 144.6,415.8 145.0,415.8 145.4,415.7 145.8,415.7 146.2,415.8 146.6,416.1 147.0,416.0 147.4,416.2 147.8,416.3 148.2,416.4 148.6,417.1 149.0,417.6 149.4,417.9 149.8,417.7 150.2,417.6 150.6,417.6 151.0,417.2 151.4,417.4 151.8,417.5 152.2,417.3 152.6,417.2 153.0,416.8 153.4,417.1 153.8,416.8 154.2,417.1 154.6,417.5 155.0,417.8 155.4,417.8 155.8,417.9 156.2,418.6 156.6,418.8 157.0,418.9 157.3,418.3 157.4,418.3 157.8,418.6 158.2,418.3 158.6,418.3 159.0,418.2 159.4,418.3 159.8,418.3 160.2,418.6 160.6,418.8 161.0,418.6 161.4,418.7 161.8,418.6 162.2,418.4 162.6,419.3 163.0,419.2 163.4,419.4 163.8,419.2 164.2,419.1 164.6,418.9 165.0,418.6 165.4,419.0 165.8,419.3 166.2,419.4 166.6,419.6 167.0,419.1 167.4,419.3 167.8,418.9 168.2,419.1 168.6,419.1 169.0,418.7 169.4,418.5 169.8,418.4 170.2,418.5 170.6,419.0 171.0,419.5 171.4,419.3 171.8,419.4 172.2,419.2 172.6,419.0 173.0,418.9 173.4,419.3 173.8,419.3 174.2,419.1 174.6,419.4 175.0,419.7 175.4,419.3 175.8,419.6 176.2,420.0 176.6,420.0 177.0,419.8 177.4,419.6 177.8,418.9 178.2,419.3 178.6,419.9 179.0,420.3 179.4,420.0 179.8,420.6 180.2,420.0 180.6,420.0 181.0,420.0 181.4,419.6 181.8,420.0 182.2,419.7 182.6,420.1 183.0,419.8 183.4,420.2 183.8,419.9 184.2,420.3 184.6,420.5 185.0,420.5 185.4,420.7 185.8,420.7 186.2,420.8 186.6,420.5 187.0,420.3 187.4,420.9 187.8,420.4 188.2,420.8 188.6,420.1 189.0,420.5 189.4,420.3 189.8,420.1 190.2,419.6 190.6,419.5 191.0,419.9 191.4,420.0 191.8,419.7 192.2,420.2 192.6,420.6 193.0,420.4 193.4,420.8 193.8,420.9 194.2,420.3 194.6,420.7 195.0,420.9 195.4,420.6 195.8,420.3 196.2,420.0 196.6,420.6 197.0,420.7 197.4,420.5 197.8,421.0 198.2,421.0 198.6,420.5 199.0,421.0 199.4,421.3 199.8,421.3 200.0,421.6 200.2,421.6 200.6,420.9 201.0,421.1 201.4,421.0 201.8,421.3 202.2,421.0 202.6,420.9 203.0,421.4 203.4,421.6 203.8,421.6 204.2,420.9 204.6,420.7 205.0,420.7 205.4,421.3 205.8,421.4 206.2,421.2 206.6,421.4 207.0,421.5 207.4,421.7 207.8,421.6 208.2,421.6 208.6,421.1 209.0,420.9 209.4,421.2 209.8,421.1 210.2,421.1 210.6,420.6 211.0,421.2 211.4,421.0 211.8,420.2 212.2,420.6 212.6,420.5 213.0,421.0 213.4,420.9 213.8,420.9 214.2,421.3 214.6,421.2 215.0,421.0 215.4,421.3 215.8,421.2 216.2,421.4 216.6,421.6 217.0,421.2 217.4,421.8 217.8,421.4 218.2,421.4 218.6,421.5 219.0,421.0 219.4,420.5 219.8,420.6 220.2,420.9 220.6,420.9 221.0,421.1 221.4,421.4 221.8,421.0 222.2,421.1 222.6,421.8 223.0,422.2 223.4,422.2 223.8,422.8 224.2,422.5 224.6,422.3 225.0,422.0 225.4,421.8 225.8,421.5 226.2,421.9 226.6,421.6 227.0,421.3 227.4,421.6 227.8,421.6 228.2,421.7 228.6,421.8 229.0,421.8 229.4,421.9 229.8,422.3 230.2,422.3 230.6,421.7 231.0,421.8 231.4,421.3 231.8,421.8 232.2,421.7 232.6,421.5 233.0,421.5 233.4,421.6 233.8,422.2 234.2,421.7 234.6,421.6 235.0,422.0 235.4,422.0 235.8,421.3 236.2,421.2 236.6,421.6 237.0,421.9 237.4,422.2 237.8,421.8 238.2,422.0 238.6,421.8 239.0,421.5 239.4,421.6 239.8,421.6 240.2,421.3 240.6,421.2 241.0,421.7 241.4,421.5 241.8,421.2 242.2,420.9 242.6,421.2 243.0,421.4 243.4,420.8 243.8,421.0 244.2,421.2 244.6,420.7 245.0,420.6 245.4,421.3 245.8,421.5 246.2,421.4 246.6,421.8 247.0,421.4 247.4,421.9 247.8,422.1 248.2,422.0 248.6,422.5 249.0,422.3 249.4,422.4 249.8,421.9 250.2,421.6 250.6,421.5 251.0,421.7 251.4,422.2 251.8,422.5 252.2,422.5 252.6,423.1 253.0,422.3 253.4,422.1 253.8,422.4 254.2,422.1 254.6,421.4 255.0,421.8 255.4,421.4 255.8,421.3 256.2,421.3 256.6,421.5 257.0,421.5 257.4,421.7 257.8,421.9 258.2,421.8 258.6,421.7 259.0,421.7 259.4,422.1 259.8,422.2 260.2,422.1 260.6,422.5 261.0,421.9 261.4,422.2 261.8,422.3 262.2,421.6 262.6,422.1 263.0,421.9 263.4,422.2 263.8,422.2 264.2,422.0 264.6,421.1 265.0,421.8 265.4,422.2 265.8,422.0 266.2,422.3 266.6,421.8 267.0,422.6 267.4,422.3 267.8,422.9 268.2,423.3 268.6,423.0 269.0,422.5 269.4,422.1 269.8,421.8 270.2,422.0 270.6,422.0 271.0,422.1 271.4,421.7 271.8,422.1 272.2,421.7 272.6,422.1 273.0,422.3 273.4,422.8 273.8,422.6 274.2,423.0 274.6,423.0 275.0,422.6 275.4,423.4 275.8,423.0 276.2,423.2 276.6,422.8 277.0,423.3 277.4,423.3 277.8,422.9 278.2,423.2 278.6,422.7 279.0,423.1 279.4,422.9 279.8,423.0 280.2,422.2 280.6,422.7 281.0,422.3 281.4,422.4 281.8,422.3 282.2,422.8 282.6,423.1 283.0,422.7 283.4,422.6 283.8,422.8 284.2,422.7 284.6,422.6 285.0,422.4 285.4,422.9 285.8,423.4 286.2,423.4 286.6,423.3 287.0,423.5 287.4,423.4 287.8,423.1 288.2,423.6 288.6,423.4 289.0,423.4 289.4,423.4 289.8,423.8 290.2,423.6 290.6,423.1 291.0,423.3 291.4,422.8 291.8,422.7 292.2,422.3 292.6,422.9 293.0,422.2 293.4,422.2 293.8,422.5 294.2,422.9 294.6,422.9 295.0,422.7 295.4,423.2 295.8,423.4 296.2,423.3 296.6,422.4 297.0,423.0 297.4,422.7 297.8,422.7 298.2,422.8 298.6,422.0 299.0,422.4 299.4,422.6 299.8,422.5 300.2,423.0 300.6,423.0 301.0,423.3 301.4,423.7 301.8,423.3 302.2,423.3 302.6,423.5 303.0,423.1 303.4,423.2 303.8,423.3 304.2,423.4 304.6,423.2 305.0,423.2 305.4,423.3 305.8,422.9 306.2,422.8 306.6,422.9 307.0,422.4 307.4,422.4 307.8,422.2 308.2,423.0 308.6,422.9 309.0,423.0 309.4,423.0 309.8,422.7 310.2,422.9 310.6,422.7 311.0,423.3 311.4,423.1 311.8,423.1 312.2,423.1 312.6,423.1 313.0,423.1 313.4,423.8 313.8,423.6 314.2,424.0 314.6,424.1 315.0,424.0 315.4,423.8 315.8,423.4 316.2,423.0 316.6,423.6 317.0,423.9 317.4,424.1 317.8,424.0 318.2,424.2 318.6,423.9 319.0,423.8 319.4,423.1 319.8,423.3 320.2,423.5 320.6,423.2 321.0,424.0 321.4,423.5 321.8,423.7 322.2,423.9 322.6,424.1 323.0,423.5 323.4,423.4 323.8,423.1 324.2,422.6 324.6,423.2 325.0,423.3 325.4,423.4 325.8,423.3 326.2,423.5 326.6,423.6 327.0,424.2 327.4,423.8 327.8,423.8 328.2,424.2 328.6,424.3 329.0,424.5 329.4,424.2 329.8,424.6 330.2,424.8 330.6,424.4 331.0,424.3 331.4,423.9 331.8,424.2 332.2,423.9 332.6,424.1 333.0,424.3 333.4,424.1 333.8,424.0 334.2,424.4 334.6,424.0 335.0,424.1 335.4,423.7 335.8,424.0 336.2,423.2 336.6,423.5 337.0,423.6 337.4,423.9 337.8,423.7 338.2,423.9 338.6,424.0 339.0,423.8 339.4,423.5 339.8,423.4 340.2,423.0 340.6,423.8 341.0,423.3 341.4,423.7 341.8,423.9 342.2,424.0 342.6,424.0 343.0,423.8 343.4,424.0 343.8,424.1 344.2,423.8 344.6,424.2 345.0,424.3 345.4,423.3 345.8,424.3 346.2,423.9 346.6,424.0 347.0,424.1 347.4,424.2 347.8,423.8 348.2,424.1 348.6,423.4 349.0,423.8 349.4,424.2 349.8,424.1 350.2,424.4 350.6,424.2 351.0,424.3 351.4,424.0 351.8,424.0 352.2,423.7 352.6,423.6 353.0,423.7 353.4,423.8 353.8,423.6 354.2,423.7 354.6,424.0 354.9,424.2 354.9,424.5"/><polygon fill="#8a96f2" opacity="0.9" points="118.7,377.1 119.5,381.2 120.0,385.5 120.4,389.8 121.3,392.1 121.5,393.8 122.4,395.4 122.7,397.1 123.3,398.7 123.7,400.4 124.6,401.8 125.2,402.8 125.6,403.9 126.2,404.8 126.8,405.8 127.3,406.8 127.7,407.8 128.3,408.7 129.0,409.7 129.6,410.4 130.2,410.6 130.8,410.9 131.2,410.2 130.8,409.8 130.4,409.3 130.0,409.1 129.7,408.1 129.3,407.0 128.7,406.0 128.2,405.0 127.8,404.0 127.4,402.9 126.8,402.0 126.4,401.0 126.3,399.6 125.7,398.0 125.3,396.3 124.6,394.7 124.5,392.9 123.7,391.3 123.6,389.3 123.0,385.1 122.5,380.8 122.3,376.4"/>
<polyline fill="none" stroke="#6373ee" stroke-width="1.95" stroke-linejoin="round" points="46.6,437.8 46.6,437.5 47.0,438.0 47.4,438.2 47.8,437.9 48.2,437.8 48.6,437.7 49.0,438.3 49.4,438.5 49.8,438.1 50.2,437.9 50.6,437.8 51.0,438.0 51.4,437.7 51.8,437.7 52.2,437.6 52.6,437.3 53.0,437.3 53.4,437.2 53.8,437.6 54.2,437.3 54.6,437.1 55.0,436.9 55.4,436.8 55.8,437.3 56.2,437.1 56.6,436.8 57.0,436.8 57.4,436.8 57.8,436.9 58.2,437.1 58.6,437.2 59.0,437.6 59.4,437.5 59.8,437.3 60.2,437.3 60.6,436.4 61.0,437.1 61.4,437.6 61.8,437.4 62.2,437.2 62.6,437.3 63.0,437.2 63.4,437.1 63.8,436.9 64.2,437.1 64.6,436.8 65.0,436.9 65.4,437.9 65.8,437.6 66.2,437.5 66.6,437.5 67.0,437.1 67.4,437.2 67.8,437.4 68.2,437.2 68.6,437.5 69.0,437.5 69.4,437.9 69.8,437.6 70.2,437.5 70.6,437.5 71.0,438.0 71.4,437.7 71.8,438.2 72.2,438.2 72.6,438.6 73.0,438.2 73.4,438.1 73.8,438.0 74.2,437.9 74.6,437.5 75.0,437.7 75.4,437.7 75.8,437.9 76.2,437.4 76.6,437.8 77.0,437.9 77.4,437.7 77.8,437.5 78.2,438.1 78.6,437.9 79.0,438.2 79.4,438.1 79.8,438.1 80.2,437.7 80.6,437.5 81.0,437.8 81.4,437.7 81.8,437.4 82.2,437.4 82.6,437.8 83.0,437.5 83.4,437.7 83.8,437.9 84.2,437.9 84.6,438.5 85.0,438.1 85.4,437.9 85.8,437.8 86.2,437.5 86.6,437.6 87.0,437.2 87.4,437.6 87.8,437.4 88.2,437.5 88.6,437.8 89.0,437.7 89.4,437.2 89.8,438.4 90.2,437.9 90.6,437.2 91.0,437.6 91.4,437.4 91.8,437.9 92.2,438.5 92.6,438.3 93.0,438.6 93.4,438.4 93.8,438.2 94.2,437.7 94.6,437.7 95.0,437.8 95.4,437.9 95.8,437.4 96.2,438.1 96.6,437.8 97.0,438.1 97.4,437.3 97.8,437.6 98.2,437.5 98.6,437.8 99.0,437.4 99.4,437.8 99.8,437.5 100.2,437.7 100.6,437.6 101.0,437.4 101.4,437.3 101.8,437.1 102.2,437.3 102.6,437.0 103.0,437.3 103.4,437.6 103.8,437.6 104.2,437.3 104.6,437.8 105.0,437.9 105.4,437.5 105.8,437.9 106.2,437.9 106.6,437.7 107.0,436.9 107.4,437.0 107.8,436.9 108.2,436.9 108.6,437.6 109.0,437.5 109.4,437.5 109.8,437.4 110.2,437.5 110.6,438.1 111.0,437.7 111.4,437.6 111.8,437.6 112.2,437.8 112.6,437.3 113.0,437.3 113.4,438.0 113.8,438.1 114.2,438.0 114.6,437.6 115.0,438.0 115.4,437.5 115.8,437.7 116.2,437.7 116.6,437.6 117.0,438.0 117.4,438.0 117.8,437.8 118.2,438.4 118.4,438.4 118.6,449.9 118.8,462.3 119.0,461.4 119.4,459.5 119.8,458.7 120.2,454.8 120.6,454.7 121.0,450.9 121.0,452.1 121.4,449.9 121.8,451.3 122.2,449.9 122.6,450.9 123.0,448.3 123.3,449.5 123.4,447.9 123.8,449.5 124.2,447.0 124.6,448.3 125.0,445.9 125.4,448.0 125.8,446.0 126.2,447.2 126.6,445.6 127.0,447.7 127.4,445.8 127.8,446.5 128.0,445.4 128.2,446.6 128.6,445.0 129.0,446.5 129.4,444.7 129.8,445.9 130.2,443.7 130.6,445.0 131.0,443.8 131.4,444.8 131.8,443.3 132.2,444.2 132.6,443.3 133.0,444.4 133.4,443.0 133.8,444.2 134.2,443.6 134.5,444.6 134.6,442.8 135.0,444.3 135.4,443.1 135.8,444.2 136.2,443.3 136.6,444.5 137.0,442.9 137.4,444.0 137.8,443.2 138.2,443.9 138.6,442.2 139.0,443.3 139.4,442.6 139.8,443.2 140.2,442.7 140.6,443.6 141.0,442.7 141.4,443.4 141.8,443.0 142.2,443.4 142.6,442.1 143.0,443.5 143.4,442.8 143.8,443.6 144.2,442.6 144.6,443.4 145.0,442.5 145.4,443.2 145.8,442.0 146.2,443.1 146.6,442.5 147.0,442.9 147.4,442.2 147.8,443.8 148.2,442.6 148.6,443.0 149.0,442.6 149.4,443.1 149.8,442.9 150.2,442.7 150.6,442.4 151.0,442.4 151.4,442.6 151.8,441.8 152.2,441.5 152.6,442.0 153.0,442.2 153.4,442.3 153.8,442.0 154.2,441.9 154.6,441.3 155.0,441.3 155.4,441.9 155.8,442.2 156.2,442.3 156.6,442.2 157.0,442.1 157.4,441.8 157.8,441.4 158.2,441.5 158.6,441.7 159.0,441.4 159.4,441.5 159.8,441.9 160.0,442.0 160.2,441.4 160.6,441.2 161.0,441.7 161.4,441.5 161.8,441.4 162.2,441.4 162.6,441.3 163.0,441.3 163.4,441.6 163.8,441.6 164.2,441.4 164.6,441.9 165.0,441.6 165.4,441.8 165.8,441.8 166.2,441.5 166.6,440.9 167.0,440.8 167.4,440.4 167.8,441.4 168.2,441.5 168.6,442.1 169.0,441.7 169.4,441.7 169.8,441.2 170.2,441.3 170.6,441.2 171.0,441.1 171.4,441.3 171.8,441.2 172.2,441.0 172.6,440.8 173.0,440.6 173.4,440.6 173.8,440.5 174.2,440.5 174.6,440.6 175.0,441.0 175.4,441.2 175.8,441.5 176.2,441.3 176.6,441.4 177.0,440.7 177.4,441.4 177.8,441.0 178.2,440.2 178.6,441.1 179.0,440.5 179.4,440.6 179.8,440.6 180.2,441.1 180.6,441.0 181.0,441.1 181.4,441.4 181.8,441.5 182.2,441.6 182.6,441.4 183.0,441.5 183.4,441.4 183.8,441.3 184.2,441.3 184.6,440.9 185.0,440.5 185.4,440.8 185.8,440.7 186.2,440.2 186.6,440.5 187.0,440.8 187.4,440.7 187.8,440.3 188.2,439.6 188.6,440.1 189.0,440.2 189.4,440.2 189.8,440.2 190.2,440.5 190.6,441.2 191.0,441.0 191.4,441.2 191.8,440.9 192.2,440.5 192.6,440.8 193.0,440.8 193.4,440.8 193.8,440.7 194.2,440.5 194.6,440.3 195.0,440.6 195.4,440.7 195.8,440.4 196.2,440.0 196.6,440.3 197.0,440.1 197.4,440.0 197.8,440.3 198.2,440.1 198.6,440.6 199.0,440.6 199.4,440.3 199.8,440.3 200.0,440.1 200.2,440.6 200.6,441.1 201.0,440.9 201.4,440.9 201.8,440.5 202.2,440.0 202.6,440.7 203.0,440.1 203.4,440.0 203.8,439.7 204.2,439.6 204.6,440.2 205.0,440.2 205.4,440.1 205.8,440.1 206.2,440.2 206.6,440.9 207.0,440.5 207.4,440.5 207.8,440.9 208.2,440.4 208.6,439.9 209.0,439.9 209.4,440.3 209.8,440.2 210.2,439.8 210.6,440.0 211.0,439.2 211.4,440.0 211.8,439.7 212.2,439.9 212.6,440.4 213.0,440.4 213.4,440.3 213.8,440.4 214.2,440.2 214.6,440.1 215.0,439.9 215.4,439.6 215.8,439.5 216.2,439.1 216.6,439.8 217.0,439.5 217.4,440.1 217.8,439.5 218.2,439.5 218.6,439.1 219.0,439.6 219.4,439.8 219.8,439.9 220.2,440.2 220.6,439.9 221.0,440.2 221.4,440.3 221.8,440.7 222.2,440.4 222.6,441.0 223.0,440.2 223.4,440.2 223.8,440.3 224.2,440.4 224.6,440.2 225.0,440.2 225.4,440.9 225.8,441.2 226.2,440.9 226.6,440.8 227.0,440.9 227.4,440.6 227.8,440.5 228.2,440.0 228.6,440.5 229.0,440.6 229.4,440.2 229.8,440.3 230.2,439.9 230.6,440.5 231.0,440.4 231.4,439.9 231.8,440.5 232.2,440.5 232.6,439.7 233.0,440.8 233.4,440.5 233.8,440.4 234.2,440.0 234.6,439.9 235.0,439.8 235.4,440.3 235.8,440.6 236.2,440.7 236.6,440.8 237.0,441.1 237.4,441.1 237.8,440.9 238.2,441.2 238.6,441.1 239.0,441.5 239.4,441.0 239.8,440.6 240.2,441.5 240.6,441.5 241.0,441.2 241.4,440.8 241.8,440.9 242.2,440.6 242.6,440.5 243.0,440.2 243.4,440.1 243.8,440.1 244.2,440.5 244.6,440.4 245.0,440.1 245.4,440.1 245.8,439.9 246.2,440.0 246.6,440.3 247.0,440.6 247.4,440.6 247.8,440.3 248.2,440.8 248.6,440.7 249.0,441.0 249.4,440.4 249.8,440.1 250.2,440.0 250.6,440.4 251.0,440.6 251.4,440.0 251.8,440.3 252.2,439.9 252.6,440.5 253.0,440.2 253.4,440.4 253.8,440.5 254.2,440.2 254.6,439.6 255.0,440.0 255.4,440.2 255.8,440.2 256.2,440.4 256.6,440.9 257.0,440.5 257.4,440.7 257.8,440.3 258.2,439.8 258.6,439.8 259.0,440.0 259.4,440.6 259.8,440.3 260.2,440.3 260.6,439.4 261.0,439.5 261.4,439.4 261.8,439.0 262.2,439.6 262.6,439.5 263.0,439.4 263.4,439.5 263.8,439.6 264.2,439.4 264.6,439.7 265.0,439.4 265.4,439.6 265.8,440.2 266.2,440.3 266.6,439.8 267.0,439.8 267.4,440.2 267.8,440.1 268.2,440.0 268.6,440.3 269.0,440.7 269.4,440.5 269.8,440.6 270.2,440.4 270.6,440.8 271.0,440.2 271.4,440.3 271.8,440.1 272.2,439.7 272.6,439.3 273.0,439.4 273.4,439.4 273.8,439.7 274.2,439.4 274.6,439.5 275.0,439.9 275.4,439.6 275.8,439.9 276.2,439.9 276.6,439.8 277.0,439.8 277.4,440.1 277.8,439.8 278.2,439.8 278.6,439.2 279.0,439.5 279.4,439.4 279.8,438.7 280.2,439.4 280.6,440.2 281.0,440.0 281.4,439.7 281.8,439.5 282.2,439.4 282.6,439.8 283.0,440.2 283.4,439.9 283.8,439.7 284.2,439.8 284.6,440.0 285.0,439.7 285.4,439.9 285.8,439.1 286.2,439.8 286.6,439.8 287.0,440.0 287.4,440.4 287.8,440.2 288.2,440.4 288.6,440.1 289.0,440.4 289.4,439.9 289.8,440.1 290.2,440.1 290.6,440.2 291.0,440.2 291.4,440.5 291.8,439.9 292.2,439.7 292.6,439.4 293.0,439.0 293.4,439.6 293.8,439.7 294.2,439.3 294.6,439.4 295.0,439.1 295.4,439.2 295.8,440.1 296.2,439.7 296.6,439.5 297.0,439.6 297.4,439.5 297.8,439.9 298.2,439.8 298.6,439.7 299.0,439.9 299.4,440.1 299.8,439.6 300.2,439.2 300.6,440.0 301.0,439.7 301.4,439.6 301.8,440.2 302.2,440.0 302.6,439.8 303.0,440.0 303.4,440.2 303.8,439.6 304.2,440.2 304.6,440.8 305.0,440.4 305.4,440.7 305.8,440.5 306.2,439.7 306.6,440.1 307.0,439.9 307.4,440.4 307.8,440.6 308.2,440.2 308.6,439.8 309.0,440.0 309.4,440.1 309.8,440.2 310.2,440.1 310.6,439.6 311.0,439.6 311.4,439.7 311.8,439.3 312.2,439.5 312.6,439.4 313.0,439.7 313.4,439.6 313.8,439.4 314.2,439.9 314.6,439.7 315.0,439.9 315.4,439.8 315.8,439.4 316.2,439.6 316.6,439.2 317.0,439.2 317.4,439.3 317.8,439.6 318.2,439.8 318.6,439.7 319.0,439.6 319.4,440.0 319.8,440.1 320.2,440.4 320.6,440.4 321.0,440.4 321.4,439.9 321.8,438.8 322.2,439.1 322.6,438.7 323.0,438.9 323.4,439.8 323.8,439.6 324.2,439.5 324.6,439.4 325.0,439.3 325.4,439.5 325.8,439.4 326.2,439.0 326.6,439.4 327.0,439.3 327.4,439.8 327.8,439.9 328.2,439.3 328.6,440.3 329.0,439.6 329.4,439.8 329.8,439.7 330.2,438.7 330.6,439.0 331.0,439.3 331.4,439.0 331.8,439.1 332.2,439.4 332.6,439.3 333.0,439.3 333.4,439.3 333.8,439.0 334.2,439.4 334.6,439.3 335.0,439.4 335.4,439.5 335.8,440.0 336.2,440.0 336.6,440.5 337.0,439.8 337.4,439.8 337.8,440.0 338.2,439.6 338.6,439.8 339.0,439.8 339.4,439.9 339.8,439.5 340.2,439.7 340.6,439.4 341.0,439.4 341.4,439.3 341.8,439.5 342.2,440.1 342.6,440.3 343.0,440.0 343.4,439.9 343.8,439.7 344.2,439.1 344.6,438.8 345.0,439.0 345.4,439.7 345.8,439.3 346.2,439.2 346.6,439.2 347.0,438.8 347.4,438.3 347.8,438.7 348.2,438.5 348.6,438.8 349.0,438.7 349.4,438.4 349.8,439.0 350.2,438.3 350.6,438.9 351.0,439.0 351.4,439.4 351.8,439.6 352.2,439.6 352.6,439.9 353.0,439.6 353.4,439.5 353.8,439.2 354.2,439.4 354.6,439.8 354.9,439.3 354.9,439.7"/><polygon fill="#6373ee" opacity="0.9" points="122.9,457.0 123.0,454.8 123.8,453.0 123.4,453.1 124.2,452.7 124.7,452.1 124.9,451.2 125.4,451.6 125.5,451.0 125.9,450.5 126.5,450.3 126.7,449.5 127.3,449.3 127.9,449.0 128.1,448.3 128.6,447.9 128.9,447.6 129.3,448.0 129.7,447.6 130.2,447.4 130.7,447.0 131.1,446.8 131.6,446.4 132.0,446.1 132.5,446.0 132.9,445.5 133.6,445.7 134.0,445.2 134.4,444.8 134.8,444.9 135.1,444.8 135.6,444.4 136.1,444.6 135.9,442.4 135.4,442.6 134.9,442.3 134.2,442.3 133.6,442.7 133.0,442.7 132.4,442.6 132.1,443.1 131.5,443.1 131.0,443.3 130.4,443.3 129.9,443.4 129.3,443.5 128.8,443.4 128.3,443.7 127.7,443.7 127.1,444.4 126.4,444.8 125.9,445.1 125.1,445.1 124.7,445.5 124.3,446.0 123.5,445.9 123.1,446.5 122.5,446.7 121.6,446.7 121.1,448.1 120.3,448.4 119.8,448.9 119.6,449.8 118.2,451.0 118.0,453.6 117.1,455.7"/>
<polyline fill="none" stroke="#1b2bd2" stroke-width="2.0" stroke-linejoin="round" points="46.6,495.3 46.6,495.3 47.0,494.9 47.4,495.3 47.8,495.4 48.2,494.9 48.6,494.8 49.0,494.5 49.4,494.7 49.8,495.1 50.2,495.4 50.6,494.9 51.0,495.2 51.4,494.8 51.8,495.2 52.2,494.6 52.6,494.7 53.0,494.8 53.4,494.5 53.8,494.4 54.2,494.7 54.6,495.0 55.0,494.9 55.4,494.9 55.8,494.9 56.2,494.9 56.6,494.8 57.0,494.7 57.4,495.5 57.8,494.9 58.2,495.1 58.6,495.1 59.0,494.8 59.4,494.7 59.8,494.9 60.2,494.5 60.6,494.6 61.0,494.7 61.4,494.9 61.8,495.3 62.2,494.8 62.6,495.2 63.0,495.6 63.4,495.7 63.8,495.8 64.2,495.2 64.6,495.5 65.0,495.7 65.4,495.7 65.8,495.6 66.2,495.7 66.6,495.9 67.0,495.3 67.4,495.1 67.8,495.6 68.2,495.9 68.6,496.1 69.0,495.6 69.4,494.9 69.8,495.0 70.2,494.8 70.6,495.2 71.0,495.3 71.4,495.3 71.8,494.6 72.2,495.4 72.6,495.1 73.0,495.0 73.4,495.8 73.8,494.9 74.2,495.0 74.6,495.2 75.0,495.0 75.4,495.1 75.8,495.2 76.2,494.8 76.6,495.3 77.0,495.1 77.4,495.4 77.8,495.5 78.2,495.4 78.6,495.9 79.0,495.8 79.4,495.4 79.8,495.3 80.2,495.3 80.6,495.4 81.0,495.3 81.4,495.0 81.8,495.1 82.2,494.9 82.6,494.5 83.0,494.6 83.4,494.9 83.8,494.8 84.2,494.9 84.6,495.5 85.0,495.0 85.4,495.2 85.8,494.8 86.2,495.2 86.6,495.7 87.0,495.2 87.4,494.9 87.8,495.0 88.2,495.1 88.6,495.3 89.0,494.9 89.4,494.7 89.8,494.4 90.2,494.4 90.6,495.3 91.0,495.3 91.4,495.7 91.8,495.7 92.2,494.9 92.6,493.9 93.0,494.3 93.4,494.6 93.8,494.4 94.2,495.0 94.6,495.5 95.0,495.3 95.4,495.5 95.8,495.3 96.2,494.6 96.6,494.4 97.0,494.5 97.4,494.4 97.8,494.3 98.2,494.6 98.6,494.4 99.0,494.4 99.4,493.6 99.8,493.9 100.2,494.3 100.6,494.3 101.0,494.2 101.4,493.8 101.8,494.4 102.2,494.6 102.6,494.7 103.0,494.9 103.4,494.8 103.8,494.6 104.2,495.0 104.6,495.3 105.0,494.9 105.4,495.3 105.8,495.1 106.2,495.4 106.6,495.8 107.0,495.1 107.4,495.3 107.8,495.2 108.2,495.5 108.6,495.0 109.0,495.0 109.4,494.5 109.8,494.8 110.2,494.9 110.6,494.6 111.0,494.8 111.4,494.7 111.8,494.8 112.2,494.9 112.6,494.7 113.0,495.2 113.4,495.3 113.8,495.8 114.2,495.7 114.6,495.2 115.0,495.1 115.4,495.4 115.8,495.2 116.2,495.0 116.6,495.2 117.0,494.7 117.4,494.6 117.8,494.7 118.2,495.3 118.2,495.3 118.6,498.6 118.6,498.4 119.0,486.3 119.2,480.9 119.4,477.6 119.8,471.5 120.0,468.2 120.2,469.0 120.6,470.1 121.0,470.3 121.4,472.8 121.8,472.8 122.2,475.1 122.6,474.6 123.0,477.1 123.3,476.8 123.4,478.2 123.8,477.4 124.2,478.8 124.6,478.2 125.0,479.5 125.4,479.4 125.8,480.8 126.2,480.0 126.6,481.8 127.0,480.3 127.4,483.1 127.8,481.8 128.2,483.8 128.6,483.5 129.0,485.3 129.4,483.9 129.8,485.6 130.0,484.1 130.2,485.8 130.6,484.3 131.0,486.0 131.4,485.0 131.8,486.0 132.2,485.3 132.6,487.0 133.0,485.9 133.4,487.0 133.8,486.0 134.2,486.7 134.6,486.8 135.0,487.9 135.4,486.6 135.8,487.3 136.2,486.4 136.6,487.9 137.0,486.7 137.4,488.3 137.8,487.0 138.2,488.6 138.6,487.4 139.0,488.6 139.4,487.2 139.8,488.5 140.2,487.7 140.6,488.8 141.0,487.9 141.3,488.7 141.4,488.0 141.8,488.7 142.2,488.3 142.6,489.6 143.0,488.7 143.4,489.0 143.8,487.9 144.2,488.9 144.6,488.4 145.0,488.8 145.4,488.5 145.8,489.2 146.2,488.3 146.6,489.0 147.0,488.4 147.4,489.3 147.8,488.9 148.2,489.8 148.6,488.3 149.0,489.4 149.4,488.7 149.8,489.4 150.2,488.4 150.6,488.5 151.0,488.9 151.4,489.7 151.8,489.8 152.2,489.7 152.6,489.6 153.0,489.2 153.4,489.6 153.8,489.5 154.2,490.5 154.6,490.0 155.0,489.9 155.4,489.7 155.8,490.0 156.2,489.8 156.6,490.4 157.0,490.1 157.4,490.4 157.8,490.1 158.2,490.1 158.6,490.3 159.0,490.4 159.4,490.2 159.8,490.7 160.2,490.3 160.6,490.6 161.0,491.0 161.4,490.8 161.8,491.0 162.2,491.1 162.6,491.2 163.0,491.2 163.4,491.2 163.8,491.2 163.8,491.1 164.2,491.8 164.6,491.7 165.0,491.3 165.4,490.7 165.8,490.7 166.2,490.9 166.6,491.1 167.0,491.1 167.4,490.8 167.8,491.3 168.2,490.8 168.6,490.8 169.0,490.3 169.4,490.1 169.8,490.5 170.2,490.9 170.6,490.6 171.0,491.0 171.4,491.2 171.8,490.7 172.2,491.3 172.6,490.9 173.0,490.9 173.4,490.9 173.8,491.0 174.2,491.1 174.6,491.2 175.0,491.2 175.4,491.2 175.8,490.9 176.2,490.7 176.6,491.3 177.0,490.7 177.4,490.3 177.8,490.4 178.2,490.3 178.6,490.9 179.0,491.1 179.4,491.2 179.8,491.6 180.2,491.1 180.6,491.1 181.0,492.0 181.4,492.0 181.8,492.2 182.2,491.9 182.6,491.4 183.0,490.8 183.4,491.5 183.8,491.0 184.2,491.5 184.6,491.6 185.0,490.7 185.4,491.1 185.8,490.8 186.2,491.1 186.6,490.9 187.0,491.4 187.4,491.3 187.8,491.4 188.2,490.9 188.6,491.7 189.0,491.4 189.4,490.8 189.8,490.5 190.2,490.6 190.6,490.8 191.0,491.3 191.4,491.6 191.8,491.8 192.2,492.1 192.6,492.0 193.0,492.2 193.4,491.8 193.8,492.1 194.2,491.7 194.6,491.7 195.0,491.1 195.4,491.5 195.8,492.0 196.2,491.7 196.6,491.4 197.0,491.4 197.4,491.6 197.8,491.5 198.2,491.7 198.6,491.7 199.0,491.2 199.4,491.4 199.8,491.4 200.0,491.8 200.2,492.0 200.6,491.5 201.0,491.6 201.4,491.6 201.8,491.8 202.2,492.2 202.6,492.0 203.0,492.1 203.4,491.4 203.8,491.1 204.2,491.3 204.6,491.4 205.0,492.0 205.4,492.1 205.8,492.1 206.2,491.6 206.6,491.1 207.0,491.7 207.4,491.2 207.8,492.1 208.2,491.9 208.6,491.7 209.0,491.7 209.4,491.7 209.8,491.0 210.2,490.8 210.6,491.2 211.0,491.2 211.4,491.2 211.8,491.8 212.2,491.8 212.6,492.2 213.0,492.0 213.4,491.8 213.8,491.5 214.2,491.8 214.6,492.1 215.0,491.9 215.4,492.1 215.8,491.9 216.2,491.8 216.6,491.8 217.0,491.7 217.4,492.3 217.8,492.0 218.2,492.2 218.6,492.4 219.0,492.1 219.4,491.4 219.8,491.8 220.2,491.7 220.6,492.0 221.0,492.0 221.4,492.1 221.8,491.8 222.2,491.6 222.6,491.7 223.0,491.9 223.4,491.8 223.8,491.8 224.2,492.2 224.6,492.4 225.0,492.4 225.4,491.9 225.8,491.6 226.2,491.6 226.6,492.0 227.0,491.4 227.4,491.5 227.8,491.7 228.2,491.9 228.6,491.7 229.0,491.3 229.4,490.7 229.8,491.0 230.2,491.2 230.6,490.9 231.0,490.9 231.4,491.2 231.8,490.9 232.2,491.0 232.6,491.1 233.0,491.5 233.4,491.5 233.8,491.6 234.2,490.7 234.6,491.3 235.0,491.3 235.4,491.7 235.8,491.8 236.2,491.6 236.6,491.7 237.0,491.4 237.4,491.7 237.8,491.5 238.2,491.3 238.6,491.3 239.0,491.9 239.4,492.2 239.8,492.3 240.2,492.2 240.6,492.3 241.0,492.4 241.4,492.1 241.8,492.5 242.2,492.3 242.6,492.8 243.0,492.3 243.4,492.9 243.8,492.6 244.2,492.2 244.6,491.7 245.0,492.3 245.4,492.6 245.8,492.2 246.2,492.6 246.6,492.4 247.0,492.5 247.4,492.3 247.8,492.2 248.2,492.7 248.6,493.0 249.0,492.9 249.4,492.0 249.8,492.3 250.2,492.5 250.6,492.0 251.0,492.0 251.4,491.6 251.8,491.6 252.2,491.3 252.6,491.6 253.0,491.6 253.4,491.5 253.8,491.4 254.2,491.8 254.6,491.6 255.0,491.6 255.4,491.9 255.8,491.9 256.2,492.1 256.6,491.6 257.0,491.7 257.4,491.9 257.8,491.7 258.2,492.1 258.6,492.1 259.0,491.9 259.4,492.0 259.8,492.4 260.2,492.2 260.6,492.0 261.0,492.1 261.4,491.9 261.8,491.7 262.2,491.9 262.6,492.0 263.0,491.9 263.4,492.5 263.8,492.5 264.2,492.0 264.6,492.4 265.0,492.4 265.4,492.0 265.8,491.5 266.2,491.6 266.6,491.9 267.0,491.8 267.4,491.5 267.8,491.9 268.2,491.3 268.6,491.7 269.0,491.8 269.4,492.1 269.8,491.5 270.2,491.2 270.6,491.9 271.0,491.9 271.4,491.7 271.8,491.7 272.2,491.8 272.6,492.1 273.0,492.2 273.4,492.2 273.8,491.8 274.2,491.9 274.6,491.6 275.0,491.8 275.4,491.6 275.8,491.9 276.2,492.0 276.6,492.4 277.0,492.1 277.4,492.4 277.8,492.5 278.2,491.9 278.6,491.4 279.0,492.0 279.4,492.4 279.8,492.0 280.2,492.5 280.6,492.4 281.0,492.5 281.4,492.5 281.8,492.1 282.2,492.1 282.6,491.8 283.0,491.9 283.4,491.8 283.8,491.7 284.2,491.6 284.6,491.6 285.0,491.6 285.4,492.0 285.8,491.4 286.2,491.7 286.6,491.7 287.0,491.5 287.4,492.1 287.8,492.0 288.2,491.3 288.6,491.5 289.0,491.5 289.4,491.9 289.8,491.9 290.2,491.9 290.6,491.7 291.0,491.3 291.4,491.4 291.8,491.5 292.2,491.6 292.6,491.3 293.0,491.9 293.4,491.4 293.8,491.1 294.2,492.0 294.6,492.1 295.0,491.9 295.4,491.8 295.8,491.8 296.2,491.7 296.6,491.6 297.0,492.2 297.4,492.7 297.8,493.0 298.2,492.1 298.6,492.0 299.0,492.0 299.4,491.8 299.8,491.8 300.2,492.0 300.6,492.1 301.0,492.3 301.4,492.0 301.8,492.0 302.2,491.2 302.6,491.5 303.0,492.1 303.4,491.2 303.8,490.9 304.2,490.9 304.6,491.8 305.0,491.9 305.4,491.7 305.8,491.9 306.2,491.4 306.6,491.8 307.0,492.0 307.4,491.6 307.8,491.8 308.2,492.1 308.6,491.8 309.0,492.1 309.4,492.2 309.8,492.0 310.2,491.9 310.6,491.9 311.0,492.0 311.4,492.3 311.8,492.1 312.2,492.2 312.6,491.8 313.0,491.4 313.4,491.7 313.8,491.7 314.2,491.9 314.6,492.1 315.0,491.8 315.4,492.0 315.8,492.2 316.2,492.0 316.6,491.4 317.0,492.0 317.4,492.1 317.8,492.0 318.2,492.5 318.6,492.8 319.0,492.7 319.4,492.5 319.8,492.3 320.2,492.0 320.6,492.6 321.0,492.5 321.4,492.6 321.8,492.5 322.2,492.3 322.6,492.2 323.0,492.3 323.4,492.5 323.8,492.2 324.2,491.9 324.6,492.0 325.0,492.0 325.4,492.9 325.8,492.7 326.2,492.3 326.6,491.8 327.0,492.1 327.4,492.5 327.8,492.3 328.2,492.3 328.6,492.3 329.0,492.0 329.4,492.0 329.8,491.9 330.2,492.2 330.6,492.3 331.0,492.4 331.4,492.2 331.8,492.1 332.2,492.5 332.6,492.6 333.0,493.0 333.4,492.9 333.8,493.1 334.2,492.9 334.6,492.8 335.0,492.8 335.4,492.8 335.8,492.5 336.2,491.9 336.6,492.7 337.0,492.6 337.4,492.3 337.8,492.0 338.2,491.8 338.6,492.3 339.0,492.4 339.4,492.5 339.8,492.4 340.2,492.0 340.6,491.7 341.0,491.5 341.4,492.0 341.8,491.6 342.2,491.5 342.6,491.8 343.0,491.6 343.4,491.7 343.8,491.6 344.2,491.3 344.6,491.2 345.0,491.2 345.4,491.2 345.8,491.4 346.2,491.8 346.6,491.3 347.0,491.4 347.4,491.9 347.8,491.9 348.2,491.6 348.6,492.1 349.0,491.8 349.4,492.0 349.8,492.6 350.2,492.0 350.6,491.9 351.0,492.1 351.4,492.7 351.8,492.9 352.2,492.9 352.6,492.7 353.0,492.9 353.4,492.4 353.8,492.7 354.2,493.4 354.6,492.9 354.9,492.5 354.9,492.2"/><polygon fill="#1b2bd2" opacity="0.9" points="119.7,471.6 120.3,472.9 121.0,474.2 121.7,475.5 122.2,476.9 122.8,478.1 123.4,478.7 124.0,479.2 124.7,479.7 125.2,480.3 125.7,480.8 126.3,480.4 125.8,479.7 125.3,479.1 125.0,478.4 124.6,477.7 124.2,477.2 123.8,476.3 123.3,474.9 123.0,473.5 122.7,472.0 122.3,470.7"/><polygon fill="#1b2bd2" opacity="0.9" points="122.6,481.4 123.3,481.9 123.8,482.5 124.2,483.1 125.0,483.5 125.5,484.1 126.4,484.3 126.7,485.1 127.1,485.7 127.8,486.1 128.9,486.8 129.9,487.5 130.5,487.2 131.0,487.4 131.6,487.4 132.1,487.5 132.5,487.7 133.1,487.7 133.6,487.9 134.1,487.9 134.7,487.7 135.2,488.0 135.7,488.1 136.3,486.1 135.8,485.9 135.3,485.9 134.9,485.4 134.4,485.2 133.9,485.0 133.5,484.7 132.9,484.6 132.4,484.4 132.0,484.1 131.5,484.0 131.1,483.4 131.1,483.8 131.2,483.3 130.9,482.5 130.3,482.0 129.6,481.5 129.5,480.6 129.0,480.0 128.8,479.2 128.2,478.7 127.7,478.1 127.4,477.4"/>
<polyline fill="none" stroke="#101c7c" stroke-width="2.0" stroke-linejoin="round" points="46.6,506.6 46.6,506.0 47.0,506.7 47.4,506.4 47.8,506.4 48.2,506.6 48.6,506.7 49.0,506.4 49.4,506.5 49.8,506.1 50.2,506.3 50.6,506.4 51.0,506.7 51.4,507.2 51.8,507.0 52.2,506.9 52.6,506.3 53.0,506.4 53.4,507.0 53.8,506.5 54.2,506.5 54.6,506.3 55.0,506.2 55.4,506.2 55.8,506.1 56.2,505.9 56.6,506.1 57.0,506.0 57.4,505.8 57.8,505.9 58.2,505.5 58.6,505.7 59.0,506.0 59.4,505.6 59.8,505.7 60.2,506.3 60.6,506.5 61.0,506.9 61.4,507.0 61.8,506.8 62.2,506.5 62.6,506.1 63.0,506.1 63.4,505.9 63.8,506.2 64.2,505.8 64.6,505.6 65.0,505.8 65.4,505.4 65.8,506.1 66.2,506.1 66.6,506.0 67.0,506.2 67.4,506.2 67.8,506.3 68.2,506.7 68.6,506.6 69.0,506.5 69.4,506.9 69.8,506.4 70.2,506.3 70.6,506.3 71.0,506.5 71.4,507.1 71.8,506.8 72.2,506.5 72.6,506.5 73.0,506.5 73.4,506.5 73.8,506.8 74.2,507.0 74.6,507.0 75.0,506.7 75.4,506.9 75.8,505.9 76.2,506.2 76.6,506.1 77.0,505.6 77.4,506.1 77.8,505.8 78.2,505.6 78.6,505.6 79.0,505.6 79.4,505.6 79.8,506.0 80.2,505.9 80.6,506.3 81.0,506.5 81.4,505.9 81.8,506.0 82.2,505.8 82.6,505.8 83.0,505.9 83.4,506.1 83.8,506.3 84.2,506.1 84.6,506.2 85.0,506.4 85.4,505.9 85.8,506.4 86.2,506.1 86.6,505.7 87.0,505.6 87.4,506.3 87.8,506.4 88.2,506.2 88.6,506.4 89.0,506.3 89.4,506.6 89.8,506.6 90.2,506.7 90.6,506.7 91.0,506.8 91.4,506.6 91.8,506.4 92.2,506.2 92.6,506.5 93.0,506.6 93.4,506.4 93.8,506.3 94.2,506.4 94.6,506.7 95.0,506.3 95.4,506.3 95.8,505.9 96.2,506.1 96.6,506.2 97.0,506.0 97.4,505.9 97.8,505.9 98.2,506.1 98.6,506.0 99.0,506.3 99.4,506.6 99.8,506.4 100.2,506.1 100.6,505.6 101.0,506.0 101.4,506.2 101.8,506.2 102.2,505.7 102.6,505.8 103.0,505.4 103.4,505.7 103.8,505.8 104.2,505.7 104.6,506.2 105.0,506.4 105.4,506.1 105.8,506.0 106.2,506.3 106.6,506.1 107.0,506.4 107.4,506.0 107.8,506.5 108.2,506.7 108.6,507.1 109.0,507.2 109.4,507.0 109.8,507.1 110.2,506.7 110.6,507.1 111.0,506.5 111.4,506.9 111.8,506.6 112.2,506.4 112.6,506.4 113.0,506.5 113.4,505.7 113.8,505.9 114.2,505.8 114.6,506.0 115.0,506.4 115.4,506.1 115.8,505.8 116.2,505.9 116.6,505.6 117.0,505.3 117.4,505.4 117.8,505.6 118.2,506.2 118.4,506.5 118.6,523.1 118.8,540.5 119.0,538.7 119.4,536.1 119.8,532.7 120.2,529.1 120.6,527.3 121.0,522.4 121.0,524.3 121.4,521.1 121.8,520.9 122.2,517.8 122.6,518.1 123.0,515.5 123.4,515.1 123.8,512.8 124.2,512.7 124.4,511.2 124.6,512.5 125.0,510.9 125.4,511.3 125.8,510.3 126.2,511.4 126.6,510.3 127.0,510.8 127.4,510.3 127.8,511.3 128.2,509.9 128.6,510.1 129.0,509.5 129.4,509.5 129.8,508.7 130.2,509.4 130.6,509.1 131.0,508.9 131.4,509.1 131.8,507.9 132.2,508.1 132.6,508.0 133.0,507.7 133.4,508.0 133.8,507.4 134.2,507.3 134.5,506.9 134.6,507.1 135.0,507.0 135.4,507.2 135.8,507.5 136.2,507.5 136.6,507.6 137.0,507.3 137.4,507.8 137.8,507.8 138.2,507.4 138.6,507.7 139.0,507.1 139.4,507.4 139.8,506.7 140.2,506.6 140.6,506.9 141.0,507.1 141.4,507.8 141.8,508.1 142.2,507.4 142.6,507.6 143.0,507.5 143.4,507.3 143.8,507.6 144.2,507.6 144.6,507.8 145.0,507.6 145.4,508.0 145.8,508.0 146.2,508.5 146.6,508.1 147.0,507.8 147.4,507.7 147.8,507.5 148.2,507.7 148.6,507.7 149.0,507.8 149.4,508.4 149.8,508.0 150.2,507.9 150.6,507.8 151.0,508.1 151.4,508.0 151.8,508.0 152.2,508.0 152.6,507.5 153.0,507.6 153.4,507.3 153.8,507.7 154.2,507.9 154.6,507.7 155.0,508.1 155.4,508.3 155.8,508.2 156.2,508.0 156.6,508.1 157.0,507.9 157.4,507.4 157.8,507.1 158.2,507.6 158.6,507.7 159.0,507.6 159.4,507.7 159.8,507.5 160.2,507.3 160.6,507.1 161.0,507.2 161.4,506.9 161.8,507.0 162.2,506.8 162.6,507.0 163.0,506.9 163.4,506.4 163.8,506.4 164.2,506.6 164.6,506.7 165.0,506.7 165.4,507.0 165.8,507.2 166.2,507.4 166.6,507.7 167.0,506.9 167.4,506.8 167.8,507.1 168.2,507.2 168.6,507.1 169.0,507.3 169.4,507.0 169.8,507.0 170.2,506.9 170.6,507.1 171.0,506.9 171.4,507.1 171.8,507.2 172.2,507.6 172.6,507.0 173.0,507.1 173.4,506.6 173.8,506.6 174.2,507.0 174.6,506.5 175.0,507.0 175.4,506.7 175.8,506.1 176.2,506.1 176.6,506.2 177.0,506.6 177.4,506.6 177.8,506.7 178.2,507.3 178.6,507.0 179.0,507.0 179.4,506.5 179.8,506.5 180.2,507.3 180.6,507.0 181.0,506.7 181.4,506.7 181.8,506.7 182.2,506.6 182.6,506.6 183.0,507.1 183.4,507.1 183.8,506.8 184.2,506.9 184.6,506.9 185.0,507.1 185.4,506.9 185.8,506.6 186.2,506.0 186.6,506.5 187.0,506.1 187.4,506.2 187.8,506.5 188.2,505.7 188.6,506.4 189.0,507.1 189.4,506.8 189.8,507.1 190.2,506.8 190.6,507.2 191.0,506.8 191.4,506.8 191.8,506.5 192.2,506.2 192.6,506.0 193.0,506.3 193.4,506.4 193.8,506.4 194.2,506.9 194.6,507.0 195.0,506.8 195.4,507.0 195.8,507.1 196.2,507.0 196.6,506.8 197.0,506.9 197.4,507.1 197.8,506.8 198.2,506.6 198.6,506.5 199.0,505.8 199.4,506.1 199.8,505.8 200.0,506.1 200.2,506.3 200.6,506.2 201.0,505.5 201.4,505.5 201.8,505.8 202.2,506.2 202.6,505.9 203.0,505.6 203.4,506.3 203.8,506.2 204.2,506.5 204.6,506.1 205.0,505.6 205.4,506.3 205.8,506.0 206.2,505.7 206.6,505.8 207.0,505.9 207.4,505.7 207.8,506.0 208.2,505.9 208.6,506.3 209.0,506.5 209.4,506.2 209.8,506.3 210.2,506.0 210.6,505.9 211.0,505.9 211.4,506.2 211.8,506.0 212.2,505.8 212.6,505.9 213.0,506.3 213.4,506.7 213.8,507.3 214.2,507.3 214.6,506.9 215.0,506.9 215.4,507.2 215.8,507.3 216.2,506.7 216.6,507.3 217.0,507.3 217.4,506.8 217.8,506.8 218.2,506.8 218.6,506.4 219.0,506.5 219.4,506.2 219.8,506.4 220.2,506.7 220.6,506.1 221.0,507.0 221.4,506.8 221.8,506.5 222.2,506.1 222.6,505.8 223.0,506.6 223.4,506.7 223.8,506.6 224.2,506.5 224.6,506.3 225.0,506.3 225.4,506.5 225.8,505.9 226.2,506.3 226.6,505.7 227.0,505.2 227.4,505.6 227.8,505.1 228.2,505.1 228.6,505.4 229.0,505.7 229.4,505.7 229.8,505.9 230.2,505.6 230.6,505.9 231.0,505.9 231.4,505.8 231.8,505.5 232.2,505.8 232.6,505.9 233.0,505.6 233.4,505.2 233.8,505.3 234.2,505.8 234.6,505.4 235.0,506.2 235.4,506.2 235.8,506.3 236.2,506.1 236.6,506.9 237.0,506.1 237.4,506.3 237.8,506.2 238.2,505.8 238.6,505.9 239.0,505.7 239.4,505.8 239.8,505.5 240.2,505.6 240.6,505.8 241.0,505.7 241.4,505.9 241.8,506.4 242.2,507.0 242.6,506.3 243.0,506.0 243.4,505.8 243.8,505.4 244.2,506.0 244.6,505.8 245.0,505.7 245.4,505.7 245.8,506.3 246.2,506.5 246.6,506.0 247.0,506.0 247.4,505.8 247.8,505.5 248.2,505.8 248.6,505.7 249.0,506.0 249.4,505.3 249.8,506.1 250.2,505.4 250.6,505.6 251.0,506.3 251.4,506.1 251.8,506.3 252.2,505.4 252.6,505.9 253.0,506.1 253.4,506.2 253.8,505.8 254.2,505.8 254.6,506.0 255.0,506.3 255.4,505.9 255.8,506.3 256.2,506.2 256.6,506.2 257.0,506.4 257.4,506.1 257.8,506.0 258.2,506.2 258.6,506.3 259.0,506.6 259.4,506.7 259.8,506.0 260.2,505.9 260.6,505.9 261.0,506.0 261.4,505.8 261.8,505.6 262.2,505.6 262.6,505.1 263.0,505.0 263.4,505.0 263.8,505.4 264.2,505.5 264.6,505.4 265.0,505.9 265.4,506.1 265.8,505.6 266.2,505.6 266.6,505.9 267.0,506.2 267.4,505.5 267.8,505.6 268.2,506.1 268.6,506.5 269.0,505.8 269.4,506.1 269.8,506.1 270.2,506.0 270.6,506.4 271.0,505.9 271.4,505.9 271.8,505.4 272.2,505.4 272.6,505.3 273.0,505.3 273.4,504.5 273.8,504.9 274.2,505.7 274.6,505.7 275.0,505.4 275.4,505.8 275.8,505.8 276.2,505.8 276.6,506.1 277.0,506.4 277.4,506.7 277.8,506.8 278.2,507.0 278.6,507.0 279.0,507.3 279.4,507.0 279.8,506.8 280.2,506.6 280.6,506.4 281.0,506.0 281.4,506.0 281.8,505.7 282.2,506.2 282.6,505.8 283.0,505.9 283.4,506.1 283.8,505.9 284.2,505.9 284.6,506.2 285.0,506.4 285.4,506.3 285.8,506.1 286.2,506.2 286.6,506.2 287.0,506.1 287.4,506.0 287.8,505.9 288.2,505.6 288.6,505.9 289.0,505.8 289.4,506.1 289.8,506.3 290.2,506.3 290.6,506.4 291.0,506.2 291.4,506.5 291.8,505.8 292.2,505.8 292.6,506.1 293.0,506.0 293.4,506.2 293.8,506.0 294.2,506.1 294.6,506.0 295.0,506.2 295.4,506.4 295.8,506.6 296.2,506.3 296.6,505.7 297.0,505.6 297.4,505.7 297.8,505.6 298.2,505.3 298.6,505.3 299.0,505.0 299.4,505.4 299.8,505.7 300.2,505.8 300.6,506.3 301.0,505.7 301.4,505.9 301.8,506.0 302.2,506.4 302.6,506.5 303.0,506.0 303.4,506.1 303.8,506.1 304.2,506.2 304.6,506.5 305.0,507.2 305.4,506.8 305.8,506.8 306.2,506.2 306.6,506.6 307.0,506.0 307.4,506.0 307.8,506.8 308.2,506.6 308.6,506.0 309.0,505.8 309.4,505.9 309.8,505.7 310.2,505.5 310.6,505.8 311.0,506.0 311.4,505.4 311.8,505.6 312.2,506.1 312.6,505.9 313.0,506.1 313.4,506.4 313.8,505.9 314.2,505.9 314.6,505.9 315.0,505.8 315.4,506.1 315.8,505.7 316.2,506.1 316.6,506.2 317.0,505.8 317.4,506.5 317.8,506.5 318.2,506.5 318.6,506.5 319.0,506.8 319.4,506.5 319.8,506.1 320.2,505.9 320.6,505.9 321.0,506.1 321.4,505.8 321.8,505.9 322.2,506.1 322.6,506.4 323.0,506.1 323.4,506.2 323.8,506.3 324.2,506.2 324.6,505.5 325.0,505.2 325.4,505.3 325.8,505.8 326.2,505.8 326.6,506.5 327.0,506.4 327.4,506.4 327.8,506.1 328.2,506.1 328.6,506.4 329.0,506.1 329.4,506.2 329.8,506.2 330.2,506.1 330.6,505.8 331.0,505.7 331.4,505.4 331.8,505.5 332.2,505.4 332.6,505.9 333.0,506.1 333.4,505.9 333.8,506.2 334.2,505.6 334.6,505.5 335.0,505.5 335.4,505.8 335.8,505.7 336.2,505.7 336.6,506.2 337.0,506.5 337.4,506.3 337.8,506.6 338.2,506.3 338.6,506.6 339.0,506.6 339.4,506.2 339.8,506.3 340.2,506.2 340.6,506.7 341.0,506.1 341.4,505.7 341.8,506.2 342.2,505.8 342.6,505.5 343.0,505.3 343.4,504.9 343.8,505.2 344.2,504.8 344.6,505.0 345.0,505.2 345.4,505.4 345.8,505.7 346.2,505.8 346.6,505.4 347.0,505.8 347.4,505.6 347.8,505.6 348.2,505.5 348.6,505.6 349.0,506.3 349.4,506.3 349.8,506.7 350.2,506.8 350.6,506.8 351.0,505.9 351.4,505.8 351.8,505.7 352.2,505.7 352.6,505.8 353.0,505.4 353.4,505.7 353.8,505.7 354.2,505.8 354.6,506.4 354.9,506.1 354.9,506.1"/>
<line x1="137.3" y1="517.3" x2="137.3" y2="540.9" stroke="#3a3a3a" stroke-width="1.4"/>
<line x1="133.9" y1="517.3" x2="140.9" y2="517.3" stroke="#3a3a3a" stroke-width="1.4"/>
<line x1="133.9" y1="540.9" x2="140.9" y2="540.9" stroke="#3a3a3a" stroke-width="1.4"/>
<text x="140.9" y="534.9" font-size="12.2" fill="#222" stroke="#222" stroke-width="0.28" font-weight="normal" font-style="normal" text-anchor="start" textLength="29.5" lengthAdjust="spacingAndGlyphs" >1 mV</text>
<text x="283.2" y="357.6" font-size="14.0" fill="#b3bef8" stroke="#b3bef8" stroke-width="0.28" font-weight="normal" font-style="normal" text-anchor="start" textLength="40.1" lengthAdjust="spacingAndGlyphs" >0.39 V</text>
<text x="283.6" y="419.4" font-size="14.0" fill="#8d99f2" stroke="#8d99f2" stroke-width="0.28" font-weight="normal" font-style="normal" text-anchor="start" textLength="39.7" lengthAdjust="spacingAndGlyphs" >0.09 V</text>
<text x="279.3" y="456.7" font-size="14.0" fill="#6373ea" stroke="#6373ea" stroke-width="0.28" font-weight="normal" font-style="normal" text-anchor="start" textLength="44.0" lengthAdjust="spacingAndGlyphs" >-0.06 V</text>
<text x="278.8" y="486.1" font-size="14.0" fill="#2c3db2" stroke="#2c3db2" stroke-width="0.28" font-weight="normal" font-style="normal" text-anchor="start" textLength="44.4" lengthAdjust="spacingAndGlyphs" >-0.26 V</text>
<text x="278.8" y="530.5" font-size="14.0" fill="#1c2372" stroke="#1c2372" stroke-width="0.28" font-weight="normal" font-style="normal" text-anchor="start" textLength="44.4" lengthAdjust="spacingAndGlyphs" >-0.31 V</text>
<text x="197.2" y="557.6" font-size="15" font-weight="bold" fill="#1a1af0" textLength="155" lengthAdjust="spacingAndGlyphs">Cu(111)/0.2 ML Ni(OH)<tspan dy="4.4" font-size="10.8">2</tspan></text>
<text x="368.0" y="324.1" font-size="19.5" fill="#000" font-weight="bold" font-style="normal" text-anchor="start" textLength="23" lengthAdjust="spacingAndGlyphs" >(d)</text>
<rect x="440.4" y="317.2" width="308.4" height="249.3" fill="none" stroke="#222" stroke-width="1.5"/>
<line x1="459.8" y1="566.5" x2="459.8" y2="571.5" stroke="#222" stroke-width="1.2"/>
<line x1="498.4" y1="566.5" x2="498.4" y2="571.5" stroke="#222" stroke-width="1.2"/>
<line x1="537.1" y1="566.5" x2="537.1" y2="571.5" stroke="#222" stroke-width="1.2"/>
<line x1="575.7" y1="566.5" x2="575.7" y2="571.5" stroke="#222" stroke-width="1.2"/>
<line x1="614.4" y1="566.5" x2="614.4" y2="571.5" stroke="#222" stroke-width="1.2"/>
<line x1="653.0" y1="566.5" x2="653.0" y2="571.5" stroke="#222" stroke-width="1.2"/>
<line x1="691.7" y1="566.5" x2="691.7" y2="571.5" stroke="#222" stroke-width="1.2"/>
<line x1="730.3" y1="566.5" x2="730.3" y2="571.5" stroke="#222" stroke-width="1.2"/>
<line x1="440.4" y1="566.5" x2="440.4" y2="568.7" stroke="#222" stroke-width="1.2"/>
<line x1="479.1" y1="566.5" x2="479.1" y2="568.7" stroke="#222" stroke-width="1.2"/>
<line x1="517.7" y1="566.5" x2="517.7" y2="568.7" stroke="#222" stroke-width="1.2"/>
<line x1="556.4" y1="566.5" x2="556.4" y2="568.7" stroke="#222" stroke-width="1.2"/>
<line x1="595.0" y1="566.5" x2="595.0" y2="568.7" stroke="#222" stroke-width="1.2"/>
<line x1="633.7" y1="566.5" x2="633.7" y2="568.7" stroke="#222" stroke-width="1.2"/>
<line x1="672.3" y1="566.5" x2="672.3" y2="568.7" stroke="#222" stroke-width="1.2"/>
<line x1="711.0" y1="566.5" x2="711.0" y2="568.7" stroke="#222" stroke-width="1.2"/>
<line x1="440.4" y1="541.3" x2="435.79999999999995" y2="541.3" stroke="#222" stroke-width="1.2"/>
<line x1="440.4" y1="491.5" x2="435.79999999999995" y2="491.5" stroke="#222" stroke-width="1.2"/>
<line x1="440.4" y1="441.7" x2="435.79999999999995" y2="441.7" stroke="#222" stroke-width="1.2"/>
<line x1="440.4" y1="391.9" x2="435.79999999999995" y2="391.9" stroke="#222" stroke-width="1.2"/>
<line x1="440.4" y1="342.1" x2="435.79999999999995" y2="342.1" stroke="#222" stroke-width="1.2"/>
<line x1="440.4" y1="566.2" x2="438.2" y2="566.2" stroke="#222" stroke-width="1.2"/>
<line x1="440.4" y1="516.4" x2="438.2" y2="516.4" stroke="#222" stroke-width="1.2"/>
<line x1="440.4" y1="466.6" x2="438.2" y2="466.6" stroke="#222" stroke-width="1.2"/>
<line x1="440.4" y1="416.8" x2="438.2" y2="416.8" stroke="#222" stroke-width="1.2"/>
<line x1="440.4" y1="367.0" x2="438.2" y2="367.0" stroke="#222" stroke-width="1.2"/>
<line x1="440.4" y1="317.2" x2="438.2" y2="317.2" stroke="#222" stroke-width="1.2"/>
<text x="432.79999999999995" y="544.7" font-size="12.8" fill="#222" stroke="#222" stroke-width="0.28" font-weight="normal" font-style="normal" text-anchor="end" >-0.8</text>
<text x="432.79999999999995" y="494.9" font-size="12.8" fill="#222" stroke="#222" stroke-width="0.28" font-weight="normal" font-style="normal" text-anchor="end" >-0.4</text>
<text x="432.79999999999995" y="445.1" font-size="12.8" fill="#222" stroke="#222" stroke-width="0.28" font-weight="normal" font-style="normal" text-anchor="end" >0.0</text>
<text x="432.79999999999995" y="395.3" font-size="12.8" fill="#222" stroke="#222" stroke-width="0.28" font-weight="normal" font-style="normal" text-anchor="end" >0.4</text>
<text x="432.79999999999995" y="345.5" font-size="12.8" fill="#222" stroke="#222" stroke-width="0.28" font-weight="normal" font-style="normal" text-anchor="end" >0.8</text>
<text x="459.0" y="586.3" font-size="12.8" fill="#222" stroke="#222" stroke-width="0.28" font-weight="normal" font-style="normal" text-anchor="middle" >-0.3</text>
<text x="497.6" y="586.3" font-size="12.8" fill="#222" stroke="#222" stroke-width="0.28" font-weight="normal" font-style="normal" text-anchor="middle" >-0.2</text>
<text x="536.3" y="586.3" font-size="12.8" fill="#222" stroke="#222" stroke-width="0.28" font-weight="normal" font-style="normal" text-anchor="middle" >-0.1</text>
<text x="575.7" y="586.3" font-size="12.8" fill="#222" stroke="#222" stroke-width="0.28" font-weight="normal" font-style="normal" text-anchor="middle" >0.0</text>
<text x="614.4" y="586.3" font-size="12.8" fill="#222" stroke="#222" stroke-width="0.28" font-weight="normal" font-style="normal" text-anchor="middle" >0.1</text>
<text x="653.0" y="586.3" font-size="12.8" fill="#222" stroke="#222" stroke-width="0.28" font-weight="normal" font-style="normal" text-anchor="middle" >0.2</text>
<text x="691.7" y="586.3" font-size="12.8" fill="#222" stroke="#222" stroke-width="0.28" font-weight="normal" font-style="normal" text-anchor="middle" >0.3</text>
<text x="730.3" y="586.3" font-size="12.8" fill="#222" stroke="#222" stroke-width="0.28" font-weight="normal" font-style="normal" text-anchor="middle" >0.4</text>
<line x1="441.0" y1="442.3" x2="748.8" y2="442.3" stroke="#444" stroke-width="1.1" stroke-dasharray="2.6,2.88"/>
<text x="569.2" y="617.3" font-size="17" fill="#222" stroke="#222" stroke-width="0.28" textLength="50.5" lengthAdjust="spacingAndGlyphs"><tspan font-style="italic">E</tspan> / V<tspan dy="4" font-size="10.5">RHE</tspan></text>
<text transform="translate(391.4,500.3) rotate(-90)" font-size="16.5" fill="#222" stroke="#222" stroke-width="0.28" textLength="126" lengthAdjust="spacingAndGlyphs">(∂E/∂T)<tspan dy="4" font-size="10.5">q</tspan><tspan dy="-4"> / mV K</tspan><tspan dy="-6" font-size="10.5">-1</tspan></text>
<line x1="539.2" y1="516.4" x2="565.8" y2="516.4" stroke="#000000" stroke-width="1.15"/>
<line x1="575.4" y1="511.6" x2="579.4" y2="506.3" stroke="#000000" stroke-width="1.15"/>
<line x1="584.7" y1="495.7" x2="585.7" y2="492.3" stroke="#000000" stroke-width="1.15"/>
<line x1="588.6" y1="480.7" x2="589.8" y2="475.4" stroke="#000000" stroke-width="1.15"/>
<line x1="593.4" y1="464.0" x2="598.2" y2="452.2" stroke="#000000" stroke-width="1.15"/>
<line x1="602.2" y1="441.0" x2="608.7" y2="420.5" stroke="#000000" stroke-width="1.15"/>
<line x1="614.7" y1="410.6" x2="644.9" y2="380.5" stroke="#000000" stroke-width="1.15"/>
<line x1="653.6" y1="372.2" x2="683.3" y2="346.1" stroke="#000000" stroke-width="1.15"/>
<line x1="690.0" y1="347.7" x2="724.2" y2="431.4" stroke="#000000" stroke-width="1.15"/>
<polygon fill="#000000" points="533.2,511.5 537.5,513.9 537.5,518.9 533.2,521.3 528.9,518.9 528.9,513.9"/>
<polygon fill="#000000" points="571.8,511.5 576.1,513.9 576.1,518.9 571.8,521.3 567.5,518.9 567.5,513.9"/>
<polygon fill="#000000" points="583.0,496.6 587.3,499.0 587.3,503.9 583.0,506.4 578.7,503.9 578.7,499.0"/>
<polygon fill="#000000" points="587.3,481.6 591.6,484.1 591.6,489.0 587.3,491.4 583.0,489.0 583.0,484.1"/>
<polygon fill="#000000" points="591.2,464.7 595.5,467.1 595.5,472.0 591.2,474.5 586.9,472.0 586.9,467.1"/>
<polygon fill="#000000" points="600.4,441.8 604.7,444.2 604.7,449.1 600.4,451.6 596.1,449.1 596.1,444.2"/>
<polygon fill="#000000" points="610.5,409.9 614.8,412.4 614.8,417.3 610.5,419.7 606.2,417.3 606.2,412.4"/>
<polygon fill="#000000" points="649.1,371.3 653.4,373.8 653.4,378.7 649.1,381.1 644.8,378.7 644.8,373.8"/>
<polygon fill="#000000" points="687.8,337.2 692.1,339.6 692.1,344.5 687.8,347.0 683.5,344.5 683.5,339.6"/>
<polygon fill="#000000" points="726.4,432.1 730.7,434.5 730.7,439.4 726.4,441.9 722.1,439.4 722.1,434.5"/>
<line x1="461.4" y1="535.9" x2="489.0" y2="524.3" stroke="#0f820f" stroke-width="1.15"/>
<line x1="508.2" y1="516.2" x2="527.3" y2="512.5" stroke="#0f820f" stroke-width="1.15"/>
<line x1="539.2" y1="511.8" x2="546.5" y2="512.3" stroke="#0f820f" stroke-width="1.15"/>
<line x1="558.1" y1="514.9" x2="565.9" y2="517.9" stroke="#0f820f" stroke-width="1.15"/>
<line x1="575.5" y1="515.7" x2="588.2" y2="502.1" stroke="#0f820f" stroke-width="1.15"/>
<line x1="601.2" y1="476.1" x2="601.6" y2="474.6" stroke="#0f820f" stroke-width="1.15"/>
<line x1="607.7" y1="455.8" x2="609.1" y2="450.0" stroke="#0f820f" stroke-width="1.15"/>
<line x1="615.5" y1="440.9" x2="644.1" y2="422.5" stroke="#0f820f" stroke-width="1.15"/>
<line x1="655.1" y1="419.5" x2="681.8" y2="420.3" stroke="#0f820f" stroke-width="1.15"/>
<line x1="692.5" y1="424.3" x2="721.7" y2="447.7" stroke="#0f820f" stroke-width="1.15"/>
<polygon fill="#0f820f" points="455.9,533.3 460.2,535.7 460.2,540.6 455.9,543.1 451.6,540.6 451.6,535.7"/>
<polygon fill="#0f820f" points="494.5,517.1 498.8,519.6 498.8,524.5 494.5,526.9 490.2,524.5 490.2,519.6"/>
<polygon fill="#0f820f" points="502.3,512.4 506.6,514.8 506.6,519.7 502.3,522.2 498.0,519.7 498.0,514.8"/>
<polygon fill="#0f820f" points="533.2,506.5 537.5,509.0 537.5,513.9 533.2,516.3 528.9,513.9 528.9,509.0"/>
<polygon fill="#0f820f" points="552.5,507.8 556.8,510.2 556.8,515.1 552.5,517.6 548.2,515.1 548.2,510.2"/>
<polygon fill="#0f820f" points="571.4,515.2 575.7,517.7 575.7,522.6 571.4,525.0 567.1,522.6 567.1,517.7"/>
<polygon fill="#0f820f" points="592.3,492.8 596.6,495.3 596.6,500.2 592.3,502.6 588.0,500.2 588.0,495.3"/>
<polygon fill="#0f820f" points="596.2,485.7 600.5,488.2 600.5,493.1 596.2,495.5 591.9,493.1 591.9,488.2"/>
<polygon fill="#0f820f" points="599.7,477.0 604.0,479.5 604.0,484.4 599.7,486.8 595.4,484.4 595.4,479.5"/>
<polygon fill="#0f820f" points="603.1,463.9 607.4,466.4 607.4,471.3 603.1,473.7 598.8,471.3 598.8,466.4"/>
<polygon fill="#0f820f" points="606.2,456.7 610.5,459.2 610.5,464.1 606.2,466.5 601.9,464.1 601.9,459.2"/>
<polygon fill="#0f820f" points="610.5,439.3 614.8,441.7 614.8,446.6 610.5,449.1 606.2,446.6 606.2,441.7"/>
<polygon fill="#0f820f" points="649.1,414.4 653.4,416.8 653.4,421.7 649.1,424.2 644.8,421.7 644.8,416.8"/>
<polygon fill="#0f820f" points="687.8,415.6 692.1,418.1 692.1,423.0 687.8,425.4 683.5,423.0 683.5,418.1"/>
<polygon fill="#0f820f" points="726.4,446.5 730.7,449.0 730.7,453.9 726.4,456.3 722.1,453.9 722.1,449.0"/>
<line x1="459.2" y1="499.0" x2="461.8" y2="495.2" stroke="#0c0cf2" stroke-width="1.15"/>
<line x1="467.4" y1="484.7" x2="473.0" y2="470.9" stroke="#0c0cf2" stroke-width="1.15"/>
<line x1="477.8" y1="459.9" x2="492.0" y2="429.7" stroke="#0c0cf2" stroke-width="1.15"/>
<line x1="497.5" y1="429.5" x2="510.9" y2="452.7" stroke="#0c0cf2" stroke-width="1.15"/>
<line x1="517.1" y1="463.0" x2="529.6" y2="482.7" stroke="#0c0cf2" stroke-width="1.15"/>
<line x1="536.3" y1="492.6" x2="540.9" y2="499.1" stroke="#0c0cf2" stroke-width="1.15"/>
<line x1="547.5" y1="509.1" x2="549.4" y2="512.1" stroke="#0c0cf2" stroke-width="1.15"/>
<line x1="558.5" y1="516.6" x2="565.5" y2="515.8" stroke="#0c0cf2" stroke-width="1.15"/>
<line x1="575.4" y1="510.6" x2="580.6" y2="504.7" stroke="#0c0cf2" stroke-width="1.15"/>
<line x1="596.5" y1="472.1" x2="600.8" y2="459.3" stroke="#0c0cf2" stroke-width="1.15"/>
<line x1="604.6" y1="447.9" x2="608.6" y2="435.5" stroke="#0c0cf2" stroke-width="1.15"/>
<line x1="615.5" y1="426.5" x2="644.1" y2="408.3" stroke="#0c0cf2" stroke-width="1.15"/>
<line x1="655.1" y1="404.5" x2="681.8" y2="401.8" stroke="#0c0cf2" stroke-width="1.15"/>
<line x1="692.1" y1="405.4" x2="722.1" y2="433.6" stroke="#0c0cf2" stroke-width="1.15"/>
<polygon fill="#0c0cf2" points="455.9,499.1 460.2,501.5 460.2,506.4 455.9,508.8 451.6,506.4 451.6,501.5"/>
<polygon fill="#0c0cf2" points="465.2,485.4 469.5,487.8 469.5,492.7 465.2,495.2 460.9,492.7 460.9,487.8"/>
<polygon fill="#0c0cf2" points="475.2,460.5 479.5,462.9 479.5,467.8 475.2,470.3 470.9,467.8 470.9,462.9"/>
<polygon fill="#0c0cf2" points="494.5,419.4 498.8,421.8 498.8,426.7 494.5,429.2 490.2,426.7 490.2,421.8"/>
<polygon fill="#0c0cf2" points="513.9,453.0 518.2,455.4 518.2,460.3 513.9,462.8 509.6,460.3 509.6,455.4"/>
<polygon fill="#0c0cf2" points="532.8,482.9 537.1,485.3 537.1,490.2 532.8,492.7 528.5,490.2 528.5,485.3"/>
<polygon fill="#0c0cf2" points="544.4,499.1 548.7,501.5 548.7,506.4 544.4,508.8 540.1,506.4 540.1,501.5"/>
<polygon fill="#0c0cf2" points="552.5,512.4 556.8,514.8 556.8,519.7 552.5,522.2 548.2,519.7 548.2,514.8"/>
<polygon fill="#0c0cf2" points="571.4,510.3 575.7,512.7 575.7,517.6 571.4,520.1 567.1,517.6 567.1,512.7"/>
<polygon fill="#0c0cf2" points="584.6,495.3 588.9,497.8 588.9,502.7 584.6,505.1 580.3,502.7 580.3,497.8"/>
<polygon fill="#0c0cf2" points="586.5,492.2 590.8,494.7 590.8,499.6 586.5,502.0 582.2,499.6 582.2,494.7"/>
<polygon fill="#0c0cf2" points="591.5,481.6 595.8,484.1 595.8,489.0 591.5,491.4 587.2,489.0 587.2,484.1"/>
<polygon fill="#0c0cf2" points="594.6,472.9 598.9,475.4 598.9,480.3 594.6,482.7 590.3,480.3 590.3,475.4"/>
<polygon fill="#0c0cf2" points="602.8,448.8 607.1,451.2 607.1,456.1 602.8,458.6 598.5,456.1 598.5,451.2"/>
<polygon fill="#0c0cf2" points="610.5,424.8 614.8,427.3 614.8,432.2 610.5,434.6 606.2,432.2 606.2,427.3"/>
<polygon fill="#0c0cf2" points="649.1,400.2 653.4,402.6 653.4,407.5 649.1,410.0 644.8,407.5 644.8,402.6"/>
<polygon fill="#0c0cf2" points="687.8,396.3 692.1,398.8 692.1,403.7 687.8,406.1 683.5,403.7 683.5,398.8"/>
<polygon fill="#0c0cf2" points="726.4,432.8 730.7,435.3 730.7,440.2 726.4,442.6 722.1,440.2 722.1,435.3"/>
<text x="443.8" y="332.4" font-size="13" font-weight="bold" fill="#000" textLength="42" lengthAdjust="spacingAndGlyphs">Cu(111)</text>
<text x="443.8" y="352.2" font-size="13" font-weight="bold" fill="#118811" textLength="132" lengthAdjust="spacingAndGlyphs">Cu(111)/0.1 ML Ni(OH)<tspan dy="3.8" font-size="9.8">2</tspan></text>
<text x="443.8" y="374.2" font-size="13" font-weight="bold" fill="#1414f0" textLength="132" lengthAdjust="spacingAndGlyphs">Cu(111)/0.2 ML Ni(OH)<tspan dy="3.8" font-size="9.8">2</tspan></text>
</svg></body></html>
